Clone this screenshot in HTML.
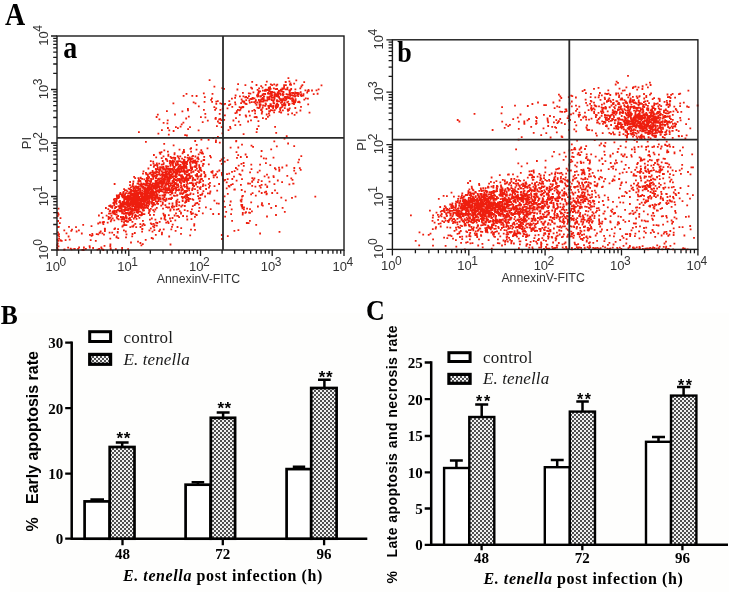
<!DOCTYPE html>
<html><head><meta charset="utf-8"><style>
html,body{margin:0;padding:0;background:#fff;}
svg{display:block;filter:blur(0.3px);}
</style></head><body>
<svg width="729" height="592" viewBox="0 0 729 592">
<defs><pattern id="chk" width="4" height="4" patternUnits="userSpaceOnUse"><rect width="4" height="4" fill="#f2f2f2"/><rect width="2" height="2" fill="#505050"/><rect x="2" y="2" width="2" height="2" fill="#505050"/></pattern></defs>
<rect width="729" height="592" fill="#fff"/>
<rect x="10" y="313" width="719" height="279" fill="#fefefd"/>
<path fill="#ee1e0e" d="M136.5 193.4h1.8v1.8h-1.8zM140.5 201.5h1.8v1.8h-1.8zM132.7 208.3h1.8v1.8h-1.8zM124.3 207.8h1.8v1.8h-1.8zM130.3 189h1.8v1.8h-1.8zM122.9 200.4h1.8v1.8h-1.8zM137.3 189.2h1.8v1.8h-1.8zM154.7 196.8h1.8v1.8h-1.8zM129.7 193h1.8v1.8h-1.8zM128 205.3h1.8v1.8h-1.8zM143.1 197.6h1.8v1.8h-1.8zM141.3 177.9h1.8v1.8h-1.8zM137.9 192h1.8v1.8h-1.8zM123.8 205.7h1.8v1.8h-1.8zM136.1 199h1.8v1.8h-1.8zM145.9 193.1h1.8v1.8h-1.8zM118.1 194.2h1.8v1.8h-1.8zM130.2 203.8h1.8v1.8h-1.8zM110.5 218.9h1.8v1.8h-1.8zM118.9 205.4h1.8v1.8h-1.8zM111.4 205.3h1.8v1.8h-1.8zM133.3 198.3h1.8v1.8h-1.8zM119.2 193.1h1.8v1.8h-1.8zM140.2 194.8h1.8v1.8h-1.8zM138.6 191.5h1.8v1.8h-1.8zM133.9 207.4h1.8v1.8h-1.8zM129.1 184.3h1.8v1.8h-1.8zM135.8 192.6h1.8v1.8h-1.8zM138 195.9h1.8v1.8h-1.8zM115.6 203h1.8v1.8h-1.8zM129.9 186.5h1.8v1.8h-1.8zM123.1 209.1h1.8v1.8h-1.8zM125.4 202.2h1.8v1.8h-1.8zM150.9 190.7h1.8v1.8h-1.8zM125.5 195.7h1.8v1.8h-1.8zM136 201.7h1.8v1.8h-1.8zM148.5 192.5h1.8v1.8h-1.8zM128.5 202.6h1.8v1.8h-1.8zM134.9 197.8h1.8v1.8h-1.8zM138 198.9h1.8v1.8h-1.8zM137.3 206.8h1.8v1.8h-1.8zM119.8 203.2h1.8v1.8h-1.8zM137.5 191.3h1.8v1.8h-1.8zM155 200.4h1.8v1.8h-1.8zM115.4 206.1h1.8v1.8h-1.8zM148.2 189.9h1.8v1.8h-1.8zM138.1 206h1.8v1.8h-1.8zM127.7 199.3h1.8v1.8h-1.8zM163.7 198.7h1.8v1.8h-1.8zM146.9 186.7h1.8v1.8h-1.8zM137.5 182.5h1.8v1.8h-1.8zM144.3 197.7h1.8v1.8h-1.8zM133.9 193.3h1.8v1.8h-1.8zM145.8 194.7h1.8v1.8h-1.8zM135.6 197.8h1.8v1.8h-1.8zM145.6 183.9h1.8v1.8h-1.8zM156.1 202.8h1.8v1.8h-1.8zM127.2 192.8h1.8v1.8h-1.8zM139.2 197.9h1.8v1.8h-1.8zM130.1 189.3h1.8v1.8h-1.8zM138.2 196.4h1.8v1.8h-1.8zM120.3 208h1.8v1.8h-1.8zM128.6 198.4h1.8v1.8h-1.8zM133.8 193.4h1.8v1.8h-1.8zM148.7 194.5h1.8v1.8h-1.8zM152.1 190.1h1.8v1.8h-1.8zM118.4 207.4h1.8v1.8h-1.8zM125.6 217.6h1.8v1.8h-1.8zM145.3 188.9h1.8v1.8h-1.8zM130.1 198.9h1.8v1.8h-1.8zM135.1 198.1h1.8v1.8h-1.8zM153.6 185.5h1.8v1.8h-1.8zM145.9 199.1h1.8v1.8h-1.8zM132 204.9h1.8v1.8h-1.8zM131.4 201.1h1.8v1.8h-1.8zM133 190.1h1.8v1.8h-1.8zM157.2 203h1.8v1.8h-1.8zM130.6 190.8h1.8v1.8h-1.8zM132.3 204.3h1.8v1.8h-1.8zM141.3 205.3h1.8v1.8h-1.8zM134.8 189.1h1.8v1.8h-1.8zM133.8 199.8h1.8v1.8h-1.8zM121.3 212.5h1.8v1.8h-1.8zM136.3 201.1h1.8v1.8h-1.8zM130.4 192.9h1.8v1.8h-1.8zM152.4 184.7h1.8v1.8h-1.8zM145.4 199h1.8v1.8h-1.8zM136.1 195.3h1.8v1.8h-1.8zM145.6 190.2h1.8v1.8h-1.8zM131.8 204.5h1.8v1.8h-1.8zM150.8 191.5h1.8v1.8h-1.8zM136.4 198.5h1.8v1.8h-1.8zM144.4 200.1h1.8v1.8h-1.8zM118.9 207h1.8v1.8h-1.8zM141.2 196.4h1.8v1.8h-1.8zM113.4 204.5h1.8v1.8h-1.8zM108.7 210.4h1.8v1.8h-1.8zM132.3 202.7h1.8v1.8h-1.8zM124.2 193.2h1.8v1.8h-1.8zM138.7 196h1.8v1.8h-1.8zM167.1 182.9h1.8v1.8h-1.8zM125.1 192.3h1.8v1.8h-1.8zM128 196.2h1.8v1.8h-1.8zM139.3 180.1h1.8v1.8h-1.8zM143.2 202.7h1.8v1.8h-1.8zM134.1 192.8h1.8v1.8h-1.8zM133.7 201.5h1.8v1.8h-1.8zM146 181.4h1.8v1.8h-1.8zM143.5 183.3h1.8v1.8h-1.8zM122.4 217.2h1.8v1.8h-1.8zM135.4 206h1.8v1.8h-1.8zM136.9 193.1h1.8v1.8h-1.8zM122.1 196.3h1.8v1.8h-1.8zM140 191.6h1.8v1.8h-1.8zM124.8 202.1h1.8v1.8h-1.8zM149.7 191.1h1.8v1.8h-1.8zM139.1 192.5h1.8v1.8h-1.8zM137.7 198.5h1.8v1.8h-1.8zM128.4 192.7h1.8v1.8h-1.8zM134.8 216h1.8v1.8h-1.8zM121 210.5h1.8v1.8h-1.8zM141.4 189.5h1.8v1.8h-1.8zM107.4 208.2h1.8v1.8h-1.8zM148 201.8h1.8v1.8h-1.8zM112.7 202.1h1.8v1.8h-1.8zM146.8 202.3h1.8v1.8h-1.8zM124.9 208.5h1.8v1.8h-1.8zM147.1 207.3h1.8v1.8h-1.8zM138.2 198h1.8v1.8h-1.8zM115.5 200.4h1.8v1.8h-1.8zM153.5 185.6h1.8v1.8h-1.8zM156.1 193.8h1.8v1.8h-1.8zM135.6 190.5h1.8v1.8h-1.8zM132.7 199.2h1.8v1.8h-1.8zM134.3 199.6h1.8v1.8h-1.8zM123.2 197.6h1.8v1.8h-1.8zM151.4 186h1.8v1.8h-1.8zM129.1 203h1.8v1.8h-1.8zM135.8 200.3h1.8v1.8h-1.8zM125.6 202.6h1.8v1.8h-1.8zM127.9 200.1h1.8v1.8h-1.8zM119 210.1h1.8v1.8h-1.8zM153.6 185.6h1.8v1.8h-1.8zM134.4 201.9h1.8v1.8h-1.8zM149.6 191h1.8v1.8h-1.8zM136.6 204.5h1.8v1.8h-1.8zM127 198.2h1.8v1.8h-1.8zM132 196.5h1.8v1.8h-1.8zM128.8 203.6h1.8v1.8h-1.8zM136.6 182.8h1.8v1.8h-1.8zM131.3 196.9h1.8v1.8h-1.8zM132.4 185.8h1.8v1.8h-1.8zM117.7 196.3h1.8v1.8h-1.8zM125.5 206.4h1.8v1.8h-1.8zM159 194.8h1.8v1.8h-1.8zM127.3 197.5h1.8v1.8h-1.8zM122.1 201.9h1.8v1.8h-1.8zM141.1 196.6h1.8v1.8h-1.8zM155.6 195h1.8v1.8h-1.8zM116.6 217.7h1.8v1.8h-1.8zM133.6 200.8h1.8v1.8h-1.8zM127.8 217.7h1.8v1.8h-1.8zM112.5 202.2h1.8v1.8h-1.8zM146.5 201h1.8v1.8h-1.8zM136.1 203.8h1.8v1.8h-1.8zM137.4 199.7h1.8v1.8h-1.8zM126.2 199.1h1.8v1.8h-1.8zM142.7 207.5h1.8v1.8h-1.8zM129.1 213.7h1.8v1.8h-1.8zM134.5 207h1.8v1.8h-1.8zM121.4 218.2h1.8v1.8h-1.8zM119.9 210.4h1.8v1.8h-1.8zM154.7 181h1.8v1.8h-1.8zM129.5 208.3h1.8v1.8h-1.8zM140.4 192.2h1.8v1.8h-1.8zM136 208.9h1.8v1.8h-1.8zM130.4 197.7h1.8v1.8h-1.8zM129.5 202.7h1.8v1.8h-1.8zM145 196.3h1.8v1.8h-1.8zM132.3 195.1h1.8v1.8h-1.8zM134.4 185.4h1.8v1.8h-1.8zM136.8 196.7h1.8v1.8h-1.8zM152.5 192.8h1.8v1.8h-1.8zM145.7 203.1h1.8v1.8h-1.8zM141.7 192.3h1.8v1.8h-1.8zM128.8 202.3h1.8v1.8h-1.8zM117.6 197.2h1.8v1.8h-1.8zM149.4 195h1.8v1.8h-1.8zM149.6 181.2h1.8v1.8h-1.8zM134.5 214h1.8v1.8h-1.8zM143.8 198.5h1.8v1.8h-1.8zM147.1 188.5h1.8v1.8h-1.8zM147.8 197.8h1.8v1.8h-1.8zM149 200.8h1.8v1.8h-1.8zM130.2 202.1h1.8v1.8h-1.8zM157.1 203h1.8v1.8h-1.8zM119.5 202.2h1.8v1.8h-1.8zM148.2 176.3h1.8v1.8h-1.8zM143.2 187.6h1.8v1.8h-1.8zM148.4 203.4h1.8v1.8h-1.8zM162.1 197.7h1.8v1.8h-1.8zM156.7 195.7h1.8v1.8h-1.8zM120.8 195h1.8v1.8h-1.8zM113.4 211.1h1.8v1.8h-1.8zM147.6 200.4h1.8v1.8h-1.8zM122.6 195.4h1.8v1.8h-1.8zM136.3 191.7h1.8v1.8h-1.8zM147.9 197.9h1.8v1.8h-1.8zM114.1 213.2h1.8v1.8h-1.8zM107.7 218.2h1.8v1.8h-1.8zM140 202.6h1.8v1.8h-1.8zM137.1 215.2h1.8v1.8h-1.8zM133.1 193.5h1.8v1.8h-1.8zM137 202.9h1.8v1.8h-1.8zM124.7 197.9h1.8v1.8h-1.8zM134.2 190h1.8v1.8h-1.8zM123.2 210.8h1.8v1.8h-1.8zM114.1 198h1.8v1.8h-1.8zM143.4 187.5h1.8v1.8h-1.8zM135.6 204.2h1.8v1.8h-1.8zM142 204h1.8v1.8h-1.8zM123 202.9h1.8v1.8h-1.8zM127.5 213.1h1.8v1.8h-1.8zM122.8 190.9h1.8v1.8h-1.8zM124.4 220.1h1.8v1.8h-1.8zM139.1 206h1.8v1.8h-1.8zM125.8 203.4h1.8v1.8h-1.8zM141.3 198.6h1.8v1.8h-1.8zM141.1 195.7h1.8v1.8h-1.8zM164.1 188.4h1.8v1.8h-1.8zM117.5 205.3h1.8v1.8h-1.8zM148.6 186.2h1.8v1.8h-1.8zM135.2 215h1.8v1.8h-1.8zM136.3 198.3h1.8v1.8h-1.8zM116.7 209.3h1.8v1.8h-1.8zM130.2 199h1.8v1.8h-1.8zM146.6 193.7h1.8v1.8h-1.8zM135.3 205.6h1.8v1.8h-1.8zM137.6 202.9h1.8v1.8h-1.8zM132.5 193.3h1.8v1.8h-1.8zM152.2 191.2h1.8v1.8h-1.8zM136.2 203.6h1.8v1.8h-1.8zM109.6 217h1.8v1.8h-1.8zM129.2 181.1h1.8v1.8h-1.8zM154.6 187.1h1.8v1.8h-1.8zM137.1 196.4h1.8v1.8h-1.8zM120.5 204.4h1.8v1.8h-1.8zM123.6 206h1.8v1.8h-1.8zM151.9 195.5h1.8v1.8h-1.8zM138.6 201.9h1.8v1.8h-1.8zM137.1 192.4h1.8v1.8h-1.8zM135.7 201.5h1.8v1.8h-1.8zM137 201.5h1.8v1.8h-1.8zM147.4 204.4h1.8v1.8h-1.8zM144 196.5h1.8v1.8h-1.8zM139.4 204.3h1.8v1.8h-1.8zM122.2 203.7h1.8v1.8h-1.8zM143.4 188.3h1.8v1.8h-1.8zM127.1 198.1h1.8v1.8h-1.8zM151.4 190.2h1.8v1.8h-1.8zM119.1 200.4h1.8v1.8h-1.8zM134.6 198.4h1.8v1.8h-1.8zM136.4 199.3h1.8v1.8h-1.8zM118.4 205.7h1.8v1.8h-1.8zM159.9 185.8h1.8v1.8h-1.8zM156.4 200.9h1.8v1.8h-1.8zM130.1 189.8h1.8v1.8h-1.8zM147 195h1.8v1.8h-1.8zM141.6 202.5h1.8v1.8h-1.8zM100.8 212.1h1.8v1.8h-1.8zM139.9 202.5h1.8v1.8h-1.8zM135.6 197.3h1.8v1.8h-1.8zM137.6 203.4h1.8v1.8h-1.8zM121.8 193.7h1.8v1.8h-1.8zM132.8 205.3h1.8v1.8h-1.8zM134 216.3h1.8v1.8h-1.8zM152.7 199.3h1.8v1.8h-1.8zM141 212.3h1.8v1.8h-1.8zM136.4 198.6h1.8v1.8h-1.8zM157.3 184.3h1.8v1.8h-1.8zM128.9 195.5h1.8v1.8h-1.8zM131.2 210h1.8v1.8h-1.8zM111.7 211.1h1.8v1.8h-1.8zM157.9 178.6h1.8v1.8h-1.8zM149.6 192.1h1.8v1.8h-1.8zM149 194.7h1.8v1.8h-1.8zM145.6 187.6h1.8v1.8h-1.8zM138 179.1h1.8v1.8h-1.8zM139.4 187.5h1.8v1.8h-1.8zM133 198.2h1.8v1.8h-1.8zM133.7 196.3h1.8v1.8h-1.8zM137.2 193.3h1.8v1.8h-1.8zM157.1 197.1h1.8v1.8h-1.8zM144 204.2h1.8v1.8h-1.8zM135.7 198.1h1.8v1.8h-1.8zM128.6 207.7h1.8v1.8h-1.8zM127.8 201.2h1.8v1.8h-1.8zM158.3 191.4h1.8v1.8h-1.8zM143.4 178.4h1.8v1.8h-1.8zM137.4 204.5h1.8v1.8h-1.8zM131.7 200.5h1.8v1.8h-1.8zM121.3 203.8h1.8v1.8h-1.8zM135.5 195.2h1.8v1.8h-1.8zM148.4 186.9h1.8v1.8h-1.8zM131.1 203.5h1.8v1.8h-1.8zM133.4 205.4h1.8v1.8h-1.8zM133.4 211.7h1.8v1.8h-1.8zM138 204.9h1.8v1.8h-1.8zM114.7 200.3h1.8v1.8h-1.8zM133.3 198.8h1.8v1.8h-1.8zM124.8 209.3h1.8v1.8h-1.8zM148.5 197.7h1.8v1.8h-1.8zM126 201h1.8v1.8h-1.8zM144.3 192.2h1.8v1.8h-1.8zM157.2 196.9h1.8v1.8h-1.8zM132.2 201.4h1.8v1.8h-1.8zM128.3 214.5h1.8v1.8h-1.8zM139.1 206.3h1.8v1.8h-1.8zM136.4 185.9h1.8v1.8h-1.8zM122.9 218.8h1.8v1.8h-1.8zM142.7 199.1h1.8v1.8h-1.8zM163.9 188.8h1.8v1.8h-1.8zM132.9 202.1h1.8v1.8h-1.8zM133.7 205.2h1.8v1.8h-1.8zM122.2 202.8h1.8v1.8h-1.8zM140.8 197.1h1.8v1.8h-1.8zM119.5 203.7h1.8v1.8h-1.8zM121.4 216.9h1.8v1.8h-1.8zM153.9 194.5h1.8v1.8h-1.8zM124.1 208.3h1.8v1.8h-1.8zM151.2 198.3h1.8v1.8h-1.8zM157.2 190.7h1.8v1.8h-1.8zM140 192.4h1.8v1.8h-1.8zM144 189.3h1.8v1.8h-1.8zM163.1 194.5h1.8v1.8h-1.8zM133.8 192h1.8v1.8h-1.8zM128.4 191.6h1.8v1.8h-1.8zM118 194.8h1.8v1.8h-1.8zM137 187.5h1.8v1.8h-1.8zM156.6 193.7h1.8v1.8h-1.8zM149.5 195.9h1.8v1.8h-1.8zM123.6 195.6h1.8v1.8h-1.8zM124.8 212h1.8v1.8h-1.8zM129.6 198.6h1.8v1.8h-1.8zM140.4 201.2h1.8v1.8h-1.8zM133.7 201.9h1.8v1.8h-1.8zM139.4 210.8h1.8v1.8h-1.8zM140.5 203.9h1.8v1.8h-1.8zM132.4 199.6h1.8v1.8h-1.8zM135.9 191.6h1.8v1.8h-1.8zM139.3 189.9h1.8v1.8h-1.8zM135.3 199.2h1.8v1.8h-1.8zM143.3 197.8h1.8v1.8h-1.8zM162 197.4h1.8v1.8h-1.8zM144.5 192.9h1.8v1.8h-1.8zM137.2 200h1.8v1.8h-1.8zM113.5 200.1h1.8v1.8h-1.8zM141.7 183.4h1.8v1.8h-1.8zM109.9 206h1.8v1.8h-1.8zM117.3 215.1h1.8v1.8h-1.8zM148.1 201.6h1.8v1.8h-1.8zM146.1 206.7h1.8v1.8h-1.8zM134.4 208h1.8v1.8h-1.8zM131.4 198h1.8v1.8h-1.8zM127.2 212.5h1.8v1.8h-1.8zM145.1 190.8h1.8v1.8h-1.8zM167.2 179.9h1.8v1.8h-1.8zM139.4 200.2h1.8v1.8h-1.8zM125.8 206.4h1.8v1.8h-1.8zM120.5 205.4h1.8v1.8h-1.8zM135.7 196.3h1.8v1.8h-1.8zM134 194.1h1.8v1.8h-1.8zM120.8 193.7h1.8v1.8h-1.8zM138 188.6h1.8v1.8h-1.8zM120.8 193.6h1.8v1.8h-1.8zM151.6 183.6h1.8v1.8h-1.8zM150.9 189.1h1.8v1.8h-1.8zM151.2 205.8h1.8v1.8h-1.8zM130 201.1h1.8v1.8h-1.8zM143.5 193.9h1.8v1.8h-1.8zM134.7 201.7h1.8v1.8h-1.8zM131.2 192.8h1.8v1.8h-1.8zM131.8 202.3h1.8v1.8h-1.8zM118.7 210.4h1.8v1.8h-1.8zM147.3 190.1h1.8v1.8h-1.8zM133.9 197.3h1.8v1.8h-1.8zM139.4 190.4h1.8v1.8h-1.8zM150.1 186.3h1.8v1.8h-1.8zM112.8 202.3h1.8v1.8h-1.8zM125.8 220.1h1.8v1.8h-1.8zM138.9 202.8h1.8v1.8h-1.8zM141.8 200.3h1.8v1.8h-1.8zM131.3 207.3h1.8v1.8h-1.8zM150.5 192.8h1.8v1.8h-1.8zM139.3 188.4h1.8v1.8h-1.8zM119.9 206.7h1.8v1.8h-1.8zM123.8 210.5h1.8v1.8h-1.8zM147.4 179.7h1.8v1.8h-1.8zM142.8 199.9h1.8v1.8h-1.8zM110.6 215h1.8v1.8h-1.8zM154.8 191.3h1.8v1.8h-1.8zM144.6 192.7h1.8v1.8h-1.8zM154.8 198.5h1.8v1.8h-1.8zM131.2 193.7h1.8v1.8h-1.8zM132.4 203.1h1.8v1.8h-1.8zM121.1 209.7h1.8v1.8h-1.8zM171 187.1h1.8v1.8h-1.8zM134.1 193.1h1.8v1.8h-1.8zM158.1 197h1.8v1.8h-1.8zM127.6 198.2h1.8v1.8h-1.8zM138.7 198.4h1.8v1.8h-1.8zM113.7 183.1h1.8v1.8h-1.8zM131.2 205.2h1.8v1.8h-1.8zM149.9 183.9h1.8v1.8h-1.8zM119.4 203.5h1.8v1.8h-1.8zM151.1 195.1h1.8v1.8h-1.8zM141.1 191.5h1.8v1.8h-1.8zM122.2 195.5h1.8v1.8h-1.8zM129.6 190.5h1.8v1.8h-1.8zM130.2 197.5h1.8v1.8h-1.8zM135.8 203.1h1.8v1.8h-1.8zM129.2 204.5h1.8v1.8h-1.8zM125.2 197.6h1.8v1.8h-1.8zM132.3 195h1.8v1.8h-1.8zM122.5 191.5h1.8v1.8h-1.8zM118.9 200h1.8v1.8h-1.8zM135.8 190.4h1.8v1.8h-1.8zM148.5 183.3h1.8v1.8h-1.8zM115.6 202.9h1.8v1.8h-1.8zM136.5 209.6h1.8v1.8h-1.8zM127.6 209.8h1.8v1.8h-1.8zM123.1 213h1.8v1.8h-1.8zM148.1 182.8h1.8v1.8h-1.8zM129.4 206.7h1.8v1.8h-1.8zM156.9 183.1h1.8v1.8h-1.8zM125.8 196.8h1.8v1.8h-1.8zM141.7 183.7h1.8v1.8h-1.8zM133.4 191.5h1.8v1.8h-1.8zM126.2 202h1.8v1.8h-1.8zM144.5 197.5h1.8v1.8h-1.8zM134.3 198.2h1.8v1.8h-1.8zM144.7 194.6h1.8v1.8h-1.8zM135.8 202.5h1.8v1.8h-1.8zM121.7 202.7h1.8v1.8h-1.8zM135.1 186.4h1.8v1.8h-1.8zM137.2 211.1h1.8v1.8h-1.8zM149.5 192.6h1.8v1.8h-1.8zM124.1 208.7h1.8v1.8h-1.8zM135.9 197h1.8v1.8h-1.8zM113 198.5h1.8v1.8h-1.8zM145.3 196.2h1.8v1.8h-1.8zM121.7 196.5h1.8v1.8h-1.8zM111.8 217.4h1.8v1.8h-1.8zM135.7 190h1.8v1.8h-1.8zM151.5 198.6h1.8v1.8h-1.8zM115.7 199.4h1.8v1.8h-1.8zM121.6 201.1h1.8v1.8h-1.8zM126.3 220.9h1.8v1.8h-1.8zM121.1 208.4h1.8v1.8h-1.8zM141.6 195.1h1.8v1.8h-1.8zM125.5 189.5h1.8v1.8h-1.8zM126.6 198.9h1.8v1.8h-1.8zM144.4 194.1h1.8v1.8h-1.8zM126.2 212h1.8v1.8h-1.8zM142.4 185.7h1.8v1.8h-1.8zM123.2 188.2h1.8v1.8h-1.8zM119.9 202.7h1.8v1.8h-1.8zM111.4 207h1.8v1.8h-1.8zM161.8 203.5h1.8v1.8h-1.8zM132.1 192.8h1.8v1.8h-1.8zM139.8 176.7h1.8v1.8h-1.8zM136 192.9h1.8v1.8h-1.8zM138.6 188h1.8v1.8h-1.8zM137.1 193.9h1.8v1.8h-1.8zM162.5 198.5h1.8v1.8h-1.8zM122.3 192.1h1.8v1.8h-1.8zM115.2 213.7h1.8v1.8h-1.8zM122.7 203.8h1.8v1.8h-1.8zM118.3 201.3h1.8v1.8h-1.8zM146.6 188.6h1.8v1.8h-1.8zM147.6 191.9h1.8v1.8h-1.8zM123.4 199h1.8v1.8h-1.8zM117.5 209.5h1.8v1.8h-1.8zM131.6 209.5h1.8v1.8h-1.8zM155.4 192.4h1.8v1.8h-1.8zM98 214.6h1.8v1.8h-1.8zM143.6 206.2h1.8v1.8h-1.8zM121.8 212.1h1.8v1.8h-1.8zM150.6 198h1.8v1.8h-1.8zM121.8 216.6h1.8v1.8h-1.8zM132.6 209.7h1.8v1.8h-1.8zM115.9 216.6h1.8v1.8h-1.8zM123.1 200.6h1.8v1.8h-1.8zM155.4 189.8h1.8v1.8h-1.8zM147.6 179.8h1.8v1.8h-1.8zM131 211.3h1.8v1.8h-1.8zM124.6 206.8h1.8v1.8h-1.8zM131.1 201.4h1.8v1.8h-1.8zM136 200.9h1.8v1.8h-1.8zM135.3 185.5h1.8v1.8h-1.8zM135.2 201.2h1.8v1.8h-1.8zM121.2 211.4h1.8v1.8h-1.8zM135.6 208.6h1.8v1.8h-1.8zM135.9 195.9h1.8v1.8h-1.8zM154.1 191h1.8v1.8h-1.8zM161.9 201.6h1.8v1.8h-1.8zM134.6 206.3h1.8v1.8h-1.8zM126 197.1h1.8v1.8h-1.8zM135.6 194.1h1.8v1.8h-1.8zM128.2 205.5h1.8v1.8h-1.8zM126.3 196.4h1.8v1.8h-1.8zM135.7 194.1h1.8v1.8h-1.8zM122.2 215.9h1.8v1.8h-1.8zM144.7 198.3h1.8v1.8h-1.8zM135 195.5h1.8v1.8h-1.8zM139.9 201.7h1.8v1.8h-1.8zM134 215.3h1.8v1.8h-1.8zM126.5 203.2h1.8v1.8h-1.8zM123.5 196.2h1.8v1.8h-1.8zM133.2 187.1h1.8v1.8h-1.8zM129 217.1h1.8v1.8h-1.8zM139.6 177.4h1.8v1.8h-1.8zM136.4 206.9h1.8v1.8h-1.8zM117.9 196.2h1.8v1.8h-1.8zM137.4 188.6h1.8v1.8h-1.8zM118.2 195.9h1.8v1.8h-1.8zM128.1 199.5h1.8v1.8h-1.8zM132.4 208.3h1.8v1.8h-1.8zM137.7 203.4h1.8v1.8h-1.8zM138.5 217h1.8v1.8h-1.8zM134.3 177.3h1.8v1.8h-1.8zM130.7 194.5h1.8v1.8h-1.8zM131.4 185.8h1.8v1.8h-1.8zM123.1 209h1.8v1.8h-1.8zM132.8 188.1h1.8v1.8h-1.8zM128.9 188.3h1.8v1.8h-1.8zM137.7 186h1.8v1.8h-1.8zM120 203.1h1.8v1.8h-1.8zM139.7 206.6h1.8v1.8h-1.8zM138.4 199.1h1.8v1.8h-1.8zM134.5 215.7h1.8v1.8h-1.8zM130.5 213h1.8v1.8h-1.8zM144 195.4h1.8v1.8h-1.8zM113.8 212.3h1.8v1.8h-1.8zM142.7 197.8h1.8v1.8h-1.8zM139.8 198.2h1.8v1.8h-1.8zM140.3 182.4h1.8v1.8h-1.8zM141.7 186.9h1.8v1.8h-1.8zM127.5 201.1h1.8v1.8h-1.8zM132.9 190h1.8v1.8h-1.8zM145.1 201.8h1.8v1.8h-1.8zM142.3 199.2h1.8v1.8h-1.8zM139.3 190.5h1.8v1.8h-1.8zM115.8 213.6h1.8v1.8h-1.8zM143.8 198.3h1.8v1.8h-1.8zM152.4 203.9h1.8v1.8h-1.8zM150.2 193.5h1.8v1.8h-1.8zM139.6 184.9h1.8v1.8h-1.8zM115.2 210h1.8v1.8h-1.8zM149.3 192.9h1.8v1.8h-1.8zM134.5 205.7h1.8v1.8h-1.8zM101.9 216.8h1.8v1.8h-1.8zM141.6 206.3h1.8v1.8h-1.8zM127.8 197h1.8v1.8h-1.8zM153.8 198.8h1.8v1.8h-1.8zM131.4 194.3h1.8v1.8h-1.8zM140.2 199.8h1.8v1.8h-1.8zM160.3 185.4h1.8v1.8h-1.8zM158.2 189.9h1.8v1.8h-1.8zM135.1 196.5h1.8v1.8h-1.8zM133.2 194.6h1.8v1.8h-1.8zM119.3 207.6h1.8v1.8h-1.8zM127 204h1.8v1.8h-1.8zM142.3 209.8h1.8v1.8h-1.8zM141.9 200.1h1.8v1.8h-1.8zM138 208.7h1.8v1.8h-1.8zM150 195.5h1.8v1.8h-1.8zM125.9 208.6h1.8v1.8h-1.8zM135.7 197.7h1.8v1.8h-1.8zM146.4 192h1.8v1.8h-1.8zM144.4 206.9h1.8v1.8h-1.8zM151.1 200.4h1.8v1.8h-1.8zM141.9 204h1.8v1.8h-1.8zM132.2 193.8h1.8v1.8h-1.8zM141.4 183.8h1.8v1.8h-1.8zM122.8 195.6h1.8v1.8h-1.8zM114.1 207.3h1.8v1.8h-1.8zM144.4 184.8h1.8v1.8h-1.8zM135.7 210.1h1.8v1.8h-1.8zM140.7 185.6h1.8v1.8h-1.8zM113.3 209.8h1.8v1.8h-1.8zM131.5 220.9h1.8v1.8h-1.8zM124.7 189.5h1.8v1.8h-1.8zM105.7 214.8h1.8v1.8h-1.8zM131.9 198.3h1.8v1.8h-1.8zM148.7 196.5h1.8v1.8h-1.8zM141.7 196h1.8v1.8h-1.8zM128.3 211.9h1.8v1.8h-1.8zM136.3 203.5h1.8v1.8h-1.8zM146.8 191.8h1.8v1.8h-1.8zM134.8 189.6h1.8v1.8h-1.8zM143.9 195.6h1.8v1.8h-1.8zM145.8 177.7h1.8v1.8h-1.8zM159.6 197.2h1.8v1.8h-1.8zM151.9 191.9h1.8v1.8h-1.8zM140.7 211.7h1.8v1.8h-1.8zM140.6 206.7h1.8v1.8h-1.8zM147.2 185.1h1.8v1.8h-1.8zM129.1 207.6h1.8v1.8h-1.8zM135.9 194.4h1.8v1.8h-1.8zM148.8 195.3h1.8v1.8h-1.8zM163.1 198.7h1.8v1.8h-1.8zM134.3 201.6h1.8v1.8h-1.8zM135.8 202.4h1.8v1.8h-1.8zM139.2 201.2h1.8v1.8h-1.8zM154.8 187.3h1.8v1.8h-1.8zM136 193.4h1.8v1.8h-1.8zM156.5 197h1.8v1.8h-1.8zM123.3 208.9h1.8v1.8h-1.8zM133.9 196.8h1.8v1.8h-1.8zM133.8 199.8h1.8v1.8h-1.8zM147.2 187.4h1.8v1.8h-1.8zM150.7 174h1.8v1.8h-1.8zM115.9 197.6h1.8v1.8h-1.8zM124 202.1h1.8v1.8h-1.8zM141.1 198.3h1.8v1.8h-1.8zM127.5 207.4h1.8v1.8h-1.8zM115.7 211.1h1.8v1.8h-1.8zM150.6 201.9h1.8v1.8h-1.8zM143.2 199.4h1.8v1.8h-1.8zM143.2 199.6h1.8v1.8h-1.8zM130 194.4h1.8v1.8h-1.8zM150.5 197.4h1.8v1.8h-1.8zM133.2 200.7h1.8v1.8h-1.8zM151.4 203.4h1.8v1.8h-1.8zM124 189.2h1.8v1.8h-1.8zM124.8 197.7h1.8v1.8h-1.8zM139.3 183.8h1.8v1.8h-1.8zM126.9 194.9h1.8v1.8h-1.8zM145.7 184.3h1.8v1.8h-1.8zM140 199.2h1.8v1.8h-1.8zM123.9 196.3h1.8v1.8h-1.8zM137.5 177.3h1.8v1.8h-1.8zM131.7 209h1.8v1.8h-1.8zM148.9 185.8h1.8v1.8h-1.8zM127.8 187.7h1.8v1.8h-1.8zM130.5 196.7h1.8v1.8h-1.8zM153 187.8h1.8v1.8h-1.8zM167 179.9h1.8v1.8h-1.8zM163.7 195.7h1.8v1.8h-1.8zM137.3 194.8h1.8v1.8h-1.8zM139.4 204.2h1.8v1.8h-1.8zM157.4 197.7h1.8v1.8h-1.8zM134.8 203.6h1.8v1.8h-1.8zM123.1 203.2h1.8v1.8h-1.8zM138.1 196.7h1.8v1.8h-1.8zM142.6 193h1.8v1.8h-1.8zM125.2 212.6h1.8v1.8h-1.8zM116.9 194.8h1.8v1.8h-1.8zM145.5 190h1.8v1.8h-1.8zM126.1 204h1.8v1.8h-1.8zM134.5 199.5h1.8v1.8h-1.8zM139.4 193.2h1.8v1.8h-1.8zM144.9 192.7h1.8v1.8h-1.8zM131.9 212.7h1.8v1.8h-1.8zM143.3 190.5h1.8v1.8h-1.8zM131.5 214.1h1.8v1.8h-1.8zM122.5 194.4h1.8v1.8h-1.8zM151.9 191h1.8v1.8h-1.8zM136.1 199.3h1.8v1.8h-1.8zM126.4 190.4h1.8v1.8h-1.8zM131.7 208.9h1.8v1.8h-1.8zM133.4 197.9h1.8v1.8h-1.8zM146 184.1h1.8v1.8h-1.8zM114.7 206h1.8v1.8h-1.8zM122.3 205.6h1.8v1.8h-1.8zM131.3 198.8h1.8v1.8h-1.8zM171 192h1.8v1.8h-1.8zM149.5 182.4h1.8v1.8h-1.8zM134.9 205.8h1.8v1.8h-1.8zM146.2 188.7h1.8v1.8h-1.8zM164.5 200.2h1.8v1.8h-1.8zM133.3 193.9h1.8v1.8h-1.8zM131.5 200.5h1.8v1.8h-1.8zM153 213.9h1.8v1.8h-1.8zM143.2 196.4h1.8v1.8h-1.8zM145.6 204.1h1.8v1.8h-1.8zM129.5 203.7h1.8v1.8h-1.8zM162.7 178.8h1.8v1.8h-1.8zM159.8 200.5h1.8v1.8h-1.8zM144.2 204.4h1.8v1.8h-1.8zM145.8 184.3h1.8v1.8h-1.8zM108.8 205.2h1.8v1.8h-1.8zM145.2 183.7h1.8v1.8h-1.8zM133.8 196.5h1.8v1.8h-1.8zM142.4 203.5h1.8v1.8h-1.8zM145.8 196.2h1.8v1.8h-1.8zM131.8 189.9h1.8v1.8h-1.8zM141.5 196.9h1.8v1.8h-1.8zM126.4 200.7h1.8v1.8h-1.8zM132 200.4h1.8v1.8h-1.8zM128.2 205.1h1.8v1.8h-1.8zM131.8 184.4h1.8v1.8h-1.8zM105 207.1h1.8v1.8h-1.8zM153.1 202.5h1.8v1.8h-1.8zM139.9 201h1.8v1.8h-1.8zM151.6 188.3h1.8v1.8h-1.8zM163.5 185.6h1.8v1.8h-1.8zM136.8 199.3h1.8v1.8h-1.8zM111.9 210.5h1.8v1.8h-1.8zM124.3 201.5h1.8v1.8h-1.8zM120 216.1h1.8v1.8h-1.8zM129.6 210.4h1.8v1.8h-1.8zM137.5 191.7h1.8v1.8h-1.8zM109.2 209.8h1.8v1.8h-1.8zM141.1 194h1.8v1.8h-1.8zM115.9 194.5h1.8v1.8h-1.8zM140.5 192h1.8v1.8h-1.8zM135 198.5h1.8v1.8h-1.8zM132.2 182.8h1.8v1.8h-1.8zM135.5 193.3h1.8v1.8h-1.8zM129.1 203.1h1.8v1.8h-1.8zM128.1 194.9h1.8v1.8h-1.8zM113.5 201.6h1.8v1.8h-1.8zM136.1 205.1h1.8v1.8h-1.8zM161.6 190.6h1.8v1.8h-1.8zM163.5 191.9h1.8v1.8h-1.8zM154.5 208.6h1.8v1.8h-1.8zM146.1 196.9h1.8v1.8h-1.8zM127.2 203.1h1.8v1.8h-1.8zM156.1 196.2h1.8v1.8h-1.8zM135.7 211.4h1.8v1.8h-1.8zM135.5 201.3h1.8v1.8h-1.8zM132.5 199.7h1.8v1.8h-1.8zM137.7 197.1h1.8v1.8h-1.8zM130.5 208.9h1.8v1.8h-1.8zM135.3 193.6h1.8v1.8h-1.8zM121.7 212h1.8v1.8h-1.8zM131.4 201.5h1.8v1.8h-1.8zM167.5 179.2h1.8v1.8h-1.8zM135.5 204h1.8v1.8h-1.8zM133.2 203.2h1.8v1.8h-1.8zM143.7 187.8h1.8v1.8h-1.8zM146.1 198.6h1.8v1.8h-1.8zM121.3 204.9h1.8v1.8h-1.8zM133.6 197.3h1.8v1.8h-1.8zM149 186.5h1.8v1.8h-1.8zM140.1 214.5h1.8v1.8h-1.8zM138.1 204.3h1.8v1.8h-1.8zM157.6 200.2h1.8v1.8h-1.8zM127.2 209.4h1.8v1.8h-1.8zM137.6 204.7h1.8v1.8h-1.8zM129.4 206.9h1.8v1.8h-1.8zM156.8 190.2h1.8v1.8h-1.8zM109.9 212.8h1.8v1.8h-1.8zM127.3 199.9h1.8v1.8h-1.8zM129.2 197.2h1.8v1.8h-1.8zM145.5 201.4h1.8v1.8h-1.8zM144.7 194.9h1.8v1.8h-1.8zM155.5 180.1h1.8v1.8h-1.8zM115 201.8h1.8v1.8h-1.8zM146.7 200.4h1.8v1.8h-1.8zM132.5 199.9h1.8v1.8h-1.8zM127.4 208h1.8v1.8h-1.8zM143.8 194.1h1.8v1.8h-1.8zM123.9 195.1h1.8v1.8h-1.8zM108.1 212.7h1.8v1.8h-1.8zM131.4 201.3h1.8v1.8h-1.8zM116 195.4h1.8v1.8h-1.8zM127.6 204.7h1.8v1.8h-1.8zM141.5 195.4h1.8v1.8h-1.8zM140.7 205.1h1.8v1.8h-1.8zM158.1 198.6h1.8v1.8h-1.8zM133.7 203h1.8v1.8h-1.8zM126.2 204.3h1.8v1.8h-1.8zM123.9 205.9h1.8v1.8h-1.8zM119.9 207.3h1.8v1.8h-1.8zM142.4 197.9h1.8v1.8h-1.8zM127.7 195.7h1.8v1.8h-1.8zM109.5 204.4h1.8v1.8h-1.8zM146 179.9h1.8v1.8h-1.8zM134.9 197.1h1.8v1.8h-1.8zM141.3 185.8h1.8v1.8h-1.8zM137.9 195.8h1.8v1.8h-1.8zM145.1 191.2h1.8v1.8h-1.8zM137 209.2h1.8v1.8h-1.8zM153.3 194.5h1.8v1.8h-1.8zM142.3 197.2h1.8v1.8h-1.8zM141.8 198.6h1.8v1.8h-1.8zM142 213.2h1.8v1.8h-1.8zM116.6 197.2h1.8v1.8h-1.8zM134.2 201.9h1.8v1.8h-1.8zM132.9 202.6h1.8v1.8h-1.8zM139.3 199.4h1.8v1.8h-1.8zM117.9 205.3h1.8v1.8h-1.8zM158.7 188.9h1.8v1.8h-1.8zM137.9 207.6h1.8v1.8h-1.8zM119.9 210.1h1.8v1.8h-1.8zM113.2 202.6h1.8v1.8h-1.8zM132.6 198.2h1.8v1.8h-1.8zM135.2 201.5h1.8v1.8h-1.8zM126.7 205.4h1.8v1.8h-1.8zM137.7 204.3h1.8v1.8h-1.8zM127.7 201.2h1.8v1.8h-1.8zM144 187.1h1.8v1.8h-1.8zM126.6 209.2h1.8v1.8h-1.8zM135.9 186.8h1.8v1.8h-1.8zM149.8 188.1h1.8v1.8h-1.8zM171.5 191.8h1.8v1.8h-1.8zM122.7 196.2h1.8v1.8h-1.8zM130.1 211.3h1.8v1.8h-1.8zM125 214.7h1.8v1.8h-1.8zM147.2 205.1h1.8v1.8h-1.8zM120.8 205.8h1.8v1.8h-1.8zM129.9 202.6h1.8v1.8h-1.8zM136.1 202.3h1.8v1.8h-1.8zM123.1 201.3h1.8v1.8h-1.8zM123.4 218.3h1.8v1.8h-1.8zM130 196.3h1.8v1.8h-1.8zM107.8 217.2h1.8v1.8h-1.8zM116.8 208.9h1.8v1.8h-1.8zM130.8 203h1.8v1.8h-1.8zM138.5 206.5h1.8v1.8h-1.8zM133.9 209.5h1.8v1.8h-1.8zM112.3 212.8h1.8v1.8h-1.8zM130.1 200.2h1.8v1.8h-1.8zM147.3 190.7h1.8v1.8h-1.8zM144 191.8h1.8v1.8h-1.8zM135.4 206.2h1.8v1.8h-1.8zM124.4 207.7h1.8v1.8h-1.8zM152.8 192.6h1.8v1.8h-1.8zM174.4 187.3h1.8v1.8h-1.8zM135.2 190.6h1.8v1.8h-1.8zM186.9 182.8h1.8v1.8h-1.8zM159.7 169h1.8v1.8h-1.8zM154.9 168.1h1.8v1.8h-1.8zM172.7 144.4h1.8v1.8h-1.8zM183.6 160.2h1.8v1.8h-1.8zM172.7 179.3h1.8v1.8h-1.8zM183.9 178h1.8v1.8h-1.8zM169.4 209.7h1.8v1.8h-1.8zM186.7 174.1h1.8v1.8h-1.8zM187 169.7h1.8v1.8h-1.8zM165.7 166h1.8v1.8h-1.8zM190 160.6h1.8v1.8h-1.8zM169.9 168.3h1.8v1.8h-1.8zM168.7 172.6h1.8v1.8h-1.8zM152.8 174h1.8v1.8h-1.8zM162.8 162.2h1.8v1.8h-1.8zM179.6 181.5h1.8v1.8h-1.8zM146.6 187.7h1.8v1.8h-1.8zM177.6 185.6h1.8v1.8h-1.8zM172.8 156.7h1.8v1.8h-1.8zM171.7 160.4h1.8v1.8h-1.8zM132.5 180.6h1.8v1.8h-1.8zM165.7 188.1h1.8v1.8h-1.8zM177.5 169.7h1.8v1.8h-1.8zM155.3 182.2h1.8v1.8h-1.8zM168.7 173.9h1.8v1.8h-1.8zM129.8 191.2h1.8v1.8h-1.8zM177.9 166h1.8v1.8h-1.8zM156.9 183.2h1.8v1.8h-1.8zM181.1 161.4h1.8v1.8h-1.8zM138.2 183.7h1.8v1.8h-1.8zM178.2 174.2h1.8v1.8h-1.8zM163.6 177.8h1.8v1.8h-1.8zM180.1 175h1.8v1.8h-1.8zM152.7 172.4h1.8v1.8h-1.8zM157.6 181.7h1.8v1.8h-1.8zM202.7 159.1h1.8v1.8h-1.8zM154.2 184.2h1.8v1.8h-1.8zM156.2 194.6h1.8v1.8h-1.8zM162.9 167.7h1.8v1.8h-1.8zM151.2 192.1h1.8v1.8h-1.8zM186.1 161.3h1.8v1.8h-1.8zM194.5 160.8h1.8v1.8h-1.8zM156.2 196.3h1.8v1.8h-1.8zM140.1 195.1h1.8v1.8h-1.8zM185.8 173.6h1.8v1.8h-1.8zM184.8 177.1h1.8v1.8h-1.8zM180.3 182.5h1.8v1.8h-1.8zM185.6 160.9h1.8v1.8h-1.8zM153.6 182.8h1.8v1.8h-1.8zM164.7 172.3h1.8v1.8h-1.8zM145.5 187.8h1.8v1.8h-1.8zM144.9 180.5h1.8v1.8h-1.8zM182.8 177.2h1.8v1.8h-1.8zM156.7 179.5h1.8v1.8h-1.8zM203.3 155.9h1.8v1.8h-1.8zM168.5 174.4h1.8v1.8h-1.8zM157.2 183.7h1.8v1.8h-1.8zM179.9 181.7h1.8v1.8h-1.8zM195.7 163h1.8v1.8h-1.8zM175 168.9h1.8v1.8h-1.8zM148.1 185.1h1.8v1.8h-1.8zM173.2 180.9h1.8v1.8h-1.8zM189 161.6h1.8v1.8h-1.8zM159.5 152.9h1.8v1.8h-1.8zM155.1 182.9h1.8v1.8h-1.8zM183.4 165.9h1.8v1.8h-1.8zM169.5 170.6h1.8v1.8h-1.8zM149.9 207.9h1.8v1.8h-1.8zM161.3 176.2h1.8v1.8h-1.8zM155.4 186.9h1.8v1.8h-1.8zM172 159.4h1.8v1.8h-1.8zM169 177.2h1.8v1.8h-1.8zM185.5 176.4h1.8v1.8h-1.8zM178.5 173.3h1.8v1.8h-1.8zM142.6 182.8h1.8v1.8h-1.8zM173.7 178.6h1.8v1.8h-1.8zM181.5 170.5h1.8v1.8h-1.8zM174.5 186.4h1.8v1.8h-1.8zM183.6 171.5h1.8v1.8h-1.8zM158.6 170.6h1.8v1.8h-1.8zM152.3 160.8h1.8v1.8h-1.8zM182 162.6h1.8v1.8h-1.8zM150.5 178.8h1.8v1.8h-1.8zM133.2 175.9h1.8v1.8h-1.8zM183.5 158.8h1.8v1.8h-1.8zM155.9 162.6h1.8v1.8h-1.8zM162.5 166h1.8v1.8h-1.8zM145.2 184.7h1.8v1.8h-1.8zM146.4 180.4h1.8v1.8h-1.8zM149.1 180.3h1.8v1.8h-1.8zM161.6 174.3h1.8v1.8h-1.8zM173.2 171.1h1.8v1.8h-1.8zM131 196.8h1.8v1.8h-1.8zM179.2 192.3h1.8v1.8h-1.8zM148.7 189.1h1.8v1.8h-1.8zM150.5 202.2h1.8v1.8h-1.8zM178 170.6h1.8v1.8h-1.8zM166.1 175.7h1.8v1.8h-1.8zM143.1 201.4h1.8v1.8h-1.8zM196.4 157.4h1.8v1.8h-1.8zM153.7 171.5h1.8v1.8h-1.8zM171.2 172.8h1.8v1.8h-1.8zM170.5 157.1h1.8v1.8h-1.8zM189.6 147.9h1.8v1.8h-1.8zM160.1 190.2h1.8v1.8h-1.8zM183.2 158.8h1.8v1.8h-1.8zM155.6 175.1h1.8v1.8h-1.8zM185 164.4h1.8v1.8h-1.8zM155.3 170.2h1.8v1.8h-1.8zM161.6 184.7h1.8v1.8h-1.8zM197.2 170.2h1.8v1.8h-1.8zM172.3 181.8h1.8v1.8h-1.8zM169 182.3h1.8v1.8h-1.8zM202.7 163.1h1.8v1.8h-1.8zM173 187.9h1.8v1.8h-1.8zM154.4 190.7h1.8v1.8h-1.8zM178.9 165.1h1.8v1.8h-1.8zM148.7 182.9h1.8v1.8h-1.8zM185.1 164.7h1.8v1.8h-1.8zM186.3 187.4h1.8v1.8h-1.8zM158.3 186.6h1.8v1.8h-1.8zM157.4 184.6h1.8v1.8h-1.8zM170.1 173.9h1.8v1.8h-1.8zM167.5 181.2h1.8v1.8h-1.8zM151.9 171.5h1.8v1.8h-1.8zM176.3 172.5h1.8v1.8h-1.8zM135.1 187.1h1.8v1.8h-1.8zM160.5 177.7h1.8v1.8h-1.8zM160.9 170.4h1.8v1.8h-1.8zM163 181.7h1.8v1.8h-1.8zM172.2 162h1.8v1.8h-1.8zM147.9 177.8h1.8v1.8h-1.8zM176.6 170.2h1.8v1.8h-1.8zM164.5 175.9h1.8v1.8h-1.8zM157 173.8h1.8v1.8h-1.8zM145.7 173h1.8v1.8h-1.8zM148.6 172.6h1.8v1.8h-1.8zM173 169.3h1.8v1.8h-1.8zM152.1 172h1.8v1.8h-1.8zM168.3 173.7h1.8v1.8h-1.8zM184.1 156.3h1.8v1.8h-1.8zM183.6 169.5h1.8v1.8h-1.8zM191.9 187.2h1.8v1.8h-1.8zM162.6 163.4h1.8v1.8h-1.8zM150.2 180.6h1.8v1.8h-1.8zM183.4 181.2h1.8v1.8h-1.8zM172.2 175.5h1.8v1.8h-1.8zM185.1 177.7h1.8v1.8h-1.8zM167.5 153.8h1.8v1.8h-1.8zM186.2 163.2h1.8v1.8h-1.8zM180.7 186.3h1.8v1.8h-1.8zM178.6 165.5h1.8v1.8h-1.8zM175.3 176.4h1.8v1.8h-1.8zM173.6 153.4h1.8v1.8h-1.8zM171 184.6h1.8v1.8h-1.8zM170.9 196.8h1.8v1.8h-1.8zM182.9 168.8h1.8v1.8h-1.8zM159.2 181.8h1.8v1.8h-1.8zM194.7 169.3h1.8v1.8h-1.8zM165.6 197.7h1.8v1.8h-1.8zM182.9 165.1h1.8v1.8h-1.8zM165.9 158.7h1.8v1.8h-1.8zM163.4 196.2h1.8v1.8h-1.8zM199.4 151.4h1.8v1.8h-1.8zM162.4 182.9h1.8v1.8h-1.8zM156 175h1.8v1.8h-1.8zM162.3 179.1h1.8v1.8h-1.8zM201.3 151.3h1.8v1.8h-1.8zM170.6 168.7h1.8v1.8h-1.8zM182.1 175.8h1.8v1.8h-1.8zM151.5 173.9h1.8v1.8h-1.8zM172.9 178.4h1.8v1.8h-1.8zM177.9 189.5h1.8v1.8h-1.8zM195.8 144h1.8v1.8h-1.8zM156.3 182.9h1.8v1.8h-1.8zM176.8 177.9h1.8v1.8h-1.8zM172.1 170h1.8v1.8h-1.8zM151.2 197.2h1.8v1.8h-1.8zM167 189.2h1.8v1.8h-1.8zM163.2 181.9h1.8v1.8h-1.8zM130.6 194.3h1.8v1.8h-1.8zM176.8 171h1.8v1.8h-1.8zM175.8 160.6h1.8v1.8h-1.8zM160.4 182.7h1.8v1.8h-1.8zM146.2 178.1h1.8v1.8h-1.8zM190.7 160.4h1.8v1.8h-1.8zM171.5 184.8h1.8v1.8h-1.8zM183.4 167h1.8v1.8h-1.8zM189.6 176.6h1.8v1.8h-1.8zM159.1 167.5h1.8v1.8h-1.8zM180.1 165.9h1.8v1.8h-1.8zM163.5 176.5h1.8v1.8h-1.8zM166.3 189.3h1.8v1.8h-1.8zM166 174.6h1.8v1.8h-1.8zM167.3 183.1h1.8v1.8h-1.8zM184.9 161.5h1.8v1.8h-1.8zM169.3 175.8h1.8v1.8h-1.8zM164.9 184.5h1.8v1.8h-1.8zM162.9 167.5h1.8v1.8h-1.8zM172.7 165.9h1.8v1.8h-1.8zM153.2 186.6h1.8v1.8h-1.8zM159.4 166.4h1.8v1.8h-1.8zM166.5 178.6h1.8v1.8h-1.8zM158.4 181.8h1.8v1.8h-1.8zM165.4 174.7h1.8v1.8h-1.8zM157.7 186.5h1.8v1.8h-1.8zM198.9 168h1.8v1.8h-1.8zM188.3 169.1h1.8v1.8h-1.8zM174.4 157h1.8v1.8h-1.8zM166.5 160.3h1.8v1.8h-1.8zM201.9 165h1.8v1.8h-1.8zM172.4 157h1.8v1.8h-1.8zM165.9 176.2h1.8v1.8h-1.8zM172.1 169.6h1.8v1.8h-1.8zM172.1 164.5h1.8v1.8h-1.8zM189.6 164h1.8v1.8h-1.8zM167 150.8h1.8v1.8h-1.8zM200.5 160.4h1.8v1.8h-1.8zM153.4 192.7h1.8v1.8h-1.8zM178.3 157.9h1.8v1.8h-1.8zM151.5 185.4h1.8v1.8h-1.8zM196 167.7h1.8v1.8h-1.8zM162.1 207.7h1.8v1.8h-1.8zM166.4 165.4h1.8v1.8h-1.8zM181.9 161.5h1.8v1.8h-1.8zM187.1 159.7h1.8v1.8h-1.8zM149.8 171.8h1.8v1.8h-1.8zM161.8 160.1h1.8v1.8h-1.8zM145.3 183.9h1.8v1.8h-1.8zM169.5 164.9h1.8v1.8h-1.8zM165.7 183.4h1.8v1.8h-1.8zM161.8 180.9h1.8v1.8h-1.8zM156.5 168.5h1.8v1.8h-1.8zM161.2 173.6h1.8v1.8h-1.8zM155.5 193.3h1.8v1.8h-1.8zM175.7 168.5h1.8v1.8h-1.8zM191.2 168.2h1.8v1.8h-1.8zM136.8 195h1.8v1.8h-1.8zM165.5 171.5h1.8v1.8h-1.8zM160.7 181.9h1.8v1.8h-1.8zM175.1 188.4h1.8v1.8h-1.8zM152.3 192.2h1.8v1.8h-1.8zM165 158.1h1.8v1.8h-1.8zM150.9 196.8h1.8v1.8h-1.8zM178.3 168.9h1.8v1.8h-1.8zM168.9 168.5h1.8v1.8h-1.8zM164.8 169.7h1.8v1.8h-1.8zM173.2 185.6h1.8v1.8h-1.8zM163.4 180h1.8v1.8h-1.8zM142.8 183h1.8v1.8h-1.8zM176.7 163.6h1.8v1.8h-1.8zM171.9 180.1h1.8v1.8h-1.8zM164.9 188h1.8v1.8h-1.8zM182.9 159.3h1.8v1.8h-1.8zM186.5 156.8h1.8v1.8h-1.8zM150.1 177.9h1.8v1.8h-1.8zM155 186.1h1.8v1.8h-1.8zM191.7 162h1.8v1.8h-1.8zM189.7 165.8h1.8v1.8h-1.8zM155.7 171.1h1.8v1.8h-1.8zM148.7 195h1.8v1.8h-1.8zM157.2 177.8h1.8v1.8h-1.8zM159.4 179.8h1.8v1.8h-1.8zM142.3 195.9h1.8v1.8h-1.8zM167.8 172.9h1.8v1.8h-1.8zM147.1 182.4h1.8v1.8h-1.8zM148.2 186.6h1.8v1.8h-1.8zM181.8 165.8h1.8v1.8h-1.8zM156.5 193.8h1.8v1.8h-1.8zM166.2 176.2h1.8v1.8h-1.8zM177.2 167.2h1.8v1.8h-1.8zM180.1 167.6h1.8v1.8h-1.8zM162 166.3h1.8v1.8h-1.8zM168 187.3h1.8v1.8h-1.8zM154.3 195.5h1.8v1.8h-1.8zM194.9 162.5h1.8v1.8h-1.8zM177.6 166.8h1.8v1.8h-1.8zM149.9 160.2h1.8v1.8h-1.8zM167.4 169h1.8v1.8h-1.8zM178.6 180h1.8v1.8h-1.8zM174.9 164.2h1.8v1.8h-1.8zM196.2 173.1h1.8v1.8h-1.8zM189 182.3h1.8v1.8h-1.8zM158.8 151.8h1.8v1.8h-1.8zM165.9 172.5h1.8v1.8h-1.8zM147.1 175.5h1.8v1.8h-1.8zM171.3 168.1h1.8v1.8h-1.8zM169.7 155.9h1.8v1.8h-1.8zM210 156.5h1.8v1.8h-1.8zM168.9 162.3h1.8v1.8h-1.8zM134.3 198.1h1.8v1.8h-1.8zM156.7 193.4h1.8v1.8h-1.8zM169.1 160.1h1.8v1.8h-1.8zM147.5 167.6h1.8v1.8h-1.8zM153.6 175.2h1.8v1.8h-1.8zM161.5 175.1h1.8v1.8h-1.8zM172.7 171.6h1.8v1.8h-1.8zM164.7 183.3h1.8v1.8h-1.8zM153.3 164.8h1.8v1.8h-1.8zM179.7 163.9h1.8v1.8h-1.8zM158.8 173.3h1.8v1.8h-1.8zM159.4 174.4h1.8v1.8h-1.8zM145.5 172.7h1.8v1.8h-1.8zM154.9 174.7h1.8v1.8h-1.8zM177.6 163.8h1.8v1.8h-1.8zM141.8 196.7h1.8v1.8h-1.8zM166.2 170.5h1.8v1.8h-1.8zM178.6 148.8h1.8v1.8h-1.8zM161.4 182.8h1.8v1.8h-1.8zM171.1 175.2h1.8v1.8h-1.8zM149.7 172.8h1.8v1.8h-1.8zM188 157.8h1.8v1.8h-1.8zM184.7 162.4h1.8v1.8h-1.8zM171 190.4h1.8v1.8h-1.8zM139.6 180.5h1.8v1.8h-1.8zM150.8 193.5h1.8v1.8h-1.8zM182.7 177.9h1.8v1.8h-1.8zM194.4 159.6h1.8v1.8h-1.8zM172 176.5h1.8v1.8h-1.8zM187 159.7h1.8v1.8h-1.8zM164.3 168.5h1.8v1.8h-1.8zM167.3 167.9h1.8v1.8h-1.8zM174 181.9h1.8v1.8h-1.8zM143.2 190.8h1.8v1.8h-1.8zM182.2 180.6h1.8v1.8h-1.8zM188.2 172.9h1.8v1.8h-1.8zM149.2 193.2h1.8v1.8h-1.8zM145.9 190h1.8v1.8h-1.8zM172.8 175.3h1.8v1.8h-1.8zM157 189.3h1.8v1.8h-1.8zM129.9 203.7h1.8v1.8h-1.8zM180.1 184.4h1.8v1.8h-1.8zM169.8 169.7h1.8v1.8h-1.8zM159.8 177.5h1.8v1.8h-1.8zM200.7 152.4h1.8v1.8h-1.8zM169.5 163.8h1.8v1.8h-1.8zM155.4 183.2h1.8v1.8h-1.8zM168.9 167.8h1.8v1.8h-1.8zM150.9 196.1h1.8v1.8h-1.8zM155.3 156.5h1.8v1.8h-1.8zM173.4 160.8h1.8v1.8h-1.8zM158.6 180.7h1.8v1.8h-1.8zM160.2 189.8h1.8v1.8h-1.8zM193.7 161.6h1.8v1.8h-1.8zM180.9 189.3h1.8v1.8h-1.8zM180 178.5h1.8v1.8h-1.8zM175.7 164.5h1.8v1.8h-1.8zM175 171.7h1.8v1.8h-1.8zM190.3 171.7h1.8v1.8h-1.8zM167 165.7h1.8v1.8h-1.8zM196.6 174.9h1.8v1.8h-1.8zM152.3 178h1.8v1.8h-1.8zM163.3 181.8h1.8v1.8h-1.8zM145.6 192h1.8v1.8h-1.8zM161.9 172.6h1.8v1.8h-1.8zM175.5 182.3h1.8v1.8h-1.8zM190.2 147.3h1.8v1.8h-1.8zM156.8 185.1h1.8v1.8h-1.8zM167.4 155h1.8v1.8h-1.8zM161.6 188.5h1.8v1.8h-1.8zM155.7 173.4h1.8v1.8h-1.8zM148.5 194.5h1.8v1.8h-1.8zM168.3 188.6h1.8v1.8h-1.8zM140 183.8h1.8v1.8h-1.8zM169.1 167.7h1.8v1.8h-1.8zM167.6 188.1h1.8v1.8h-1.8zM156.9 167.1h1.8v1.8h-1.8zM151.4 189.3h1.8v1.8h-1.8zM145.5 182.1h1.8v1.8h-1.8zM196.9 160.4h1.8v1.8h-1.8zM146.1 177.1h1.8v1.8h-1.8zM191.9 184.4h1.8v1.8h-1.8zM176.8 155.2h1.8v1.8h-1.8zM161.6 171.7h1.8v1.8h-1.8zM149 186.4h1.8v1.8h-1.8zM183.8 179.6h1.8v1.8h-1.8zM194.6 182.4h1.8v1.8h-1.8zM152.6 194.6h1.8v1.8h-1.8zM162.6 171.5h1.8v1.8h-1.8zM183.9 172.6h1.8v1.8h-1.8zM172.6 184.8h1.8v1.8h-1.8zM198.9 168.9h1.8v1.8h-1.8zM158.3 162.7h1.8v1.8h-1.8zM175.9 175.4h1.8v1.8h-1.8zM147.6 188.6h1.8v1.8h-1.8zM200.4 149.2h1.8v1.8h-1.8zM155.8 174.9h1.8v1.8h-1.8zM132.5 187.8h1.8v1.8h-1.8zM165.3 182.2h1.8v1.8h-1.8zM165.1 191.9h1.8v1.8h-1.8zM197.5 175.9h1.8v1.8h-1.8zM162 182.2h1.8v1.8h-1.8zM167.1 177.6h1.8v1.8h-1.8zM176.7 168.1h1.8v1.8h-1.8zM192.4 160.3h1.8v1.8h-1.8zM166.3 173.4h1.8v1.8h-1.8zM183.7 166.9h1.8v1.8h-1.8zM175.5 182.5h1.8v1.8h-1.8zM162.6 199h1.8v1.8h-1.8zM168.5 180.1h1.8v1.8h-1.8zM167.8 184.8h1.8v1.8h-1.8zM152.9 187.3h1.8v1.8h-1.8zM186.5 170.9h1.8v1.8h-1.8zM145.4 196.1h1.8v1.8h-1.8zM185.8 179.7h1.8v1.8h-1.8zM182.4 170.7h1.8v1.8h-1.8zM165.8 174.6h1.8v1.8h-1.8zM155.2 186.5h1.8v1.8h-1.8zM163.7 171.5h1.8v1.8h-1.8zM174.8 174.7h1.8v1.8h-1.8zM179 181.3h1.8v1.8h-1.8zM171.8 173.2h1.8v1.8h-1.8zM183 150.2h1.8v1.8h-1.8zM158.5 185.4h1.8v1.8h-1.8zM171 162h1.8v1.8h-1.8zM142.6 170.5h1.8v1.8h-1.8zM179.4 155.5h1.8v1.8h-1.8zM169.7 182.8h1.8v1.8h-1.8zM160.8 157.2h1.8v1.8h-1.8zM185.6 167.2h1.8v1.8h-1.8zM178.2 173.8h1.8v1.8h-1.8zM122.9 194.2h1.8v1.8h-1.8zM167.9 168.9h1.8v1.8h-1.8zM144.3 183.3h1.8v1.8h-1.8zM184.1 170.8h1.8v1.8h-1.8zM206.6 147.5h1.8v1.8h-1.8zM159.1 185.7h1.8v1.8h-1.8zM168.5 185.5h1.8v1.8h-1.8zM163.3 168.7h1.8v1.8h-1.8zM172.9 166h1.8v1.8h-1.8zM177.5 160.3h1.8v1.8h-1.8zM187.6 178.6h1.8v1.8h-1.8zM151.7 170.1h1.8v1.8h-1.8zM192.1 161.1h1.8v1.8h-1.8zM152.6 162.8h1.8v1.8h-1.8zM171.7 186.4h1.8v1.8h-1.8zM185.6 166.2h1.8v1.8h-1.8zM178.6 173.9h1.8v1.8h-1.8zM152.5 197h1.8v1.8h-1.8zM156.2 186.7h1.8v1.8h-1.8zM160 166.5h1.8v1.8h-1.8zM166.5 180.4h1.8v1.8h-1.8zM185.4 175.9h1.8v1.8h-1.8zM146.9 174h1.8v1.8h-1.8zM174.7 162.4h1.8v1.8h-1.8zM176.9 161.6h1.8v1.8h-1.8zM176.1 180h1.8v1.8h-1.8zM174.7 173.1h1.8v1.8h-1.8zM191.3 155.8h1.8v1.8h-1.8zM175 179.1h1.8v1.8h-1.8zM180.8 177.9h1.8v1.8h-1.8zM176.2 163.5h1.8v1.8h-1.8zM195.6 148.8h1.8v1.8h-1.8zM137.3 198.2h1.8v1.8h-1.8zM187.6 194.2h1.8v1.8h-1.8zM163.2 191.6h1.8v1.8h-1.8zM162.9 187.2h1.8v1.8h-1.8zM152 182.4h1.8v1.8h-1.8zM137.8 180h1.8v1.8h-1.8zM161.3 179h1.8v1.8h-1.8zM156.5 186.5h1.8v1.8h-1.8zM175.1 170.8h1.8v1.8h-1.8zM144.1 193.7h1.8v1.8h-1.8zM189.9 167.3h1.8v1.8h-1.8zM171.6 180.2h1.8v1.8h-1.8zM163.4 149.4h1.8v1.8h-1.8zM156.1 171.1h1.8v1.8h-1.8zM154.9 188.4h1.8v1.8h-1.8zM149.5 192.1h1.8v1.8h-1.8zM158.7 182.9h1.8v1.8h-1.8zM167.4 192h1.8v1.8h-1.8zM164.5 183.8h1.8v1.8h-1.8zM145 191.1h1.8v1.8h-1.8zM163.1 167.8h1.8v1.8h-1.8zM153.2 184.9h1.8v1.8h-1.8zM169.8 182.4h1.8v1.8h-1.8zM196.7 178h1.8v1.8h-1.8zM177.2 183.6h1.8v1.8h-1.8zM162.4 177.8h1.8v1.8h-1.8zM141.7 187h1.8v1.8h-1.8zM145 172h1.8v1.8h-1.8zM140.7 191.6h1.8v1.8h-1.8zM178.8 160.2h1.8v1.8h-1.8zM155.2 177.2h1.8v1.8h-1.8zM168.3 174.9h1.8v1.8h-1.8zM157.5 199.4h1.8v1.8h-1.8zM168.8 187.9h1.8v1.8h-1.8zM189.4 159.5h1.8v1.8h-1.8zM156.5 165.1h1.8v1.8h-1.8zM161.9 175.2h1.8v1.8h-1.8zM154.6 172.2h1.8v1.8h-1.8zM181.1 174.3h1.8v1.8h-1.8zM151.1 185.1h1.8v1.8h-1.8zM149.4 188.7h1.8v1.8h-1.8zM145.4 173.5h1.8v1.8h-1.8zM145.1 180.1h1.8v1.8h-1.8zM174.7 174.9h1.8v1.8h-1.8zM207.9 163.5h1.8v1.8h-1.8zM151.6 175.5h1.8v1.8h-1.8zM182.3 166.4h1.8v1.8h-1.8zM171.3 182.3h1.8v1.8h-1.8zM149.9 164.3h1.8v1.8h-1.8zM162.9 174.3h1.8v1.8h-1.8zM163.6 176.5h1.8v1.8h-1.8zM156.4 164.3h1.8v1.8h-1.8zM197.8 153.5h1.8v1.8h-1.8zM137.2 187.4h1.8v1.8h-1.8zM173.3 167.6h1.8v1.8h-1.8zM172.5 184.2h1.8v1.8h-1.8zM158.2 185.2h1.8v1.8h-1.8zM169.7 197.4h1.8v1.8h-1.8zM181.2 157.7h1.8v1.8h-1.8zM169.7 193.7h1.8v1.8h-1.8zM173.9 165.9h1.8v1.8h-1.8zM178.3 179.7h1.8v1.8h-1.8zM135.2 197.2h1.8v1.8h-1.8zM190.6 168.6h1.8v1.8h-1.8zM203.3 159.1h1.8v1.8h-1.8zM182.8 163.3h1.8v1.8h-1.8zM183.3 151.2h1.8v1.8h-1.8zM145.1 179.9h1.8v1.8h-1.8zM165.4 167h1.8v1.8h-1.8zM154.5 186.1h1.8v1.8h-1.8zM158 171.5h1.8v1.8h-1.8zM182.6 168h1.8v1.8h-1.8zM154.6 184.7h1.8v1.8h-1.8zM165.3 177h1.8v1.8h-1.8zM137.2 187.1h1.8v1.8h-1.8zM164.8 174.3h1.8v1.8h-1.8zM168.7 170.6h1.8v1.8h-1.8zM156.2 184.6h1.8v1.8h-1.8zM155.9 187.1h1.8v1.8h-1.8zM197.1 156.5h1.8v1.8h-1.8zM148.2 199.7h1.8v1.8h-1.8zM150.7 187.8h1.8v1.8h-1.8zM154.5 164.2h1.8v1.8h-1.8zM186.2 195.8h1.8v1.8h-1.8zM200.5 170h1.8v1.8h-1.8zM172.6 166.3h1.8v1.8h-1.8zM156 196.3h1.8v1.8h-1.8zM160.6 151.3h1.8v1.8h-1.8zM184.1 195.4h1.8v1.8h-1.8zM152.9 166h1.8v1.8h-1.8zM190.2 150.8h1.8v1.8h-1.8zM189.7 157.6h1.8v1.8h-1.8zM168.4 177.1h1.8v1.8h-1.8zM177.5 167.8h1.8v1.8h-1.8zM179.1 180h1.8v1.8h-1.8zM191.8 157.9h1.8v1.8h-1.8zM150.7 192.9h1.8v1.8h-1.8zM186 171.1h1.8v1.8h-1.8zM161.4 167.3h1.8v1.8h-1.8zM155.2 191.1h1.8v1.8h-1.8zM168.9 178.4h1.8v1.8h-1.8zM163.9 174.9h1.8v1.8h-1.8zM151.7 194.8h1.8v1.8h-1.8zM142.1 172.8h1.8v1.8h-1.8zM152.4 177.3h1.8v1.8h-1.8zM190.2 182.2h1.8v1.8h-1.8zM198.3 164.2h1.8v1.8h-1.8zM177.6 179.3h1.8v1.8h-1.8zM186 175h1.8v1.8h-1.8zM159.2 177.5h1.8v1.8h-1.8zM166.1 183h1.8v1.8h-1.8zM171.8 163.8h1.8v1.8h-1.8zM150.2 188.8h1.8v1.8h-1.8zM151.7 171.1h1.8v1.8h-1.8zM168.8 175.1h1.8v1.8h-1.8zM162.3 168.4h1.8v1.8h-1.8zM150.5 187h1.8v1.8h-1.8zM173.4 178.1h1.8v1.8h-1.8zM163.2 188.6h1.8v1.8h-1.8zM183.4 163.4h1.8v1.8h-1.8zM167.2 165.7h1.8v1.8h-1.8zM162.6 155.4h1.8v1.8h-1.8zM169.3 161.4h1.8v1.8h-1.8zM164.6 173.7h1.8v1.8h-1.8zM156.8 181.4h1.8v1.8h-1.8zM161 173.7h1.8v1.8h-1.8zM179.1 171.1h1.8v1.8h-1.8zM177.5 156.5h1.8v1.8h-1.8zM187.6 158.1h1.8v1.8h-1.8zM140.6 193.8h1.8v1.8h-1.8zM161.1 184.6h1.8v1.8h-1.8zM160.8 163.8h1.8v1.8h-1.8zM170 171.1h1.8v1.8h-1.8zM160.2 180.3h1.8v1.8h-1.8zM159.2 166.2h1.8v1.8h-1.8zM179.7 174.6h1.8v1.8h-1.8zM170.1 177.1h1.8v1.8h-1.8zM148.9 186.8h1.8v1.8h-1.8zM188.4 187.4h1.8v1.8h-1.8zM183 160.6h1.8v1.8h-1.8zM158.3 191h1.8v1.8h-1.8zM180.4 176.2h1.8v1.8h-1.8zM155.7 187.2h1.8v1.8h-1.8zM185.1 161.2h1.8v1.8h-1.8zM163.9 177.3h1.8v1.8h-1.8zM154.6 179.8h1.8v1.8h-1.8zM161.4 194.6h1.8v1.8h-1.8zM155.2 180.7h1.8v1.8h-1.8zM170.3 189.2h1.8v1.8h-1.8zM170.1 171.1h1.8v1.8h-1.8zM167.9 171.3h1.8v1.8h-1.8zM158.5 178.7h1.8v1.8h-1.8zM168.8 169.3h1.8v1.8h-1.8zM137.4 180.4h1.8v1.8h-1.8zM171.2 172.4h1.8v1.8h-1.8zM185.2 170.6h1.8v1.8h-1.8zM171.6 163.8h1.8v1.8h-1.8zM161.2 166.3h1.8v1.8h-1.8zM164.5 189.6h1.8v1.8h-1.8zM165.2 165.3h1.8v1.8h-1.8zM158.6 173.3h1.8v1.8h-1.8zM158.1 168.9h1.8v1.8h-1.8zM152.7 176h1.8v1.8h-1.8zM186.1 181h1.8v1.8h-1.8zM167.1 187.3h1.8v1.8h-1.8zM182.4 151h1.8v1.8h-1.8zM163.4 174.2h1.8v1.8h-1.8zM168.5 189.3h1.8v1.8h-1.8zM164.6 172.7h1.8v1.8h-1.8zM174.6 176.2h1.8v1.8h-1.8zM180.4 189.2h1.8v1.8h-1.8zM171.1 197.2h1.8v1.8h-1.8zM156.7 195.6h1.8v1.8h-1.8zM155 177.1h1.8v1.8h-1.8zM193.5 166h1.8v1.8h-1.8zM162.9 179.5h1.8v1.8h-1.8zM162.7 174.1h1.8v1.8h-1.8zM190.4 160.5h1.8v1.8h-1.8zM184.5 190.3h1.8v1.8h-1.8zM175.7 175.2h1.8v1.8h-1.8zM161 186.1h1.8v1.8h-1.8zM204.5 174h1.8v1.8h-1.8zM173.5 178.5h1.8v1.8h-1.8zM175.9 173.3h1.8v1.8h-1.8zM164.6 179h1.8v1.8h-1.8zM145 198.4h1.8v1.8h-1.8zM146.2 188h1.8v1.8h-1.8zM173.7 152.3h1.8v1.8h-1.8zM173.5 183.7h1.8v1.8h-1.8zM163.5 193.9h1.8v1.8h-1.8zM189.2 197.9h1.8v1.8h-1.8zM193.8 204.2h1.8v1.8h-1.8zM191.9 178.7h1.8v1.8h-1.8zM169.2 191.1h1.8v1.8h-1.8zM199.6 181.3h1.8v1.8h-1.8zM174 195h1.8v1.8h-1.8zM169 168.3h1.8v1.8h-1.8zM176.5 194.3h1.8v1.8h-1.8zM183.7 196.5h1.8v1.8h-1.8zM195.5 162.4h1.8v1.8h-1.8zM194.2 160.1h1.8v1.8h-1.8zM184.9 179.8h1.8v1.8h-1.8zM198.6 207h1.8v1.8h-1.8zM186.4 193.7h1.8v1.8h-1.8zM198.1 171.2h1.8v1.8h-1.8zM165.1 191.4h1.8v1.8h-1.8zM162.7 168.7h1.8v1.8h-1.8zM196.4 202.1h1.8v1.8h-1.8zM165.3 181.2h1.8v1.8h-1.8zM180.9 196h1.8v1.8h-1.8zM183.8 165.1h1.8v1.8h-1.8zM178.2 188.4h1.8v1.8h-1.8zM178.7 171.3h1.8v1.8h-1.8zM205.2 188.1h1.8v1.8h-1.8zM149 218.7h1.8v1.8h-1.8zM197.9 197.6h1.8v1.8h-1.8zM218.2 183.1h1.8v1.8h-1.8zM185.6 200.5h1.8v1.8h-1.8zM185 166.6h1.8v1.8h-1.8zM195.7 160.9h1.8v1.8h-1.8zM211.5 171.9h1.8v1.8h-1.8zM168.2 206.5h1.8v1.8h-1.8zM186.5 186.3h1.8v1.8h-1.8zM182.6 196.3h1.8v1.8h-1.8zM193.3 159.9h1.8v1.8h-1.8zM187.5 179.3h1.8v1.8h-1.8zM194.7 174.2h1.8v1.8h-1.8zM179.2 193h1.8v1.8h-1.8zM186 215.5h1.8v1.8h-1.8zM175.6 199.9h1.8v1.8h-1.8zM175.7 205.2h1.8v1.8h-1.8zM183.2 179.9h1.8v1.8h-1.8zM183.2 184.1h1.8v1.8h-1.8zM168.4 202.8h1.8v1.8h-1.8zM207.8 183.3h1.8v1.8h-1.8zM183.3 161.6h1.8v1.8h-1.8zM165.4 206.3h1.8v1.8h-1.8zM201.1 193.7h1.8v1.8h-1.8zM174.5 192h1.8v1.8h-1.8zM192.5 193.2h1.8v1.8h-1.8zM185 191.5h1.8v1.8h-1.8zM188.8 175.6h1.8v1.8h-1.8zM187.7 157.6h1.8v1.8h-1.8zM177 214.9h1.8v1.8h-1.8zM185.8 185h1.8v1.8h-1.8zM214.4 174.5h1.8v1.8h-1.8zM153.1 197h1.8v1.8h-1.8zM186.2 187.4h1.8v1.8h-1.8zM191.5 188h1.8v1.8h-1.8zM170.1 174.6h1.8v1.8h-1.8zM165.6 198.6h1.8v1.8h-1.8zM216.2 176.5h1.8v1.8h-1.8zM179.9 186.7h1.8v1.8h-1.8zM215.1 173.2h1.8v1.8h-1.8zM192.9 184.9h1.8v1.8h-1.8zM186.3 169.2h1.8v1.8h-1.8zM192.1 182.7h1.8v1.8h-1.8zM194.4 179.2h1.8v1.8h-1.8zM202.2 180h1.8v1.8h-1.8zM191.5 198.2h1.8v1.8h-1.8zM187.3 196.9h1.8v1.8h-1.8zM187.8 200.1h1.8v1.8h-1.8zM204.6 175.4h1.8v1.8h-1.8zM197 191.9h1.8v1.8h-1.8zM170.9 206h1.8v1.8h-1.8zM176.1 184.3h1.8v1.8h-1.8zM190 175.3h1.8v1.8h-1.8zM176.3 214.9h1.8v1.8h-1.8zM179.8 160.8h1.8v1.8h-1.8zM171.5 189h1.8v1.8h-1.8zM181.5 187.8h1.8v1.8h-1.8zM191.3 166.5h1.8v1.8h-1.8zM199.5 179h1.8v1.8h-1.8zM185.4 194.1h1.8v1.8h-1.8zM215 141.3h1.8v1.8h-1.8zM184.2 201.7h1.8v1.8h-1.8zM231.1 171h1.8v1.8h-1.8zM199.6 167.1h1.8v1.8h-1.8zM192.4 198.9h1.8v1.8h-1.8zM178.1 188.9h1.8v1.8h-1.8zM144.7 192.6h1.8v1.8h-1.8zM183 148.9h1.8v1.8h-1.8zM187.8 197.7h1.8v1.8h-1.8zM212.8 176.4h1.8v1.8h-1.8zM165.5 181.5h1.8v1.8h-1.8zM212.6 174.5h1.8v1.8h-1.8zM181.6 204.5h1.8v1.8h-1.8zM195.6 175.2h1.8v1.8h-1.8zM148.8 195.5h1.8v1.8h-1.8zM187.2 177.4h1.8v1.8h-1.8zM180.3 169.2h1.8v1.8h-1.8zM195 166.1h1.8v1.8h-1.8zM186.6 178.2h1.8v1.8h-1.8zM168.9 185.6h1.8v1.8h-1.8zM198.8 197.2h1.8v1.8h-1.8zM195.2 183.6h1.8v1.8h-1.8zM193.8 178.7h1.8v1.8h-1.8zM199.7 186.2h1.8v1.8h-1.8zM201 178.1h1.8v1.8h-1.8zM184.9 197.6h1.8v1.8h-1.8zM165.8 167.9h1.8v1.8h-1.8zM165.4 158.6h1.8v1.8h-1.8zM204.6 184.4h1.8v1.8h-1.8zM195.4 175.3h1.8v1.8h-1.8zM186.7 188h1.8v1.8h-1.8zM179 167.7h1.8v1.8h-1.8zM185.7 178.1h1.8v1.8h-1.8zM185.6 183.6h1.8v1.8h-1.8zM180.4 189.9h1.8v1.8h-1.8zM175.2 186.3h1.8v1.8h-1.8zM216.3 189.8h1.8v1.8h-1.8zM188.5 173.5h1.8v1.8h-1.8zM176.6 198.7h1.8v1.8h-1.8zM166.6 183h1.8v1.8h-1.8zM174.8 186.4h1.8v1.8h-1.8zM195.6 164.7h1.8v1.8h-1.8zM196.1 181.5h1.8v1.8h-1.8zM182.1 170.3h1.8v1.8h-1.8zM186 198.8h1.8v1.8h-1.8zM180.9 177h1.8v1.8h-1.8zM169.4 193.7h1.8v1.8h-1.8zM203.9 175.7h1.8v1.8h-1.8zM190.6 182h1.8v1.8h-1.8zM220.8 158.6h1.8v1.8h-1.8zM174.4 219.5h1.8v1.8h-1.8zM183.3 180.6h1.8v1.8h-1.8zM197.9 203.5h1.8v1.8h-1.8zM181.7 167.6h1.8v1.8h-1.8zM165.3 221.8h1.8v1.8h-1.8zM171.6 204.8h1.8v1.8h-1.8zM186.7 210h1.8v1.8h-1.8zM190.2 158.1h1.8v1.8h-1.8zM183.9 205.1h1.8v1.8h-1.8zM199.7 178.3h1.8v1.8h-1.8zM199.5 188.3h1.8v1.8h-1.8zM189.9 210.9h1.8v1.8h-1.8zM185.6 189.9h1.8v1.8h-1.8zM181.6 176h1.8v1.8h-1.8zM193.2 185.1h1.8v1.8h-1.8zM198.4 166.1h1.8v1.8h-1.8zM186.1 190.1h1.8v1.8h-1.8zM191.7 182.6h1.8v1.8h-1.8zM180.6 192.4h1.8v1.8h-1.8zM165 186.4h1.8v1.8h-1.8zM170.9 160.6h1.8v1.8h-1.8zM196.2 175.7h1.8v1.8h-1.8zM191.7 179.8h1.8v1.8h-1.8zM208.1 186.7h1.8v1.8h-1.8zM186.1 196.2h1.8v1.8h-1.8zM197.7 158.3h1.8v1.8h-1.8zM204.2 195.6h1.8v1.8h-1.8zM199.5 194.1h1.8v1.8h-1.8zM176.5 189.3h1.8v1.8h-1.8zM182.6 192.3h1.8v1.8h-1.8zM187.1 154.3h1.8v1.8h-1.8zM171.1 225.9h1.8v1.8h-1.8zM192.1 177.1h1.8v1.8h-1.8zM199.9 169.1h1.8v1.8h-1.8zM178.3 204.4h1.8v1.8h-1.8zM213.6 185.3h1.8v1.8h-1.8zM181.1 179.7h1.8v1.8h-1.8zM182.3 160.9h1.8v1.8h-1.8zM181.8 200.1h1.8v1.8h-1.8zM175.1 212.5h1.8v1.8h-1.8zM191.2 168h1.8v1.8h-1.8zM185.5 161.5h1.8v1.8h-1.8zM209.1 182h1.8v1.8h-1.8zM194 215.9h1.8v1.8h-1.8zM193 160.1h1.8v1.8h-1.8zM182.1 189h1.8v1.8h-1.8zM165 174.5h1.8v1.8h-1.8zM184 186h1.8v1.8h-1.8zM173 194.7h1.8v1.8h-1.8zM198.9 187.2h1.8v1.8h-1.8zM184.8 162.5h1.8v1.8h-1.8zM209.2 154.9h1.8v1.8h-1.8zM195.8 214.1h1.8v1.8h-1.8zM197.2 195.2h1.8v1.8h-1.8zM188.6 156.6h1.8v1.8h-1.8zM188.2 189.5h1.8v1.8h-1.8zM194.6 202.6h1.8v1.8h-1.8zM198.5 180.4h1.8v1.8h-1.8zM175.1 190h1.8v1.8h-1.8zM192.3 184h1.8v1.8h-1.8zM222.9 179.6h1.8v1.8h-1.8zM184 190.1h1.8v1.8h-1.8zM181.6 193.1h1.8v1.8h-1.8zM175.3 183.1h1.8v1.8h-1.8zM164.5 204.3h1.8v1.8h-1.8zM202.3 183.6h1.8v1.8h-1.8zM186.1 186.8h1.8v1.8h-1.8zM189.5 163.5h1.8v1.8h-1.8zM211.7 170.3h1.8v1.8h-1.8zM221.3 174.5h1.8v1.8h-1.8zM172.5 181h1.8v1.8h-1.8zM200.4 173.6h1.8v1.8h-1.8zM194.2 165.2h1.8v1.8h-1.8zM191 175.2h1.8v1.8h-1.8zM192.1 155.1h1.8v1.8h-1.8zM184.9 164.4h1.8v1.8h-1.8zM208.1 177.9h1.8v1.8h-1.8zM194.1 188.3h1.8v1.8h-1.8zM190.2 169.7h1.8v1.8h-1.8zM203.2 171h1.8v1.8h-1.8zM198.2 182h1.8v1.8h-1.8zM191.9 205.3h1.8v1.8h-1.8zM190 211.4h1.8v1.8h-1.8zM210.5 171.1h1.8v1.8h-1.8zM192.6 170.6h1.8v1.8h-1.8zM184 173h1.8v1.8h-1.8zM173 208.7h1.8v1.8h-1.8zM180.4 170.7h1.8v1.8h-1.8zM170.2 198.1h1.8v1.8h-1.8zM186.8 178.4h1.8v1.8h-1.8zM189 177.3h1.8v1.8h-1.8zM155.9 207h1.8v1.8h-1.8zM185.6 193.9h1.8v1.8h-1.8zM194.6 213.5h1.8v1.8h-1.8zM187.7 198.1h1.8v1.8h-1.8zM171.6 217.1h1.8v1.8h-1.8zM203.5 172.1h1.8v1.8h-1.8zM175.3 187.3h1.8v1.8h-1.8zM167.7 176.8h1.8v1.8h-1.8zM169.8 184.6h1.8v1.8h-1.8zM185.1 194.7h1.8v1.8h-1.8zM199.4 174.9h1.8v1.8h-1.8zM202 185.3h1.8v1.8h-1.8zM188.3 174.6h1.8v1.8h-1.8zM168.2 185.8h1.8v1.8h-1.8zM175.9 203.2h1.8v1.8h-1.8zM172.4 189.2h1.8v1.8h-1.8zM182.7 184.9h1.8v1.8h-1.8zM159.8 198.1h1.8v1.8h-1.8zM186.9 170.7h1.8v1.8h-1.8zM194.5 155.6h1.8v1.8h-1.8zM183.1 191.2h1.8v1.8h-1.8zM191.9 188h1.8v1.8h-1.8zM171.8 223.8h1.8v1.8h-1.8zM164.4 193.9h1.8v1.8h-1.8zM176.1 194.6h1.8v1.8h-1.8zM201.9 212.4h1.8v1.8h-1.8zM200 175.5h1.8v1.8h-1.8zM178.7 178h1.8v1.8h-1.8zM202.5 190.3h1.8v1.8h-1.8zM180.6 192.2h1.8v1.8h-1.8zM207 192.4h1.8v1.8h-1.8zM192.2 170.9h1.8v1.8h-1.8zM178.8 210.3h1.8v1.8h-1.8zM196.7 185.9h1.8v1.8h-1.8zM174.1 158.8h1.8v1.8h-1.8zM150.9 217.6h1.8v1.8h-1.8zM162.8 228.5h1.8v1.8h-1.8zM145.2 204.9h1.8v1.8h-1.8zM115.7 235.4h1.8v1.8h-1.8zM148.4 210.6h1.8v1.8h-1.8zM161 233.5h1.8v1.8h-1.8zM120 207.1h1.8v1.8h-1.8zM159.2 228.8h1.8v1.8h-1.8zM185.1 201.2h1.8v1.8h-1.8zM180.1 233h1.8v1.8h-1.8zM104 229h1.8v1.8h-1.8zM121.4 205.9h1.8v1.8h-1.8zM103.1 233.8h1.8v1.8h-1.8zM180.1 211.8h1.8v1.8h-1.8zM166.9 220.7h1.8v1.8h-1.8zM169.6 243.6h1.8v1.8h-1.8zM124.2 216.6h1.8v1.8h-1.8zM115.9 216.2h1.8v1.8h-1.8zM151.6 230.8h1.8v1.8h-1.8zM152.3 209.3h1.8v1.8h-1.8zM124.9 230.6h1.8v1.8h-1.8zM153.5 229.2h1.8v1.8h-1.8zM167.9 214.3h1.8v1.8h-1.8zM155.9 224.8h1.8v1.8h-1.8zM119.5 191.9h1.8v1.8h-1.8zM88.7 245.3h1.8v1.8h-1.8zM141.9 208.6h1.8v1.8h-1.8zM154.1 203.7h1.8v1.8h-1.8zM141.9 243.3h1.8v1.8h-1.8zM137.1 240.8h1.8v1.8h-1.8zM129.5 212.6h1.8v1.8h-1.8zM169.9 220.3h1.8v1.8h-1.8zM147.9 212.3h1.8v1.8h-1.8zM152.9 202h1.8v1.8h-1.8zM121.5 225.6h1.8v1.8h-1.8zM131.6 233.1h1.8v1.8h-1.8zM120.5 218.4h1.8v1.8h-1.8zM113.2 233.9h1.8v1.8h-1.8zM139.9 214.3h1.8v1.8h-1.8zM183.8 209.2h1.8v1.8h-1.8zM154.9 233.9h1.8v1.8h-1.8zM191.3 189.1h1.8v1.8h-1.8zM145.6 203.7h1.8v1.8h-1.8zM140.5 207.4h1.8v1.8h-1.8zM109.4 237.7h1.8v1.8h-1.8zM132.8 224.5h1.8v1.8h-1.8zM190.6 218.2h1.8v1.8h-1.8zM158.8 221h1.8v1.8h-1.8zM170.4 228.4h1.8v1.8h-1.8zM169.6 208.6h1.8v1.8h-1.8zM149.1 214.1h1.8v1.8h-1.8zM143.5 213.2h1.8v1.8h-1.8zM152.8 223h1.8v1.8h-1.8zM168.6 197.8h1.8v1.8h-1.8zM162.5 212.8h1.8v1.8h-1.8zM153.8 224.5h1.8v1.8h-1.8zM127.3 220.8h1.8v1.8h-1.8zM141.9 205.7h1.8v1.8h-1.8zM122.4 224.6h1.8v1.8h-1.8zM178.2 216.2h1.8v1.8h-1.8zM89 233.9h1.8v1.8h-1.8zM143.1 209.4h1.8v1.8h-1.8zM217.9 213.1h1.8v1.8h-1.8zM139.6 226.1h1.8v1.8h-1.8zM116.8 231h1.8v1.8h-1.8zM148.9 210h1.8v1.8h-1.8zM186.4 218.6h1.8v1.8h-1.8zM144.8 239h1.8v1.8h-1.8zM167 206.6h1.8v1.8h-1.8zM152.2 225.5h1.8v1.8h-1.8zM138.7 213.9h1.8v1.8h-1.8zM239.8 199.6h1.8v1.8h-1.8zM151.4 201.4h1.8v1.8h-1.8zM134 205.8h1.8v1.8h-1.8zM135.3 226.3h1.8v1.8h-1.8zM160.3 217.6h1.8v1.8h-1.8zM161.1 231.8h1.8v1.8h-1.8zM171.5 192.5h1.8v1.8h-1.8zM153.4 210.8h1.8v1.8h-1.8zM108.3 205h1.8v1.8h-1.8zM164.6 218.9h1.8v1.8h-1.8zM140.5 244.4h1.8v1.8h-1.8zM141.2 198.6h1.8v1.8h-1.8zM106.8 221.8h1.8v1.8h-1.8zM132.9 217.6h1.8v1.8h-1.8zM128.5 219.2h1.8v1.8h-1.8zM148.3 208.9h1.8v1.8h-1.8zM107.7 216h1.8v1.8h-1.8zM150.8 237.1h1.8v1.8h-1.8zM152.9 202.6h1.8v1.8h-1.8zM117.2 228.2h1.8v1.8h-1.8zM131.4 225.5h1.8v1.8h-1.8zM124.8 198.4h1.8v1.8h-1.8zM175.4 201.6h1.8v1.8h-1.8zM139.5 242.1h1.8v1.8h-1.8zM101.7 221.6h1.8v1.8h-1.8zM137 211.9h1.8v1.8h-1.8zM173.7 214.6h1.8v1.8h-1.8zM131.3 235.4h1.8v1.8h-1.8zM153.3 226.5h1.8v1.8h-1.8zM125.1 236.4h1.8v1.8h-1.8zM205 206.5h1.8v1.8h-1.8zM175.6 202.9h1.8v1.8h-1.8zM181.7 199.4h1.8v1.8h-1.8zM111.3 231.7h1.8v1.8h-1.8zM117.8 218.4h1.8v1.8h-1.8zM180.4 205.6h1.8v1.8h-1.8zM143.8 224.3h1.8v1.8h-1.8zM142 219.9h1.8v1.8h-1.8zM159 188.6h1.8v1.8h-1.8zM113.4 219.4h1.8v1.8h-1.8zM171.6 202.6h1.8v1.8h-1.8zM149.9 222.5h1.8v1.8h-1.8zM163.1 214.5h1.8v1.8h-1.8zM130.1 241.6h1.8v1.8h-1.8zM164.1 215.3h1.8v1.8h-1.8zM129.1 204.6h1.8v1.8h-1.8zM176.8 186.4h1.8v1.8h-1.8zM181.8 197.2h1.8v1.8h-1.8zM175.5 204.6h1.8v1.8h-1.8zM164.2 214.3h1.8v1.8h-1.8zM167.6 222.1h1.8v1.8h-1.8zM173.3 205.8h1.8v1.8h-1.8zM141.5 228.1h1.8v1.8h-1.8zM152.1 204.7h1.8v1.8h-1.8zM141.2 230.7h1.8v1.8h-1.8zM109.4 245.3h1.8v1.8h-1.8zM133.9 232.1h1.8v1.8h-1.8zM168.3 235.6h1.8v1.8h-1.8zM190.1 228.8h1.8v1.8h-1.8zM131.5 205.1h1.8v1.8h-1.8zM123.4 223.2h1.8v1.8h-1.8zM191 208.4h1.8v1.8h-1.8zM124 205.8h1.8v1.8h-1.8zM208.9 192.6h1.8v1.8h-1.8zM150.8 223.2h1.8v1.8h-1.8zM124 203.6h1.8v1.8h-1.8zM177.6 208.1h1.8v1.8h-1.8zM198 210.2h1.8v1.8h-1.8zM108.2 217.1h1.8v1.8h-1.8zM194.1 228.9h1.8v1.8h-1.8zM141.3 228.2h1.8v1.8h-1.8zM192 212.4h1.8v1.8h-1.8zM138.5 210.7h1.8v1.8h-1.8zM104.1 228.1h1.8v1.8h-1.8zM163.8 216.6h1.8v1.8h-1.8zM176 200.9h1.8v1.8h-1.8zM209.5 190.6h1.8v1.8h-1.8zM198.8 200.3h1.8v1.8h-1.8zM169.3 198h1.8v1.8h-1.8zM142.6 223.1h1.8v1.8h-1.8zM134.4 223h1.8v1.8h-1.8zM140.9 214.1h1.8v1.8h-1.8zM125.5 224.2h1.8v1.8h-1.8zM141.5 224.6h1.8v1.8h-1.8zM154.5 218.8h1.8v1.8h-1.8zM148.5 229.4h1.8v1.8h-1.8zM223 200.5h1.8v1.8h-1.8zM171.2 190.5h1.8v1.8h-1.8zM135.6 217.9h1.8v1.8h-1.8zM165.6 199h1.8v1.8h-1.8zM114.2 227.5h1.8v1.8h-1.8zM132.1 225.7h1.8v1.8h-1.8zM95.8 233.3h1.8v1.8h-1.8zM190.6 213.1h1.8v1.8h-1.8zM166.4 191.2h1.8v1.8h-1.8zM115.6 236.5h1.8v1.8h-1.8zM147.6 196.4h1.8v1.8h-1.8zM176.6 226.1h1.8v1.8h-1.8zM163.6 218h1.8v1.8h-1.8zM160.3 204.8h1.8v1.8h-1.8zM124.8 212.4h1.8v1.8h-1.8zM131.1 216h1.8v1.8h-1.8zM152.1 237.7h1.8v1.8h-1.8zM175.8 208.7h1.8v1.8h-1.8zM125.6 233.4h1.8v1.8h-1.8zM182.2 215.1h1.8v1.8h-1.8zM122.7 218.3h1.8v1.8h-1.8zM180.3 227.3h1.8v1.8h-1.8zM156.4 222.1h1.8v1.8h-1.8zM174.7 229.9h1.8v1.8h-1.8zM199.4 197.5h1.8v1.8h-1.8zM169.1 217.6h1.8v1.8h-1.8zM171.6 206.7h1.8v1.8h-1.8zM123 229.4h1.8v1.8h-1.8zM129.4 226.2h1.8v1.8h-1.8zM167.9 198h1.8v1.8h-1.8zM193.4 223.2h1.8v1.8h-1.8zM189.3 234.4h1.8v1.8h-1.8zM215.9 202.5h1.8v1.8h-1.8zM158.3 230.3h1.8v1.8h-1.8zM155.2 221.8h1.8v1.8h-1.8zM178.3 201.3h1.8v1.8h-1.8zM149.9 227.4h1.8v1.8h-1.8zM281.8 93h1.8v1.8h-1.8zM277.3 104h1.8v1.8h-1.8zM301.4 94.7h1.8v1.8h-1.8zM288.8 107.5h1.8v1.8h-1.8zM272.2 99.8h1.8v1.8h-1.8zM234.2 101.5h1.8v1.8h-1.8zM288.7 91.8h1.8v1.8h-1.8zM289.4 94.6h1.8v1.8h-1.8zM260.6 98.2h1.8v1.8h-1.8zM242 92h1.8v1.8h-1.8zM256.7 95.8h1.8v1.8h-1.8zM292.3 92h1.8v1.8h-1.8zM258 91.8h1.8v1.8h-1.8zM268.5 97.2h1.8v1.8h-1.8zM280.2 98.3h1.8v1.8h-1.8zM297.5 93.3h1.8v1.8h-1.8zM276.1 99.3h1.8v1.8h-1.8zM274.6 93.8h1.8v1.8h-1.8zM266.9 89.1h1.8v1.8h-1.8zM304.5 89.4h1.8v1.8h-1.8zM294.7 98.3h1.8v1.8h-1.8zM274.7 105.3h1.8v1.8h-1.8zM252.3 97.8h1.8v1.8h-1.8zM262.8 97.8h1.8v1.8h-1.8zM286.4 88.4h1.8v1.8h-1.8zM263.9 99.6h1.8v1.8h-1.8zM291.7 97.2h1.8v1.8h-1.8zM282.6 91.1h1.8v1.8h-1.8zM281.4 99.5h1.8v1.8h-1.8zM287.6 97.1h1.8v1.8h-1.8zM285 84.2h1.8v1.8h-1.8zM261.6 86.7h1.8v1.8h-1.8zM270.8 92.3h1.8v1.8h-1.8zM316.7 92.9h1.8v1.8h-1.8zM255.6 103.9h1.8v1.8h-1.8zM268.2 92.9h1.8v1.8h-1.8zM294.7 95.3h1.8v1.8h-1.8zM273.6 95h1.8v1.8h-1.8zM262.4 100.6h1.8v1.8h-1.8zM253.6 97.4h1.8v1.8h-1.8zM285.6 97.3h1.8v1.8h-1.8zM293.9 93.5h1.8v1.8h-1.8zM300.5 85.6h1.8v1.8h-1.8zM277.3 93.9h1.8v1.8h-1.8zM294.4 107.1h1.8v1.8h-1.8zM258.6 103.8h1.8v1.8h-1.8zM279.3 107.2h1.8v1.8h-1.8zM264.7 102.4h1.8v1.8h-1.8zM279.4 92.4h1.8v1.8h-1.8zM289.3 93.1h1.8v1.8h-1.8zM294.8 99.8h1.8v1.8h-1.8zM259.3 95.3h1.8v1.8h-1.8zM298.2 100.8h1.8v1.8h-1.8zM268.2 106.6h1.8v1.8h-1.8zM258.7 106.8h1.8v1.8h-1.8zM273.4 102.5h1.8v1.8h-1.8zM251.2 87.6h1.8v1.8h-1.8zM276.5 105.7h1.8v1.8h-1.8zM281.4 87.6h1.8v1.8h-1.8zM272.9 87.4h1.8v1.8h-1.8zM285.6 97.3h1.8v1.8h-1.8zM271 97h1.8v1.8h-1.8zM276.4 100.7h1.8v1.8h-1.8zM251.6 97.6h1.8v1.8h-1.8zM277.1 91.9h1.8v1.8h-1.8zM261.7 97h1.8v1.8h-1.8zM268.6 89.9h1.8v1.8h-1.8zM274.8 88.3h1.8v1.8h-1.8zM279.7 93.9h1.8v1.8h-1.8zM248 95.3h1.8v1.8h-1.8zM249.5 98h1.8v1.8h-1.8zM271.2 94.3h1.8v1.8h-1.8zM284.5 103.8h1.8v1.8h-1.8zM282.6 93.4h1.8v1.8h-1.8zM291.7 94.4h1.8v1.8h-1.8zM298.8 101.5h1.8v1.8h-1.8zM284.9 81.2h1.8v1.8h-1.8zM276 103.2h1.8v1.8h-1.8zM258.6 103.2h1.8v1.8h-1.8zM260.1 95.2h1.8v1.8h-1.8zM268.3 110.2h1.8v1.8h-1.8zM281 101.7h1.8v1.8h-1.8zM280.2 106.8h1.8v1.8h-1.8zM276.4 103.1h1.8v1.8h-1.8zM273.7 97.5h1.8v1.8h-1.8zM287.2 93.8h1.8v1.8h-1.8zM280 88.7h1.8v1.8h-1.8zM281.5 90.7h1.8v1.8h-1.8zM281.7 88.1h1.8v1.8h-1.8zM267 92.8h1.8v1.8h-1.8zM258.6 100.4h1.8v1.8h-1.8zM284.8 88.4h1.8v1.8h-1.8zM283.5 99.5h1.8v1.8h-1.8zM272.6 100.9h1.8v1.8h-1.8zM269.2 86.2h1.8v1.8h-1.8zM315.6 89.4h1.8v1.8h-1.8zM263.3 95.5h1.8v1.8h-1.8zM272.6 91.4h1.8v1.8h-1.8zM280.9 90.2h1.8v1.8h-1.8zM256.5 106.7h1.8v1.8h-1.8zM278.4 97h1.8v1.8h-1.8zM307.3 103.4h1.8v1.8h-1.8zM292.5 95h1.8v1.8h-1.8zM287.3 100.7h1.8v1.8h-1.8zM286.6 86.7h1.8v1.8h-1.8zM278.3 92.8h1.8v1.8h-1.8zM292.9 101.4h1.8v1.8h-1.8zM273.7 96.7h1.8v1.8h-1.8zM269.1 105.1h1.8v1.8h-1.8zM278.1 96.1h1.8v1.8h-1.8zM292 92.1h1.8v1.8h-1.8zM282.1 94.4h1.8v1.8h-1.8zM288 109.3h1.8v1.8h-1.8zM241.5 100.2h1.8v1.8h-1.8zM296.9 92.1h1.8v1.8h-1.8zM316.7 92.7h1.8v1.8h-1.8zM299.4 87.5h1.8v1.8h-1.8zM270.9 105.6h1.8v1.8h-1.8zM261.8 93.4h1.8v1.8h-1.8zM281.2 100.8h1.8v1.8h-1.8zM259.4 95.8h1.8v1.8h-1.8zM288.9 93.2h1.8v1.8h-1.8zM267.3 92.1h1.8v1.8h-1.8zM292.9 99.8h1.8v1.8h-1.8zM299.8 94.3h1.8v1.8h-1.8zM241.4 106h1.8v1.8h-1.8zM281.4 106h1.8v1.8h-1.8zM264.3 93.1h1.8v1.8h-1.8zM252.1 97.8h1.8v1.8h-1.8zM265.7 108.1h1.8v1.8h-1.8zM272.6 102.5h1.8v1.8h-1.8zM294.2 95.6h1.8v1.8h-1.8zM250.2 86.8h1.8v1.8h-1.8zM294.5 88.5h1.8v1.8h-1.8zM311.1 89.6h1.8v1.8h-1.8zM286.7 108.4h1.8v1.8h-1.8zM285.8 96.8h1.8v1.8h-1.8zM276.1 93.2h1.8v1.8h-1.8zM256.1 94.6h1.8v1.8h-1.8zM285.6 93.2h1.8v1.8h-1.8zM283 97.8h1.8v1.8h-1.8zM289 83.8h1.8v1.8h-1.8zM320.6 84.5h1.8v1.8h-1.8zM288.9 96.6h1.8v1.8h-1.8zM283.7 103h1.8v1.8h-1.8zM303.3 81.2h1.8v1.8h-1.8zM253.2 101.3h1.8v1.8h-1.8zM256.7 89h1.8v1.8h-1.8zM269.9 83.5h1.8v1.8h-1.8zM265.1 103.5h1.8v1.8h-1.8zM288.3 94h1.8v1.8h-1.8zM270.9 99.1h1.8v1.8h-1.8zM306.3 91.7h1.8v1.8h-1.8zM302.6 93.2h1.8v1.8h-1.8zM289.6 82.5h1.8v1.8h-1.8zM269.7 92.7h1.8v1.8h-1.8zM287 96.1h1.8v1.8h-1.8zM290.3 88.1h1.8v1.8h-1.8zM258 99.1h1.8v1.8h-1.8zM282.4 98.8h1.8v1.8h-1.8zM288.5 80.5h1.8v1.8h-1.8zM280.1 102h1.8v1.8h-1.8zM303.4 98.8h1.8v1.8h-1.8zM297.3 95.3h1.8v1.8h-1.8zM262.2 104.4h1.8v1.8h-1.8zM278.5 111h1.8v1.8h-1.8zM262 89.8h1.8v1.8h-1.8zM286.4 101.5h1.8v1.8h-1.8zM261.4 100.8h1.8v1.8h-1.8zM292.3 98.4h1.8v1.8h-1.8zM283.1 103h1.8v1.8h-1.8zM293.1 103.3h1.8v1.8h-1.8zM273.9 95.5h1.8v1.8h-1.8zM251.3 80.9h1.8v1.8h-1.8zM306.8 90.2h1.8v1.8h-1.8zM273.4 91.4h1.8v1.8h-1.8zM300.1 106h1.8v1.8h-1.8zM283.8 96.4h1.8v1.8h-1.8zM288 104.2h1.8v1.8h-1.8zM307.9 89.9h1.8v1.8h-1.8zM282.2 97.8h1.8v1.8h-1.8zM300.5 95.3h1.8v1.8h-1.8zM250.8 98.1h1.8v1.8h-1.8zM291.4 99.9h1.8v1.8h-1.8zM272.2 107.2h1.8v1.8h-1.8zM274.1 92.6h1.8v1.8h-1.8zM276.5 106.1h1.8v1.8h-1.8zM282.3 104.4h1.8v1.8h-1.8zM304.9 97.4h1.8v1.8h-1.8zM244.5 102.7h1.8v1.8h-1.8zM277.1 94.7h1.8v1.8h-1.8zM264 90h1.8v1.8h-1.8zM296.4 94h1.8v1.8h-1.8zM269.1 95.4h1.8v1.8h-1.8zM284.2 96h1.8v1.8h-1.8zM269.5 90.8h1.8v1.8h-1.8zM287.9 108.8h1.8v1.8h-1.8zM293.8 93.3h1.8v1.8h-1.8zM269.5 103.2h1.8v1.8h-1.8zM277.2 105h1.8v1.8h-1.8zM251.9 97.5h1.8v1.8h-1.8zM281.6 99h1.8v1.8h-1.8zM291.1 91.9h1.8v1.8h-1.8zM266.8 89.3h1.8v1.8h-1.8zM295.7 111.8h1.8v1.8h-1.8zM240.7 98.4h1.8v1.8h-1.8zM244.5 84.2h1.8v1.8h-1.8zM252.5 91.5h1.8v1.8h-1.8zM268 86.8h1.8v1.8h-1.8zM276.7 95.8h1.8v1.8h-1.8zM275 106.5h1.8v1.8h-1.8zM275.2 104.3h1.8v1.8h-1.8zM288.8 91.1h1.8v1.8h-1.8zM268.2 90.2h1.8v1.8h-1.8zM254.6 102.4h1.8v1.8h-1.8zM255 99.2h1.8v1.8h-1.8zM312.8 93.2h1.8v1.8h-1.8zM235.9 110.2h1.8v1.8h-1.8zM273.3 99h1.8v1.8h-1.8zM301.5 84.3h1.8v1.8h-1.8zM284.7 81h1.8v1.8h-1.8zM262.1 97.8h1.8v1.8h-1.8zM276.4 83.8h1.8v1.8h-1.8zM291.2 99.5h1.8v1.8h-1.8zM297.2 101.3h1.8v1.8h-1.8zM260.9 112.6h1.8v1.8h-1.8zM289.5 89.3h1.8v1.8h-1.8zM280.7 98.9h1.8v1.8h-1.8zM295.4 79.5h1.8v1.8h-1.8zM300.3 93.2h1.8v1.8h-1.8zM270.5 95.4h1.8v1.8h-1.8zM251.4 110h1.8v1.8h-1.8zM283.2 85.8h1.8v1.8h-1.8zM307 97.8h1.8v1.8h-1.8zM288.2 97.1h1.8v1.8h-1.8zM280.3 111.6h1.8v1.8h-1.8zM317.7 88.4h1.8v1.8h-1.8zM258.5 90.4h1.8v1.8h-1.8zM291.9 100.1h1.8v1.8h-1.8zM266.5 96.2h1.8v1.8h-1.8zM277.2 93.7h1.8v1.8h-1.8zM277.9 89.8h1.8v1.8h-1.8zM302.5 94.7h1.8v1.8h-1.8zM260.3 85.2h1.8v1.8h-1.8zM267.2 98.5h1.8v1.8h-1.8zM248.9 101.8h1.8v1.8h-1.8zM284.8 99.4h1.8v1.8h-1.8zM268.5 114.4h1.8v1.8h-1.8zM283.6 101.8h1.8v1.8h-1.8zM257.9 90.3h1.8v1.8h-1.8zM270.2 94.9h1.8v1.8h-1.8zM294.3 101.4h1.8v1.8h-1.8zM273.4 94.2h1.8v1.8h-1.8zM287.1 110h1.8v1.8h-1.8zM285.5 98.1h1.8v1.8h-1.8zM270.3 93.1h1.8v1.8h-1.8zM249.5 92.7h1.8v1.8h-1.8zM293.3 101.1h1.8v1.8h-1.8zM279.3 90h1.8v1.8h-1.8zM293.3 82.8h1.8v1.8h-1.8zM241.7 100.8h1.8v1.8h-1.8zM247.9 92.5h1.8v1.8h-1.8zM239.5 108.7h1.8v1.8h-1.8zM261.3 110.7h1.8v1.8h-1.8zM294.3 91.5h1.8v1.8h-1.8zM286.1 95.8h1.8v1.8h-1.8zM275.8 95.1h1.8v1.8h-1.8zM278.6 100.4h1.8v1.8h-1.8zM289.5 98h1.8v1.8h-1.8zM271.2 91.1h1.8v1.8h-1.8zM283.2 84.3h1.8v1.8h-1.8zM278.8 97.9h1.8v1.8h-1.8zM238.7 109.4h1.8v1.8h-1.8zM269.7 87.9h1.8v1.8h-1.8zM299.8 91.3h1.8v1.8h-1.8zM269.6 92h1.8v1.8h-1.8zM273.9 95.3h1.8v1.8h-1.8zM265.9 80.8h1.8v1.8h-1.8zM268 96.3h1.8v1.8h-1.8zM295.7 92.1h1.8v1.8h-1.8zM271.8 109.5h1.8v1.8h-1.8zM258.8 101.2h1.8v1.8h-1.8zM222.8 103.4h1.8v1.8h-1.8zM266.5 97h1.8v1.8h-1.8zM242.5 95.4h1.8v1.8h-1.8zM245 102.9h1.8v1.8h-1.8zM290.1 83.9h1.8v1.8h-1.8zM288.6 103.3h1.8v1.8h-1.8zM243.4 100.9h1.8v1.8h-1.8zM291 94.2h1.8v1.8h-1.8zM284.3 104.8h1.8v1.8h-1.8zM262.9 93h1.8v1.8h-1.8zM289 91.6h1.8v1.8h-1.8zM248.4 99.6h1.8v1.8h-1.8zM255.6 84.1h1.8v1.8h-1.8zM251.6 96.9h1.8v1.8h-1.8zM257.2 95.3h1.8v1.8h-1.8zM291.5 102.5h1.8v1.8h-1.8zM253.4 109h1.8v1.8h-1.8zM256.5 101.6h1.8v1.8h-1.8zM260 99.3h1.8v1.8h-1.8zM279.7 99.5h1.8v1.8h-1.8zM270.5 91.4h1.8v1.8h-1.8zM291.2 112.4h1.8v1.8h-1.8zM264.1 104.8h1.8v1.8h-1.8zM254.2 110h1.8v1.8h-1.8zM267.7 87.5h1.8v1.8h-1.8zM277 100.3h1.8v1.8h-1.8zM260.3 100.7h1.8v1.8h-1.8zM281.1 103.9h1.8v1.8h-1.8zM307.6 89h1.8v1.8h-1.8zM266.2 99.7h1.8v1.8h-1.8zM277 94.9h1.8v1.8h-1.8zM299.5 109.6h1.8v1.8h-1.8zM265 88.8h1.8v1.8h-1.8zM261.6 94.3h1.8v1.8h-1.8zM257.3 93.4h1.8v1.8h-1.8zM283 87.6h1.8v1.8h-1.8zM285 97.4h1.8v1.8h-1.8zM273.6 97.7h1.8v1.8h-1.8zM276.8 91.4h1.8v1.8h-1.8zM298 92.6h1.8v1.8h-1.8zM291 97.5h1.8v1.8h-1.8zM251.9 97.1h1.8v1.8h-1.8zM275.9 99.9h1.8v1.8h-1.8zM277.8 91.4h1.8v1.8h-1.8zM288.4 89.5h1.8v1.8h-1.8zM272.1 96.6h1.8v1.8h-1.8zM264.8 83.9h1.8v1.8h-1.8zM268.1 107.4h1.8v1.8h-1.8zM245.3 99.3h1.8v1.8h-1.8zM275.5 84.6h1.8v1.8h-1.8zM265.6 99.8h1.8v1.8h-1.8zM283.9 107.2h1.8v1.8h-1.8zM258.2 87.5h1.8v1.8h-1.8zM268.4 93h1.8v1.8h-1.8zM259 105.4h1.8v1.8h-1.8zM257.5 91.8h1.8v1.8h-1.8zM287.9 103.1h1.8v1.8h-1.8zM267.8 106.1h1.8v1.8h-1.8zM244.8 114.5h1.8v1.8h-1.8zM236.5 88.6h1.8v1.8h-1.8zM221 103h1.8v1.8h-1.8zM239.4 124h1.8v1.8h-1.8zM223.3 119h1.8v1.8h-1.8zM250.1 119.5h1.8v1.8h-1.8zM248 110.6h1.8v1.8h-1.8zM267.4 105h1.8v1.8h-1.8zM237.2 83.2h1.8v1.8h-1.8zM215.1 139.4h1.8v1.8h-1.8zM215.4 102.9h1.8v1.8h-1.8zM242.4 106.1h1.8v1.8h-1.8zM287.3 113.5h1.8v1.8h-1.8zM270 109.2h1.8v1.8h-1.8zM232.5 119.6h1.8v1.8h-1.8zM272.4 106.3h1.8v1.8h-1.8zM219.4 102.5h1.8v1.8h-1.8zM274.2 126h1.8v1.8h-1.8zM239 95.4h1.8v1.8h-1.8zM268 112.4h1.8v1.8h-1.8zM264.3 88.9h1.8v1.8h-1.8zM241.7 106.5h1.8v1.8h-1.8zM256.9 93.6h1.8v1.8h-1.8zM221.8 107.7h1.8v1.8h-1.8zM246.8 97.1h1.8v1.8h-1.8zM275.9 105.6h1.8v1.8h-1.8zM266.4 99.2h1.8v1.8h-1.8zM250.9 101.2h1.8v1.8h-1.8zM223.2 87.9h1.8v1.8h-1.8zM275.3 132h1.8v1.8h-1.8zM206.9 119.8h1.8v1.8h-1.8zM228.4 100.3h1.8v1.8h-1.8zM257.7 125.2h1.8v1.8h-1.8zM218.3 118.4h1.8v1.8h-1.8zM287.5 77.3h1.8v1.8h-1.8zM276.2 88.1h1.8v1.8h-1.8zM234.4 124.2h1.8v1.8h-1.8zM234.7 94.6h1.8v1.8h-1.8zM215.4 100.8h1.8v1.8h-1.8zM213.4 106.3h1.8v1.8h-1.8zM259.8 103.9h1.8v1.8h-1.8zM264.4 105h1.8v1.8h-1.8zM257.5 120.3h1.8v1.8h-1.8zM255.4 116.1h1.8v1.8h-1.8zM234.6 103.5h1.8v1.8h-1.8zM257.7 107.3h1.8v1.8h-1.8zM211.6 92.9h1.8v1.8h-1.8zM248.9 114.8h1.8v1.8h-1.8zM285.8 135.3h1.8v1.8h-1.8zM282 109.5h1.8v1.8h-1.8zM237 108.9h1.8v1.8h-1.8zM240.2 107h1.8v1.8h-1.8zM283.4 104.1h1.8v1.8h-1.8zM293.7 113.9h1.8v1.8h-1.8zM211 97.5h1.8v1.8h-1.8zM237.9 120.8h1.8v1.8h-1.8zM254.6 100.5h1.8v1.8h-1.8zM279.4 109.3h1.8v1.8h-1.8zM227.6 129.2h1.8v1.8h-1.8zM264.9 89.9h1.8v1.8h-1.8zM241.1 143.8h1.8v1.8h-1.8zM308.6 111.8h1.8v1.8h-1.8zM259.5 103.3h1.8v1.8h-1.8zM245.3 115.6h1.8v1.8h-1.8zM240.2 102.3h1.8v1.8h-1.8zM275.3 107.5h1.8v1.8h-1.8zM265.8 113.6h1.8v1.8h-1.8zM221.4 87.3h1.8v1.8h-1.8zM254.2 112.4h1.8v1.8h-1.8zM214.9 117.9h1.8v1.8h-1.8zM229.6 127.4h1.8v1.8h-1.8zM216 125.2h1.8v1.8h-1.8zM215.3 107.5h1.8v1.8h-1.8zM231.4 106h1.8v1.8h-1.8zM224 114.4h1.8v1.8h-1.8zM262 117.3h1.8v1.8h-1.8zM268.8 98.5h1.8v1.8h-1.8zM242.7 133.2h1.8v1.8h-1.8zM220.5 119.3h1.8v1.8h-1.8zM269 110.4h1.8v1.8h-1.8zM197.7 129.4h1.8v1.8h-1.8zM200 116.3h1.8v1.8h-1.8zM267 116h1.8v1.8h-1.8zM265.2 118h1.8v1.8h-1.8zM273.3 83.5h1.8v1.8h-1.8zM243.3 101.8h1.8v1.8h-1.8zM216.9 100.2h1.8v1.8h-1.8zM235.9 111.8h1.8v1.8h-1.8zM263 95.8h1.8v1.8h-1.8zM229.4 103.5h1.8v1.8h-1.8zM231 97.7h1.8v1.8h-1.8zM213.5 85.7h1.8v1.8h-1.8zM219.4 117.9h1.8v1.8h-1.8zM270 103.6h1.8v1.8h-1.8zM260.2 109.1h1.8v1.8h-1.8zM219.4 159.9h1.8v1.8h-1.8zM221.5 132.5h1.8v1.8h-1.8zM234.5 112.3h1.8v1.8h-1.8zM262.5 100h1.8v1.8h-1.8zM219.2 122.3h1.8v1.8h-1.8zM244.4 96.5h1.8v1.8h-1.8zM194.6 102.5h1.8v1.8h-1.8zM217 120.6h1.8v1.8h-1.8zM259.3 90.4h1.8v1.8h-1.8zM271.3 84.3h1.8v1.8h-1.8zM219.5 109h1.8v1.8h-1.8zM229.2 125.9h1.8v1.8h-1.8zM268.8 88.3h1.8v1.8h-1.8zM238.9 113.9h1.8v1.8h-1.8zM235.1 117.2h1.8v1.8h-1.8zM261.8 106.6h1.8v1.8h-1.8zM253.7 116.3h1.8v1.8h-1.8zM276.8 92h1.8v1.8h-1.8zM268.7 97.1h1.8v1.8h-1.8zM234.2 97h1.8v1.8h-1.8zM245.7 103.3h1.8v1.8h-1.8zM247.2 120.6h1.8v1.8h-1.8zM214.5 117.7h1.8v1.8h-1.8zM224.2 102.9h1.8v1.8h-1.8zM273.2 111.5h1.8v1.8h-1.8zM208.7 79.3h1.8v1.8h-1.8zM273.8 109.3h1.8v1.8h-1.8zM255.9 116.5h1.8v1.8h-1.8zM245.2 96.1h1.8v1.8h-1.8zM262.3 98.5h1.8v1.8h-1.8zM260.8 108.6h1.8v1.8h-1.8zM279.2 108.2h1.8v1.8h-1.8zM238.7 106.3h1.8v1.8h-1.8zM243 100.4h1.8v1.8h-1.8zM270.3 207h1.8v1.8h-1.8zM239.7 173.9h1.8v1.8h-1.8zM260.8 180.3h1.8v1.8h-1.8zM272.6 175.3h1.8v1.8h-1.8zM270.3 148.5h1.8v1.8h-1.8zM159.8 188.2h1.8v1.8h-1.8zM222.8 157h1.8v1.8h-1.8zM226.1 173.2h1.8v1.8h-1.8zM241.8 213.8h1.8v1.8h-1.8zM253.5 177.4h1.8v1.8h-1.8zM274.8 168.5h1.8v1.8h-1.8zM266.1 215.6h1.8v1.8h-1.8zM244.7 153.6h1.8v1.8h-1.8zM249.1 182.7h1.8v1.8h-1.8zM298.9 167.3h1.8v1.8h-1.8zM230.8 208.5h1.8v1.8h-1.8zM257.1 181.3h1.8v1.8h-1.8zM293.3 169.8h1.8v1.8h-1.8zM258.3 190.5h1.8v1.8h-1.8zM189.7 192.4h1.8v1.8h-1.8zM259.2 232.6h1.8v1.8h-1.8zM237.3 154.2h1.8v1.8h-1.8zM245.1 211.3h1.8v1.8h-1.8zM278.6 230.9h1.8v1.8h-1.8zM261.9 204.8h1.8v1.8h-1.8zM240.8 205.4h1.8v1.8h-1.8zM274 167.3h1.8v1.8h-1.8zM260.9 203.9h1.8v1.8h-1.8zM251.4 177.2h1.8v1.8h-1.8zM257 205.6h1.8v1.8h-1.8zM255.7 131.2h1.8v1.8h-1.8zM238.6 173.2h1.8v1.8h-1.8zM235.2 140.5h1.8v1.8h-1.8zM249.1 208.3h1.8v1.8h-1.8zM221 173.4h1.8v1.8h-1.8zM212.3 213.1h1.8v1.8h-1.8zM285.7 164.6h1.8v1.8h-1.8zM241.5 169.6h1.8v1.8h-1.8zM247.7 222.2h1.8v1.8h-1.8zM244.5 212h1.8v1.8h-1.8zM249.1 211.9h1.8v1.8h-1.8zM249 219.9h1.8v1.8h-1.8zM250.3 201.4h1.8v1.8h-1.8zM225.3 211h1.8v1.8h-1.8zM275.1 214.1h1.8v1.8h-1.8zM228.5 185.6h1.8v1.8h-1.8zM278.1 166.7h1.8v1.8h-1.8zM193.3 224.8h1.8v1.8h-1.8zM217.9 202.8h1.8v1.8h-1.8zM276.9 179.6h1.8v1.8h-1.8zM244.1 190.8h1.8v1.8h-1.8zM229.1 204.3h1.8v1.8h-1.8zM259.2 163.7h1.8v1.8h-1.8zM218.4 169.6h1.8v1.8h-1.8zM250.6 168.2h1.8v1.8h-1.8zM184.8 200.2h1.8v1.8h-1.8zM235.4 139.9h1.8v1.8h-1.8zM229.7 146.7h1.8v1.8h-1.8zM263.9 191.5h1.8v1.8h-1.8zM273.5 183.2h1.8v1.8h-1.8zM223.9 160.7h1.8v1.8h-1.8zM294.6 195.7h1.8v1.8h-1.8zM231.4 178.1h1.8v1.8h-1.8zM189.4 193.5h1.8v1.8h-1.8zM180.1 212.7h1.8v1.8h-1.8zM292.6 182.7h1.8v1.8h-1.8zM245.9 222.1h1.8v1.8h-1.8zM229.8 200.6h1.8v1.8h-1.8zM226.9 235.3h1.8v1.8h-1.8zM217 136.1h1.8v1.8h-1.8zM287.2 142.6h1.8v1.8h-1.8zM246 156.1h1.8v1.8h-1.8zM299.8 168.9h1.8v1.8h-1.8zM242.7 162.1h1.8v1.8h-1.8zM180.9 166h1.8v1.8h-1.8zM272.6 156.7h1.8v1.8h-1.8zM237.8 164.8h1.8v1.8h-1.8zM241.6 207.4h1.8v1.8h-1.8zM293.4 167.1h1.8v1.8h-1.8zM240.8 198.6h1.8v1.8h-1.8zM281.7 207h1.8v1.8h-1.8zM248.2 211.7h1.8v1.8h-1.8zM226.8 178.3h1.8v1.8h-1.8zM262.9 157.5h1.8v1.8h-1.8zM231.2 219.9h1.8v1.8h-1.8zM283.6 137.7h1.8v1.8h-1.8zM275.9 145.5h1.8v1.8h-1.8zM250.2 193.5h1.8v1.8h-1.8zM265.9 192.8h1.8v1.8h-1.8zM264.6 183.8h1.8v1.8h-1.8zM240.5 163h1.8v1.8h-1.8zM274.1 189.5h1.8v1.8h-1.8zM241.9 212h1.8v1.8h-1.8zM266.1 173.8h1.8v1.8h-1.8zM221.1 238.1h1.8v1.8h-1.8zM251.3 181h1.8v1.8h-1.8zM260.3 155.5h1.8v1.8h-1.8zM225.8 181.5h1.8v1.8h-1.8zM236.5 168.5h1.8v1.8h-1.8zM233.1 175.8h1.8v1.8h-1.8zM269.4 164.2h1.8v1.8h-1.8zM227.8 184.9h1.8v1.8h-1.8zM261.1 202.3h1.8v1.8h-1.8zM292.3 182.8h1.8v1.8h-1.8zM258.8 184.9h1.8v1.8h-1.8zM202.3 162.9h1.8v1.8h-1.8zM252.2 145.9h1.8v1.8h-1.8zM278.4 169.9h1.8v1.8h-1.8zM240.4 204h1.8v1.8h-1.8zM280.4 196.7h1.8v1.8h-1.8zM266.3 186.3h1.8v1.8h-1.8zM260.7 150.1h1.8v1.8h-1.8zM241.1 178.2h1.8v1.8h-1.8zM233.9 188.6h1.8v1.8h-1.8zM241.3 204.1h1.8v1.8h-1.8zM250.4 163.7h1.8v1.8h-1.8zM263.7 175.5h1.8v1.8h-1.8zM260.7 184h1.8v1.8h-1.8zM240 183.9h1.8v1.8h-1.8zM250.6 144.8h1.8v1.8h-1.8zM259.8 186.8h1.8v1.8h-1.8zM202.1 152.8h1.8v1.8h-1.8zM226.7 159.2h1.8v1.8h-1.8zM225.8 187.5h1.8v1.8h-1.8zM242.9 165h1.8v1.8h-1.8zM240.8 189.1h1.8v1.8h-1.8zM241.3 205.6h1.8v1.8h-1.8zM223.7 195.4h1.8v1.8h-1.8zM268.1 203h1.8v1.8h-1.8zM256.8 171.4h1.8v1.8h-1.8zM201.6 192.4h1.8v1.8h-1.8zM249.2 171.4h1.8v1.8h-1.8zM216.5 170.8h1.8v1.8h-1.8zM235.7 179.7h1.8v1.8h-1.8zM237.5 229.2h1.8v1.8h-1.8zM251.2 180.5h1.8v1.8h-1.8zM243.1 206.5h1.8v1.8h-1.8zM247.2 182.6h1.8v1.8h-1.8zM293.3 145.2h1.8v1.8h-1.8zM255.3 224h1.8v1.8h-1.8zM272.8 176.3h1.8v1.8h-1.8zM281.2 181.2h1.8v1.8h-1.8zM220.9 234.1h1.8v1.8h-1.8zM297.4 161.4h1.8v1.8h-1.8zM268.6 180.7h1.8v1.8h-1.8zM276.4 192.2h1.8v1.8h-1.8zM224.1 206h1.8v1.8h-1.8zM272.4 105.1h1.8v1.8h-1.8zM260.8 192.1h1.8v1.8h-1.8zM233.5 229.9h1.8v1.8h-1.8zM314.4 195.8h1.8v1.8h-1.8zM265.2 190.7h1.8v1.8h-1.8zM242 195h1.8v1.8h-1.8zM254.5 185.7h1.8v1.8h-1.8zM275 205.1h1.8v1.8h-1.8zM281.4 166.6h1.8v1.8h-1.8zM265.6 193.4h1.8v1.8h-1.8zM283.9 211h1.8v1.8h-1.8zM291.1 197h1.8v1.8h-1.8zM213.5 199.8h1.8v1.8h-1.8zM235 167.1h1.8v1.8h-1.8zM222 177.9h1.8v1.8h-1.8zM251.7 192.3h1.8v1.8h-1.8zM290.4 177.4h1.8v1.8h-1.8zM267.7 176.6h1.8v1.8h-1.8zM218.9 141.7h1.8v1.8h-1.8zM240.5 200.8h1.8v1.8h-1.8zM278.5 168.8h1.8v1.8h-1.8zM233.7 170.2h1.8v1.8h-1.8zM246.2 207.8h1.8v1.8h-1.8zM257.7 178.9h1.8v1.8h-1.8zM196.7 189.7h1.8v1.8h-1.8zM271.3 192.1h1.8v1.8h-1.8zM258.8 169.8h1.8v1.8h-1.8zM265.3 157.8h1.8v1.8h-1.8zM220.9 162.9h1.8v1.8h-1.8zM226.9 193h1.8v1.8h-1.8zM231.8 183.2h1.8v1.8h-1.8zM256.2 128.1h1.8v1.8h-1.8zM251 210.5h1.8v1.8h-1.8zM252.6 179h1.8v1.8h-1.8zM300.4 155.2h1.8v1.8h-1.8zM286.4 175h1.8v1.8h-1.8zM228.3 172.8h1.8v1.8h-1.8zM230.2 183.9h1.8v1.8h-1.8zM298.2 158.8h1.8v1.8h-1.8zM239.9 156.1h1.8v1.8h-1.8zM288.5 183.4h1.8v1.8h-1.8zM294.8 172.4h1.8v1.8h-1.8zM233.4 188.7h1.8v1.8h-1.8zM241.2 195.6h1.8v1.8h-1.8zM251.3 184.9h1.8v1.8h-1.8zM224.2 215.7h1.8v1.8h-1.8zM220.9 171.9h1.8v1.8h-1.8zM237.4 146.6h1.8v1.8h-1.8zM273.4 140.5h1.8v1.8h-1.8zM236.1 156.9h1.8v1.8h-1.8zM243 208.5h1.8v1.8h-1.8zM235.6 151.2h1.8v1.8h-1.8zM209.8 208.3h1.8v1.8h-1.8zM291.6 178.9h1.8v1.8h-1.8zM181.7 152.5h1.8v1.8h-1.8zM230.2 213.2h1.8v1.8h-1.8zM265 162.3h1.8v1.8h-1.8zM208.9 184.9h1.8v1.8h-1.8zM266.3 185.5h1.8v1.8h-1.8zM284.9 199.4h1.8v1.8h-1.8zM224.3 179h1.8v1.8h-1.8zM254.9 194.7h1.8v1.8h-1.8zM214.9 117.1h1.8v1.8h-1.8zM218.8 113h1.8v1.8h-1.8zM162.7 121.9h1.8v1.8h-1.8zM181.5 110.4h1.8v1.8h-1.8zM185.6 92.9h1.8v1.8h-1.8zM167 127.1h1.8v1.8h-1.8zM168.4 129.5h1.8v1.8h-1.8zM194.3 140.1h1.8v1.8h-1.8zM187.9 115.8h1.8v1.8h-1.8zM156.9 113.8h1.8v1.8h-1.8zM180.8 123.5h1.8v1.8h-1.8zM203.6 100.9h1.8v1.8h-1.8zM166.5 122.5h1.8v1.8h-1.8zM172.5 102.4h1.8v1.8h-1.8zM226.6 107.4h1.8v1.8h-1.8zM220.8 126.2h1.8v1.8h-1.8zM157.5 132.7h1.8v1.8h-1.8zM163.3 143h1.8v1.8h-1.8zM200.5 138.7h1.8v1.8h-1.8zM166.8 119.4h1.8v1.8h-1.8zM187 107.9h1.8v1.8h-1.8zM182.7 94.9h1.8v1.8h-1.8zM204.5 116.5h1.8v1.8h-1.8zM138 131.2h1.8v1.8h-1.8zM145 141h1.8v1.8h-1.8zM166 110.3h1.8v1.8h-1.8zM214.2 109h1.8v1.8h-1.8zM189.1 126.2h1.8v1.8h-1.8zM155.7 116.1h1.8v1.8h-1.8zM203 108.9h1.8v1.8h-1.8zM207.7 139h1.8v1.8h-1.8zM187.1 109.5h1.8v1.8h-1.8zM185.3 117.6h1.8v1.8h-1.8zM201.8 121.3h1.8v1.8h-1.8zM218.5 118.5h1.8v1.8h-1.8zM195.7 95.1h1.8v1.8h-1.8zM203.9 96.3h1.8v1.8h-1.8zM191.4 94.9h1.8v1.8h-1.8zM184.2 134.2h1.8v1.8h-1.8zM172.7 130.1h1.8v1.8h-1.8zM197.9 105.4h1.8v1.8h-1.8zM186 134.6h1.8v1.8h-1.8zM187.2 128.2h1.8v1.8h-1.8zM212.4 137.3h1.8v1.8h-1.8zM202.9 92.4h1.8v1.8h-1.8zM211.2 101h1.8v1.8h-1.8zM158.5 118.5h1.8v1.8h-1.8zM204.4 113h1.8v1.8h-1.8zM179.7 125.7h1.8v1.8h-1.8zM175 126.3h1.8v1.8h-1.8zM174.1 113.6h1.8v1.8h-1.8zM218.5 122.2h1.8v1.8h-1.8zM210.2 99h1.8v1.8h-1.8zM177 127.2h1.8v1.8h-1.8zM167.9 133.7h1.8v1.8h-1.8zM192.7 101.4h1.8v1.8h-1.8zM182.5 121.7h1.8v1.8h-1.8zM228.1 104.3h1.8v1.8h-1.8zM161 129.2h1.8v1.8h-1.8zM153 154.1h1.8v1.8h-1.8zM57.2 226.1h1.8v1.8h-1.8zM58.1 233.3h1.8v1.8h-1.8zM57.2 220.1h1.8v1.8h-1.8zM59.6 217.2h1.8v1.8h-1.8zM58.2 237.7h1.8v1.8h-1.8zM56.6 238.8h1.8v1.8h-1.8zM58.9 222.3h1.8v1.8h-1.8zM57.1 231.5h1.8v1.8h-1.8zM57.7 213.6h1.8v1.8h-1.8zM57.1 248.7h1.8v1.8h-1.8zM57.9 225.9h1.8v1.8h-1.8zM57.2 234.2h1.8v1.8h-1.8zM57.3 240h1.8v1.8h-1.8zM56.7 212h1.8v1.8h-1.8zM59.5 239.8h1.8v1.8h-1.8zM56.8 215.3h1.8v1.8h-1.8zM57.1 212.5h1.8v1.8h-1.8zM57.6 207.7h1.8v1.8h-1.8zM56.5 244.1h1.8v1.8h-1.8zM56.9 242.4h1.8v1.8h-1.8zM57.6 245.5h1.8v1.8h-1.8zM58.2 235.4h1.8v1.8h-1.8zM121.2 247.1h1.8v1.8h-1.8zM102.3 248.8h1.8v1.8h-1.8zM67.2 246.8h1.8v1.8h-1.8zM63.7 248.4h1.8v1.8h-1.8zM109.9 248.4h1.8v1.8h-1.8zM100.8 247.7h1.8v1.8h-1.8zM56.3 246.7h1.8v1.8h-1.8zM98.2 248.1h1.8v1.8h-1.8zM69.7 247.8h1.8v1.8h-1.8zM77.2 248h1.8v1.8h-1.8zM63.3 248.8h1.8v1.8h-1.8zM127.2 248.3h1.8v1.8h-1.8zM88.9 246.6h1.8v1.8h-1.8zM100.4 246.6h1.8v1.8h-1.8zM70.7 248.4h1.8v1.8h-1.8zM83 246.6h1.8v1.8h-1.8zM102.5 249.1h1.8v1.8h-1.8zM109.7 247.2h1.8v1.8h-1.8zM121.2 249h1.8v1.8h-1.8zM73.9 248h1.8v1.8h-1.8zM73.3 248h1.8v1.8h-1.8zM85 247.9h1.8v1.8h-1.8zM78.2 246.6h1.8v1.8h-1.8zM114.9 248.2h1.8v1.8h-1.8zM82.7 249.1h1.8v1.8h-1.8zM82.9 248.8h1.8v1.8h-1.8zM92.2 247.1h1.8v1.8h-1.8zM96.6 248.8h1.8v1.8h-1.8zM81.4 248.9h1.8v1.8h-1.8zM56.7 248.6h1.8v1.8h-1.8zM60.8 240h1.8v1.8h-1.8zM103.9 227.7h1.8v1.8h-1.8zM97.3 222.6h1.8v1.8h-1.8zM103 221.1h1.8v1.8h-1.8zM91.4 233h1.8v1.8h-1.8zM99 232h1.8v1.8h-1.8zM80.9 232.6h1.8v1.8h-1.8zM102.2 221.2h1.8v1.8h-1.8zM109.9 220.5h1.8v1.8h-1.8zM90.7 235h1.8v1.8h-1.8zM109.5 243.6h1.8v1.8h-1.8zM75.1 226.2h1.8v1.8h-1.8zM123.1 221.2h1.8v1.8h-1.8zM129.9 219.1h1.8v1.8h-1.8zM97.4 233.5h1.8v1.8h-1.8zM89.8 239.2h1.8v1.8h-1.8zM64.7 239.3h1.8v1.8h-1.8zM99.8 230.5h1.8v1.8h-1.8zM108.7 231.8h1.8v1.8h-1.8zM104 230.3h1.8v1.8h-1.8zM102.5 223.2h1.8v1.8h-1.8zM101.5 232.4h1.8v1.8h-1.8zM67.7 235.6h1.8v1.8h-1.8zM103.6 245h1.8v1.8h-1.8zM59.7 239.3h1.8v1.8h-1.8zM124 224.2h1.8v1.8h-1.8zM94.9 239.9h1.8v1.8h-1.8zM120.9 220.5h1.8v1.8h-1.8zM116.8 231.6h1.8v1.8h-1.8zM78 229.4h1.8v1.8h-1.8zM139.4 223.3h1.8v1.8h-1.8zM70.4 230h1.8v1.8h-1.8zM98.7 231.7h1.8v1.8h-1.8zM117.4 237.2h1.8v1.8h-1.8zM113.5 228.3h1.8v1.8h-1.8zM90.6 225.2h1.8v1.8h-1.8zM91.6 234.2h1.8v1.8h-1.8zM68.8 238.8h1.8v1.8h-1.8zM99.1 221.6h1.8v1.8h-1.8zM68.1 226h1.8v1.8h-1.8zM71.1 228.7h1.8v1.8h-1.8zM82.3 223.9h1.8v1.8h-1.8zM65.6 232.5h1.8v1.8h-1.8zM125.8 216.4h1.8v1.8h-1.8zM63.4 229.4h1.8v1.8h-1.8zM75.7 230.6h1.8v1.8h-1.8z"/>
<rect x="57" y="36" width="287" height="214" fill="none" stroke="#1a1a1a" stroke-width="1.4"/>
<path d="M223 36V250M57 137.8H344" stroke="#2a2a2a" stroke-width="1.8" fill="none"/>
<path d="M57 250v6M57 250h-6M78.6 250v3.8M57 233.9h-3.8M91.2 250v3.8M57 224.5h-3.8M100.2 250v3.8M57 217.8h-3.8M107.2 250v3.8M57 212.6h-3.8M112.8 250v3.8M57 208.4h-3.8M117.6 250v3.8M57 204.8h-3.8M121.8 250v3.8M57 201.7h-3.8M125.5 250v3.8M57 198.9h-3.8M128.8 250v6M57 196.5h-6M150.3 250v3.8M57 180.4h-3.8M163 250v3.8M57 171h-3.8M171.9 250v3.8M57 164.3h-3.8M178.9 250v3.8M57 159.1h-3.8M184.6 250v3.8M57 154.9h-3.8M189.4 250v3.8M57 151.3h-3.8M193.5 250v3.8M57 148.2h-3.8M197.2 250v3.8M57 145.4h-3.8M200.5 250v6M57 143h-6M222.1 250v3.8M57 126.9h-3.8M234.7 250v3.8M57 117.5h-3.8M243.7 250v3.8M57 110.8h-3.8M250.7 250v3.8M57 105.6h-3.8M256.3 250v3.8M57 101.4h-3.8M261.1 250v3.8M57 97.8h-3.8M265.3 250v3.8M57 94.7h-3.8M269 250v3.8M57 91.9h-3.8M272.2 250v6M57 89.5h-6M293.8 250v3.8M57 73.4h-3.8M306.5 250v3.8M57 64h-3.8M315.4 250v3.8M57 57.3h-3.8M322.4 250v3.8M57 52.1h-3.8M328.1 250v3.8M57 47.9h-3.8M332.9 250v3.8M57 44.3h-3.8M337 250v3.8M57 41.2h-3.8M340.7 250v3.8M57 38.4h-3.8M344 250v6M57 36h-6" stroke="#1a1a1a" stroke-width="1.3" fill="none"/>
<text x="60" y="270.5" font-family='"Liberation Sans", sans-serif' font-size="13" fill="#333" text-anchor="end">10</text>
<text x="59.5" y="265.5" font-family='"Liberation Sans", sans-serif' font-size="12" fill="#333">0</text>
<text x="131.8" y="270.5" font-family='"Liberation Sans", sans-serif' font-size="13" fill="#333" text-anchor="end">10</text>
<text x="131.2" y="265.5" font-family='"Liberation Sans", sans-serif' font-size="12" fill="#333">1</text>
<text x="203.5" y="270.5" font-family='"Liberation Sans", sans-serif' font-size="13" fill="#333" text-anchor="end">10</text>
<text x="203" y="265.5" font-family='"Liberation Sans", sans-serif' font-size="12" fill="#333">2</text>
<text x="275.2" y="270.5" font-family='"Liberation Sans", sans-serif' font-size="13" fill="#333" text-anchor="end">10</text>
<text x="274.8" y="265.5" font-family='"Liberation Sans", sans-serif' font-size="12" fill="#333">3</text>
<text x="347" y="270.5" font-family='"Liberation Sans", sans-serif' font-size="13" fill="#333" text-anchor="end">10</text>
<text x="346.5" y="265.5" font-family='"Liberation Sans", sans-serif' font-size="12" fill="#333">4</text>
<g transform="translate(47.5 250) rotate(-90)"><text x="4.8" y="0" font-family='"Liberation Sans", sans-serif' font-size="13" fill="#333" text-anchor="end">10</text><text x="4.3" y="-6" font-family='"Liberation Sans", sans-serif' font-size="12" fill="#333">0</text></g>
<g transform="translate(47.5 196.5) rotate(-90)"><text x="4.8" y="0" font-family='"Liberation Sans", sans-serif' font-size="13" fill="#333" text-anchor="end">10</text><text x="4.3" y="-6" font-family='"Liberation Sans", sans-serif' font-size="12" fill="#333">1</text></g>
<g transform="translate(47.5 143) rotate(-90)"><text x="4.8" y="0" font-family='"Liberation Sans", sans-serif' font-size="13" fill="#333" text-anchor="end">10</text><text x="4.3" y="-6" font-family='"Liberation Sans", sans-serif' font-size="12" fill="#333">2</text></g>
<g transform="translate(47.5 89.5) rotate(-90)"><text x="4.8" y="0" font-family='"Liberation Sans", sans-serif' font-size="13" fill="#333" text-anchor="end">10</text><text x="4.3" y="-6" font-family='"Liberation Sans", sans-serif' font-size="12" fill="#333">3</text></g>
<g transform="translate(47.5 36) rotate(-90)"><text x="4.8" y="0" font-family='"Liberation Sans", sans-serif' font-size="13" fill="#333" text-anchor="end">10</text><text x="4.3" y="-6" font-family='"Liberation Sans", sans-serif' font-size="12" fill="#333">4</text></g>
<text x="198.5" y="282.5" font-family='"Liberation Sans", sans-serif' font-size="12.3" fill="#333" text-anchor="middle">AnnexinV-FITC</text>
<g transform="translate(30.5 143) rotate(-90)"><text x="0" y="0" font-family='"Liberation Sans", sans-serif' font-size="13" fill="#333" text-anchor="middle">PI</text></g>
<text transform="translate(63.3 57.6) scale(1 1.1)" font-family='"Liberation Serif", serif' font-size="28" font-weight="bold" fill="#000">a</text>
<path fill="#ee1e0e" d="M480.7 190.3h1.8v1.8h-1.8zM482.4 211.2h1.8v1.8h-1.8zM530.8 190.5h1.8v1.8h-1.8zM479.6 204.8h1.8v1.8h-1.8zM474.3 206.6h1.8v1.8h-1.8zM478.6 227.6h1.8v1.8h-1.8zM484.6 211.9h1.8v1.8h-1.8zM455.1 226.8h1.8v1.8h-1.8zM437 214h1.8v1.8h-1.8zM485.6 207.2h1.8v1.8h-1.8zM484.9 201.5h1.8v1.8h-1.8zM482.3 187.2h1.8v1.8h-1.8zM504 189.6h1.8v1.8h-1.8zM515 205.7h1.8v1.8h-1.8zM487.2 199.9h1.8v1.8h-1.8zM467.5 190.3h1.8v1.8h-1.8zM454.2 207h1.8v1.8h-1.8zM462.4 205.6h1.8v1.8h-1.8zM480.2 200.5h1.8v1.8h-1.8zM435.1 226.2h1.8v1.8h-1.8zM480.9 213.6h1.8v1.8h-1.8zM479.1 202.3h1.8v1.8h-1.8zM493.1 198.5h1.8v1.8h-1.8zM472.2 215.8h1.8v1.8h-1.8zM481.5 208.6h1.8v1.8h-1.8zM463.6 208.8h1.8v1.8h-1.8zM469.4 208.4h1.8v1.8h-1.8zM482 204.3h1.8v1.8h-1.8zM512.5 199.9h1.8v1.8h-1.8zM482.8 219.5h1.8v1.8h-1.8zM487.2 215.3h1.8v1.8h-1.8zM458.3 205h1.8v1.8h-1.8zM509.9 218h1.8v1.8h-1.8zM462.9 205h1.8v1.8h-1.8zM496.5 210.2h1.8v1.8h-1.8zM481.6 213.6h1.8v1.8h-1.8zM458.8 201.7h1.8v1.8h-1.8zM501.3 209.8h1.8v1.8h-1.8zM479.7 214.3h1.8v1.8h-1.8zM483.2 212h1.8v1.8h-1.8zM489 203.9h1.8v1.8h-1.8zM471.2 228h1.8v1.8h-1.8zM489.3 204.7h1.8v1.8h-1.8zM470.7 209.2h1.8v1.8h-1.8zM480.7 196h1.8v1.8h-1.8zM465.1 211.2h1.8v1.8h-1.8zM447.5 234.5h1.8v1.8h-1.8zM464.9 194.1h1.8v1.8h-1.8zM468.7 218h1.8v1.8h-1.8zM479.6 206.3h1.8v1.8h-1.8zM504.7 216.4h1.8v1.8h-1.8zM443.2 221.2h1.8v1.8h-1.8zM482.1 210.4h1.8v1.8h-1.8zM457 200h1.8v1.8h-1.8zM468.5 213.1h1.8v1.8h-1.8zM439.6 214.4h1.8v1.8h-1.8zM482.6 204.2h1.8v1.8h-1.8zM481 204h1.8v1.8h-1.8zM476.9 199.8h1.8v1.8h-1.8zM462.1 214.1h1.8v1.8h-1.8zM525.4 201.5h1.8v1.8h-1.8zM475.9 204h1.8v1.8h-1.8zM460.9 207.1h1.8v1.8h-1.8zM515.2 209.4h1.8v1.8h-1.8zM492.5 186.8h1.8v1.8h-1.8zM471.4 211.4h1.8v1.8h-1.8zM504.8 195h1.8v1.8h-1.8zM482.7 203.3h1.8v1.8h-1.8zM493.1 191.8h1.8v1.8h-1.8zM484.4 227.2h1.8v1.8h-1.8zM500.1 205.4h1.8v1.8h-1.8zM482.8 217.8h1.8v1.8h-1.8zM457.7 207.2h1.8v1.8h-1.8zM499.8 198.2h1.8v1.8h-1.8zM471.4 219.2h1.8v1.8h-1.8zM480.3 210.4h1.8v1.8h-1.8zM493.3 190.6h1.8v1.8h-1.8zM482.1 219.6h1.8v1.8h-1.8zM446.7 211.6h1.8v1.8h-1.8zM493 207.1h1.8v1.8h-1.8zM499.4 181.5h1.8v1.8h-1.8zM497.9 206.5h1.8v1.8h-1.8zM513.9 188.4h1.8v1.8h-1.8zM487.1 211.7h1.8v1.8h-1.8zM495.9 211.9h1.8v1.8h-1.8zM513.3 191.5h1.8v1.8h-1.8zM473.1 200.3h1.8v1.8h-1.8zM516.5 218.7h1.8v1.8h-1.8zM516.4 194.8h1.8v1.8h-1.8zM496.1 197.3h1.8v1.8h-1.8zM518.7 207.2h1.8v1.8h-1.8zM497.5 201.4h1.8v1.8h-1.8zM460.5 205.4h1.8v1.8h-1.8zM503.7 207.8h1.8v1.8h-1.8zM486.3 210.9h1.8v1.8h-1.8zM488.2 211.5h1.8v1.8h-1.8zM482.6 208.2h1.8v1.8h-1.8zM508.4 215.7h1.8v1.8h-1.8zM491.1 204.8h1.8v1.8h-1.8zM464.5 222.7h1.8v1.8h-1.8zM489.7 203.8h1.8v1.8h-1.8zM494.9 204.8h1.8v1.8h-1.8zM463.8 218.2h1.8v1.8h-1.8zM470 198.4h1.8v1.8h-1.8zM471.1 187.4h1.8v1.8h-1.8zM466.3 194.1h1.8v1.8h-1.8zM486.8 218.7h1.8v1.8h-1.8zM501.1 190.4h1.8v1.8h-1.8zM519.8 198.7h1.8v1.8h-1.8zM504.9 203.3h1.8v1.8h-1.8zM501.2 209.2h1.8v1.8h-1.8zM503.8 202.9h1.8v1.8h-1.8zM507.9 188.4h1.8v1.8h-1.8zM471.3 201.4h1.8v1.8h-1.8zM494.2 208.2h1.8v1.8h-1.8zM486.2 211.8h1.8v1.8h-1.8zM476.6 210.4h1.8v1.8h-1.8zM469.6 201.2h1.8v1.8h-1.8zM468.5 188.4h1.8v1.8h-1.8zM473.6 217.2h1.8v1.8h-1.8zM452.9 209.1h1.8v1.8h-1.8zM490.5 208.4h1.8v1.8h-1.8zM478.9 213.5h1.8v1.8h-1.8zM481.6 201.6h1.8v1.8h-1.8zM486.6 199.4h1.8v1.8h-1.8zM494.8 218.2h1.8v1.8h-1.8zM466.7 217.9h1.8v1.8h-1.8zM477.1 194.1h1.8v1.8h-1.8zM444.9 206.9h1.8v1.8h-1.8zM437.8 216h1.8v1.8h-1.8zM512.2 205.7h1.8v1.8h-1.8zM489.4 209.6h1.8v1.8h-1.8zM510.9 213.2h1.8v1.8h-1.8zM469.5 207.1h1.8v1.8h-1.8zM514.2 192.5h1.8v1.8h-1.8zM518.8 211.4h1.8v1.8h-1.8zM499.5 192.8h1.8v1.8h-1.8zM530.1 192.6h1.8v1.8h-1.8zM492.6 212.9h1.8v1.8h-1.8zM463.8 207.7h1.8v1.8h-1.8zM490.5 204.9h1.8v1.8h-1.8zM469.9 200.7h1.8v1.8h-1.8zM451.5 202.6h1.8v1.8h-1.8zM452.1 222.3h1.8v1.8h-1.8zM528.9 213.4h1.8v1.8h-1.8zM467.9 196.9h1.8v1.8h-1.8zM478.9 204.8h1.8v1.8h-1.8zM465.3 203.4h1.8v1.8h-1.8zM482.4 202.1h1.8v1.8h-1.8zM474.4 191.1h1.8v1.8h-1.8zM470.8 219.1h1.8v1.8h-1.8zM449.3 217.8h1.8v1.8h-1.8zM463.7 200.5h1.8v1.8h-1.8zM485.8 191.6h1.8v1.8h-1.8zM524 214.3h1.8v1.8h-1.8zM502.1 199h1.8v1.8h-1.8zM518.6 203.9h1.8v1.8h-1.8zM490 207.5h1.8v1.8h-1.8zM477.8 205.6h1.8v1.8h-1.8zM451.3 219.9h1.8v1.8h-1.8zM479.7 215.5h1.8v1.8h-1.8zM473.3 198.1h1.8v1.8h-1.8zM514.5 207.3h1.8v1.8h-1.8zM486.7 219.6h1.8v1.8h-1.8zM503.9 179.6h1.8v1.8h-1.8zM471.6 195.8h1.8v1.8h-1.8zM450.3 205.8h1.8v1.8h-1.8zM469.5 217.4h1.8v1.8h-1.8zM471.3 212.7h1.8v1.8h-1.8zM505.6 200.2h1.8v1.8h-1.8zM522 210.3h1.8v1.8h-1.8zM472.1 205.4h1.8v1.8h-1.8zM476.7 202.3h1.8v1.8h-1.8zM472.4 217h1.8v1.8h-1.8zM453.2 218.2h1.8v1.8h-1.8zM481.8 213.5h1.8v1.8h-1.8zM487.6 202.1h1.8v1.8h-1.8zM488.1 207.5h1.8v1.8h-1.8zM454.1 211.9h1.8v1.8h-1.8zM477.4 203h1.8v1.8h-1.8zM499.4 188.6h1.8v1.8h-1.8zM458.1 210.5h1.8v1.8h-1.8zM474 216.7h1.8v1.8h-1.8zM470.3 207.1h1.8v1.8h-1.8zM467.4 192.7h1.8v1.8h-1.8zM457.3 214.1h1.8v1.8h-1.8zM442.1 209.9h1.8v1.8h-1.8zM517 204.8h1.8v1.8h-1.8zM485.4 201.1h1.8v1.8h-1.8zM485.6 202.5h1.8v1.8h-1.8zM524.8 208.4h1.8v1.8h-1.8zM477.8 208.3h1.8v1.8h-1.8zM491.8 194.9h1.8v1.8h-1.8zM480.4 194.8h1.8v1.8h-1.8zM505.4 193.5h1.8v1.8h-1.8zM490.7 195.9h1.8v1.8h-1.8zM486.7 208.3h1.8v1.8h-1.8zM474.5 210.1h1.8v1.8h-1.8zM486 195.8h1.8v1.8h-1.8zM504.9 214.4h1.8v1.8h-1.8zM435.6 211.8h1.8v1.8h-1.8zM477.2 224.7h1.8v1.8h-1.8zM471.1 210.7h1.8v1.8h-1.8zM473.6 213.6h1.8v1.8h-1.8zM437.8 223h1.8v1.8h-1.8zM495.7 198.1h1.8v1.8h-1.8zM461.9 215.3h1.8v1.8h-1.8zM475.2 210h1.8v1.8h-1.8zM469.3 209.7h1.8v1.8h-1.8zM444.3 217.5h1.8v1.8h-1.8zM470.5 192.8h1.8v1.8h-1.8zM440.6 215.5h1.8v1.8h-1.8zM459.9 206.3h1.8v1.8h-1.8zM473.3 219.6h1.8v1.8h-1.8zM479.9 210.5h1.8v1.8h-1.8zM481.2 208.9h1.8v1.8h-1.8zM477.1 209.2h1.8v1.8h-1.8zM525.8 206h1.8v1.8h-1.8zM489.3 203.2h1.8v1.8h-1.8zM466.9 208.7h1.8v1.8h-1.8zM466 208.9h1.8v1.8h-1.8zM476.2 210.1h1.8v1.8h-1.8zM467.1 182.1h1.8v1.8h-1.8zM515.3 195.9h1.8v1.8h-1.8zM481 198.6h1.8v1.8h-1.8zM472.8 213.7h1.8v1.8h-1.8zM474.6 208h1.8v1.8h-1.8zM475.4 204.2h1.8v1.8h-1.8zM509.8 200.9h1.8v1.8h-1.8zM490.3 213h1.8v1.8h-1.8zM504.1 210.6h1.8v1.8h-1.8zM487 201.8h1.8v1.8h-1.8zM502.7 224h1.8v1.8h-1.8zM522.3 199.7h1.8v1.8h-1.8zM480.7 193h1.8v1.8h-1.8zM443.4 216.7h1.8v1.8h-1.8zM492.7 201.8h1.8v1.8h-1.8zM467.3 221.8h1.8v1.8h-1.8zM466.8 218.5h1.8v1.8h-1.8zM502.7 215.4h1.8v1.8h-1.8zM505.8 205.8h1.8v1.8h-1.8zM495.5 180.3h1.8v1.8h-1.8zM457.7 214.6h1.8v1.8h-1.8zM533.9 211.7h1.8v1.8h-1.8zM455.1 204.2h1.8v1.8h-1.8zM478.4 203.7h1.8v1.8h-1.8zM508.3 214.9h1.8v1.8h-1.8zM489.7 220.4h1.8v1.8h-1.8zM499.1 206.6h1.8v1.8h-1.8zM482.1 201.7h1.8v1.8h-1.8zM478.7 202.4h1.8v1.8h-1.8zM483.9 194.5h1.8v1.8h-1.8zM439.8 225.6h1.8v1.8h-1.8zM501.4 211.3h1.8v1.8h-1.8zM499.7 204.7h1.8v1.8h-1.8zM471.8 198.4h1.8v1.8h-1.8zM479.9 201h1.8v1.8h-1.8zM486.6 209.1h1.8v1.8h-1.8zM513.8 211.8h1.8v1.8h-1.8zM489.4 195.8h1.8v1.8h-1.8zM481.1 196.2h1.8v1.8h-1.8zM469.3 180.1h1.8v1.8h-1.8zM448.1 211.4h1.8v1.8h-1.8zM467.5 191.1h1.8v1.8h-1.8zM481.8 217.6h1.8v1.8h-1.8zM474.9 211.8h1.8v1.8h-1.8zM481.9 212.3h1.8v1.8h-1.8zM496.2 208.4h1.8v1.8h-1.8zM489.6 213.3h1.8v1.8h-1.8zM486.2 210.4h1.8v1.8h-1.8zM494.3 204.5h1.8v1.8h-1.8zM484.3 209.7h1.8v1.8h-1.8zM479.6 199.2h1.8v1.8h-1.8zM490.3 205.3h1.8v1.8h-1.8zM443.4 210.3h1.8v1.8h-1.8zM507.1 187.8h1.8v1.8h-1.8zM452.7 206h1.8v1.8h-1.8zM498.2 202h1.8v1.8h-1.8zM480.6 205.9h1.8v1.8h-1.8zM504 202.2h1.8v1.8h-1.8zM481.1 199.9h1.8v1.8h-1.8zM460.2 216.2h1.8v1.8h-1.8zM503.3 191.5h1.8v1.8h-1.8zM484.3 189.6h1.8v1.8h-1.8zM482.9 193.9h1.8v1.8h-1.8zM482.1 210.4h1.8v1.8h-1.8zM501.8 218.9h1.8v1.8h-1.8zM497.9 207.9h1.8v1.8h-1.8zM485.3 203.6h1.8v1.8h-1.8zM471.8 208.6h1.8v1.8h-1.8zM482.7 208.4h1.8v1.8h-1.8zM518.8 185.9h1.8v1.8h-1.8zM488.7 211.3h1.8v1.8h-1.8zM478.5 195.3h1.8v1.8h-1.8zM506 193.6h1.8v1.8h-1.8zM478.1 219.2h1.8v1.8h-1.8zM479.9 203h1.8v1.8h-1.8zM483.8 210.8h1.8v1.8h-1.8zM448.4 219h1.8v1.8h-1.8zM501 221.6h1.8v1.8h-1.8zM489.6 220.1h1.8v1.8h-1.8zM474.4 202.3h1.8v1.8h-1.8zM456.1 212.5h1.8v1.8h-1.8zM485.1 202.4h1.8v1.8h-1.8zM510.4 212.6h1.8v1.8h-1.8zM466.8 210.6h1.8v1.8h-1.8zM457.8 211.2h1.8v1.8h-1.8zM489.5 219.9h1.8v1.8h-1.8zM446.4 226.4h1.8v1.8h-1.8zM471 205.4h1.8v1.8h-1.8zM465.8 216.8h1.8v1.8h-1.8zM474.6 207.4h1.8v1.8h-1.8zM468.7 200.5h1.8v1.8h-1.8zM487.6 186.6h1.8v1.8h-1.8zM475.8 215.1h1.8v1.8h-1.8zM467.7 201.1h1.8v1.8h-1.8zM470.8 185.8h1.8v1.8h-1.8zM494.1 203.4h1.8v1.8h-1.8zM501.1 188.6h1.8v1.8h-1.8zM499.9 229h1.8v1.8h-1.8zM495.5 189.4h1.8v1.8h-1.8zM410 214.4h1.8v1.8h-1.8zM459.1 227h1.8v1.8h-1.8zM473.8 198.7h1.8v1.8h-1.8zM485 194.7h1.8v1.8h-1.8zM511 190h1.8v1.8h-1.8zM487.1 205.2h1.8v1.8h-1.8zM467.3 214.7h1.8v1.8h-1.8zM484.1 209.8h1.8v1.8h-1.8zM473.2 206.9h1.8v1.8h-1.8zM464.4 203.6h1.8v1.8h-1.8zM491.4 209.1h1.8v1.8h-1.8zM470.9 206.4h1.8v1.8h-1.8zM467 204.1h1.8v1.8h-1.8zM478.2 183.1h1.8v1.8h-1.8zM507.6 213.8h1.8v1.8h-1.8zM457.3 214.2h1.8v1.8h-1.8zM518.2 214.1h1.8v1.8h-1.8zM499.8 214.9h1.8v1.8h-1.8zM460.5 202.7h1.8v1.8h-1.8zM483.4 215.2h1.8v1.8h-1.8zM505.9 213h1.8v1.8h-1.8zM476.6 208.9h1.8v1.8h-1.8zM455.2 200.8h1.8v1.8h-1.8zM483.1 208.9h1.8v1.8h-1.8zM523.2 204h1.8v1.8h-1.8zM492.6 199.5h1.8v1.8h-1.8zM480.9 201.1h1.8v1.8h-1.8zM478.2 196.5h1.8v1.8h-1.8zM472.4 216.8h1.8v1.8h-1.8zM473.9 204.3h1.8v1.8h-1.8zM502.9 209.3h1.8v1.8h-1.8zM493.5 193.9h1.8v1.8h-1.8zM459.4 200.1h1.8v1.8h-1.8zM514.1 212h1.8v1.8h-1.8zM453 195.7h1.8v1.8h-1.8zM495 215.6h1.8v1.8h-1.8zM484.7 193.5h1.8v1.8h-1.8zM506.4 200.5h1.8v1.8h-1.8zM488.4 213.4h1.8v1.8h-1.8zM503.4 214h1.8v1.8h-1.8zM480.3 208.7h1.8v1.8h-1.8zM501.6 203.3h1.8v1.8h-1.8zM488.2 211.8h1.8v1.8h-1.8zM526.8 194.4h1.8v1.8h-1.8zM466 221.4h1.8v1.8h-1.8zM506.4 202.6h1.8v1.8h-1.8zM490.8 204.4h1.8v1.8h-1.8zM484.6 223.9h1.8v1.8h-1.8zM468.8 204h1.8v1.8h-1.8zM490.4 217.1h1.8v1.8h-1.8zM449.4 234.4h1.8v1.8h-1.8zM451.6 215.4h1.8v1.8h-1.8zM496.1 206.1h1.8v1.8h-1.8zM511.6 206.7h1.8v1.8h-1.8zM475 191.6h1.8v1.8h-1.8zM486.2 190.6h1.8v1.8h-1.8zM482.5 194.5h1.8v1.8h-1.8zM489.9 191.3h1.8v1.8h-1.8zM475 202.9h1.8v1.8h-1.8zM473.1 212.2h1.8v1.8h-1.8zM478.2 199.5h1.8v1.8h-1.8zM503.4 193.2h1.8v1.8h-1.8zM505.2 200.3h1.8v1.8h-1.8zM508.2 204.8h1.8v1.8h-1.8zM488.8 220.4h1.8v1.8h-1.8zM476.7 199.4h1.8v1.8h-1.8zM445 206.5h1.8v1.8h-1.8zM494.7 217h1.8v1.8h-1.8zM498.9 202.4h1.8v1.8h-1.8zM472.3 199.5h1.8v1.8h-1.8zM498.2 204.6h1.8v1.8h-1.8zM508.5 194.4h1.8v1.8h-1.8zM483 197.8h1.8v1.8h-1.8zM503.6 217.6h1.8v1.8h-1.8zM487.5 207.8h1.8v1.8h-1.8zM443.9 205.3h1.8v1.8h-1.8zM470.9 197.7h1.8v1.8h-1.8zM472.2 192.6h1.8v1.8h-1.8zM492.3 223.4h1.8v1.8h-1.8zM462.5 208.6h1.8v1.8h-1.8zM471.6 199.6h1.8v1.8h-1.8zM460.4 195.9h1.8v1.8h-1.8zM480.1 188.8h1.8v1.8h-1.8zM482.5 214.8h1.8v1.8h-1.8zM501.8 206.8h1.8v1.8h-1.8zM498 214.1h1.8v1.8h-1.8zM484.5 197h1.8v1.8h-1.8zM486.1 218.3h1.8v1.8h-1.8zM483.3 193.5h1.8v1.8h-1.8zM483.4 196h1.8v1.8h-1.8zM514.1 196.7h1.8v1.8h-1.8zM427.8 233.9h1.8v1.8h-1.8zM477.2 212.9h1.8v1.8h-1.8zM487.7 197.3h1.8v1.8h-1.8zM505.1 216.9h1.8v1.8h-1.8zM457.6 210.9h1.8v1.8h-1.8zM488.4 205.8h1.8v1.8h-1.8zM499.4 194.5h1.8v1.8h-1.8zM471.5 204h1.8v1.8h-1.8zM473.3 211h1.8v1.8h-1.8zM455.3 208.7h1.8v1.8h-1.8zM494.9 205.3h1.8v1.8h-1.8zM462.8 200.6h1.8v1.8h-1.8zM519.1 202.8h1.8v1.8h-1.8zM484 194.9h1.8v1.8h-1.8zM463.8 224.8h1.8v1.8h-1.8zM470.2 194.9h1.8v1.8h-1.8zM457.6 210.2h1.8v1.8h-1.8zM489.3 193.3h1.8v1.8h-1.8zM512.9 200.9h1.8v1.8h-1.8zM476.4 197.6h1.8v1.8h-1.8zM500.8 188.2h1.8v1.8h-1.8zM460.8 213.7h1.8v1.8h-1.8zM487.6 204h1.8v1.8h-1.8zM530.2 201.3h1.8v1.8h-1.8zM450.9 207.2h1.8v1.8h-1.8zM507.3 218.7h1.8v1.8h-1.8zM506.1 204.3h1.8v1.8h-1.8zM440.8 213.1h1.8v1.8h-1.8zM450.3 217.3h1.8v1.8h-1.8zM460.1 210.2h1.8v1.8h-1.8zM501.7 218.6h1.8v1.8h-1.8zM471.8 192.8h1.8v1.8h-1.8zM477.4 201.6h1.8v1.8h-1.8zM496.1 184.9h1.8v1.8h-1.8zM483.5 214.1h1.8v1.8h-1.8zM485.8 216.8h1.8v1.8h-1.8zM474.1 203.7h1.8v1.8h-1.8zM505 219.4h1.8v1.8h-1.8zM464.3 205.4h1.8v1.8h-1.8zM516.8 208.3h1.8v1.8h-1.8zM473.7 209.9h1.8v1.8h-1.8zM463.9 205.2h1.8v1.8h-1.8zM494.8 203.5h1.8v1.8h-1.8zM490.6 185.8h1.8v1.8h-1.8zM485.7 218.1h1.8v1.8h-1.8zM463.2 221.3h1.8v1.8h-1.8zM497.8 202.8h1.8v1.8h-1.8zM462.5 220.5h1.8v1.8h-1.8zM488.5 213.1h1.8v1.8h-1.8zM472.8 193.5h1.8v1.8h-1.8zM522.2 206.2h1.8v1.8h-1.8zM478.8 212.4h1.8v1.8h-1.8zM455.8 214.4h1.8v1.8h-1.8zM457.3 211.7h1.8v1.8h-1.8zM483.6 217.2h1.8v1.8h-1.8zM480.8 218.1h1.8v1.8h-1.8zM501.6 197.4h1.8v1.8h-1.8zM484.4 221.3h1.8v1.8h-1.8zM483.6 209.1h1.8v1.8h-1.8zM487.7 193.5h1.8v1.8h-1.8zM478 206.1h1.8v1.8h-1.8zM487 209.8h1.8v1.8h-1.8zM497.5 210.8h1.8v1.8h-1.8zM497.5 212.9h1.8v1.8h-1.8zM469.1 213.1h1.8v1.8h-1.8zM442.9 209h1.8v1.8h-1.8zM463.5 195.4h1.8v1.8h-1.8zM486.8 195.4h1.8v1.8h-1.8zM470.5 214.4h1.8v1.8h-1.8zM490.3 197.7h1.8v1.8h-1.8zM468.6 225.5h1.8v1.8h-1.8zM456.8 213.1h1.8v1.8h-1.8zM518.2 204.5h1.8v1.8h-1.8zM510.3 213.3h1.8v1.8h-1.8zM475.1 216.5h1.8v1.8h-1.8zM508.9 198.9h1.8v1.8h-1.8zM508.4 219h1.8v1.8h-1.8zM456.5 218h1.8v1.8h-1.8zM537.9 205.4h1.8v1.8h-1.8zM460.6 207.5h1.8v1.8h-1.8zM475 220.3h1.8v1.8h-1.8zM457.2 197.9h1.8v1.8h-1.8zM482.2 208.8h1.8v1.8h-1.8zM452.4 212h1.8v1.8h-1.8zM480.4 209.6h1.8v1.8h-1.8zM503.7 209.9h1.8v1.8h-1.8zM485.1 215.2h1.8v1.8h-1.8zM474.9 195.2h1.8v1.8h-1.8zM513.6 199.9h1.8v1.8h-1.8zM461.3 209.4h1.8v1.8h-1.8zM501.2 193.5h1.8v1.8h-1.8zM474 213.9h1.8v1.8h-1.8zM485.1 199.2h1.8v1.8h-1.8zM481.1 205.7h1.8v1.8h-1.8zM483.2 214.6h1.8v1.8h-1.8zM479.3 198.6h1.8v1.8h-1.8zM463.7 223.1h1.8v1.8h-1.8zM468.3 201h1.8v1.8h-1.8zM489.8 213.8h1.8v1.8h-1.8zM478.1 202.3h1.8v1.8h-1.8zM465.3 202.3h1.8v1.8h-1.8zM465.5 214h1.8v1.8h-1.8zM479.2 206.6h1.8v1.8h-1.8zM484.1 209.3h1.8v1.8h-1.8zM482.2 217.6h1.8v1.8h-1.8zM466.3 218.9h1.8v1.8h-1.8zM480.6 205.7h1.8v1.8h-1.8zM451 204.4h1.8v1.8h-1.8zM418.6 231.4h1.8v1.8h-1.8zM479 207.1h1.8v1.8h-1.8zM459.9 207.6h1.8v1.8h-1.8zM454.4 219.4h1.8v1.8h-1.8zM493.6 194.3h1.8v1.8h-1.8zM454.2 221.6h1.8v1.8h-1.8zM486 199.1h1.8v1.8h-1.8zM469.6 191.6h1.8v1.8h-1.8zM453.6 229.9h1.8v1.8h-1.8zM446.3 207.9h1.8v1.8h-1.8zM489.9 202h1.8v1.8h-1.8zM488.2 203h1.8v1.8h-1.8zM496.5 212h1.8v1.8h-1.8zM519.1 204.6h1.8v1.8h-1.8zM485.7 219.6h1.8v1.8h-1.8zM485.9 204.3h1.8v1.8h-1.8zM477.2 201.3h1.8v1.8h-1.8zM482.1 212.7h1.8v1.8h-1.8zM472.3 216.5h1.8v1.8h-1.8zM460.7 213.4h1.8v1.8h-1.8zM522.4 201.3h1.8v1.8h-1.8zM439.9 210.7h1.8v1.8h-1.8zM485.1 206.8h1.8v1.8h-1.8zM489.2 204.6h1.8v1.8h-1.8zM482.9 219.1h1.8v1.8h-1.8zM459.1 236.1h1.8v1.8h-1.8zM475.5 200.8h1.8v1.8h-1.8zM469.8 193.5h1.8v1.8h-1.8zM456.6 223.4h1.8v1.8h-1.8zM478.6 213.2h1.8v1.8h-1.8zM470.8 204.5h1.8v1.8h-1.8zM467.7 198.4h1.8v1.8h-1.8zM494.1 198.2h1.8v1.8h-1.8zM488.9 205.9h1.8v1.8h-1.8zM466.4 204h1.8v1.8h-1.8zM488.5 201.3h1.8v1.8h-1.8zM480.9 210.6h1.8v1.8h-1.8zM484.5 193.9h1.8v1.8h-1.8zM458.4 202.9h1.8v1.8h-1.8zM462.8 198.8h1.8v1.8h-1.8zM461 212.6h1.8v1.8h-1.8zM483 195.8h1.8v1.8h-1.8zM495.2 215.1h1.8v1.8h-1.8zM502.3 199.8h1.8v1.8h-1.8zM468.6 233.8h1.8v1.8h-1.8zM481.1 216.4h1.8v1.8h-1.8zM431.9 216.8h1.8v1.8h-1.8zM460.7 207.1h1.8v1.8h-1.8zM465 224.4h1.8v1.8h-1.8zM446 195.2h1.8v1.8h-1.8zM490.5 205.4h1.8v1.8h-1.8zM462 204.5h1.8v1.8h-1.8zM443.2 207.7h1.8v1.8h-1.8zM528.6 186.4h1.8v1.8h-1.8zM482.7 204h1.8v1.8h-1.8zM472.3 222h1.8v1.8h-1.8zM493.5 207.3h1.8v1.8h-1.8zM462.8 195.8h1.8v1.8h-1.8zM512.8 196.8h1.8v1.8h-1.8zM446.1 214.8h1.8v1.8h-1.8zM451.1 203.9h1.8v1.8h-1.8zM476 205.8h1.8v1.8h-1.8zM462.6 202.5h1.8v1.8h-1.8zM509 218.7h1.8v1.8h-1.8zM444.7 219.7h1.8v1.8h-1.8zM463.3 201.9h1.8v1.8h-1.8zM483.9 208.2h1.8v1.8h-1.8zM490.8 201.6h1.8v1.8h-1.8zM500.1 184.6h1.8v1.8h-1.8zM486.1 208.8h1.8v1.8h-1.8zM525.7 198.5h1.8v1.8h-1.8zM468.6 213.4h1.8v1.8h-1.8zM482.4 212.4h1.8v1.8h-1.8zM496.9 205.1h1.8v1.8h-1.8zM471.9 221.9h1.8v1.8h-1.8zM472.4 228.3h1.8v1.8h-1.8zM468.7 194.3h1.8v1.8h-1.8zM464.9 209.3h1.8v1.8h-1.8zM466.8 206.9h1.8v1.8h-1.8zM445.5 209.2h1.8v1.8h-1.8zM486.6 199h1.8v1.8h-1.8zM522.5 213.2h1.8v1.8h-1.8zM514.7 190.2h1.8v1.8h-1.8zM502 213.4h1.8v1.8h-1.8zM474 205.2h1.8v1.8h-1.8zM504.5 202.7h1.8v1.8h-1.8zM482.3 189.6h1.8v1.8h-1.8zM490.3 208.6h1.8v1.8h-1.8zM463.1 202.4h1.8v1.8h-1.8zM501.1 203.4h1.8v1.8h-1.8zM461.3 204.6h1.8v1.8h-1.8zM480.6 214.9h1.8v1.8h-1.8zM441.5 220.3h1.8v1.8h-1.8zM464.4 205h1.8v1.8h-1.8zM489 220.8h1.8v1.8h-1.8zM468.7 216.2h1.8v1.8h-1.8zM468.8 201.5h1.8v1.8h-1.8zM495.1 210.7h1.8v1.8h-1.8zM476.7 215.7h1.8v1.8h-1.8zM504.7 214.4h1.8v1.8h-1.8zM490.4 208.8h1.8v1.8h-1.8zM489.1 203.9h1.8v1.8h-1.8zM445.4 212.6h1.8v1.8h-1.8zM450.6 191.7h1.8v1.8h-1.8zM496.9 208.7h1.8v1.8h-1.8zM455.5 228.8h1.8v1.8h-1.8zM464.7 207.2h1.8v1.8h-1.8zM491 205.1h1.8v1.8h-1.8zM471.2 206h1.8v1.8h-1.8zM488.4 221.3h1.8v1.8h-1.8zM459.7 197.7h1.8v1.8h-1.8zM484.5 206.2h1.8v1.8h-1.8zM501.3 204.3h1.8v1.8h-1.8zM485.1 221.5h1.8v1.8h-1.8zM492.1 205.6h1.8v1.8h-1.8zM479.4 193.1h1.8v1.8h-1.8zM458.9 213.1h1.8v1.8h-1.8zM507.9 215.3h1.8v1.8h-1.8zM441.1 209.9h1.8v1.8h-1.8zM518.1 210.8h1.8v1.8h-1.8zM464.7 204.2h1.8v1.8h-1.8zM511.7 213.3h1.8v1.8h-1.8zM477.2 208.1h1.8v1.8h-1.8zM449.9 212.4h1.8v1.8h-1.8zM480.2 206.8h1.8v1.8h-1.8zM485.2 210.9h1.8v1.8h-1.8zM489.7 213.3h1.8v1.8h-1.8zM500.8 204.5h1.8v1.8h-1.8zM459.1 214.7h1.8v1.8h-1.8zM488.7 203.9h1.8v1.8h-1.8zM493.9 207.4h1.8v1.8h-1.8zM472.4 229.5h1.8v1.8h-1.8zM458.2 209.7h1.8v1.8h-1.8zM457.8 195.5h1.8v1.8h-1.8zM494.1 201.7h1.8v1.8h-1.8zM495.2 198.7h1.8v1.8h-1.8zM460.5 204.3h1.8v1.8h-1.8zM449.7 214.8h1.8v1.8h-1.8zM504.5 216.6h1.8v1.8h-1.8zM481.6 195.9h1.8v1.8h-1.8zM461 203.2h1.8v1.8h-1.8zM480.8 202.5h1.8v1.8h-1.8zM474.1 207.4h1.8v1.8h-1.8zM508.8 200.2h1.8v1.8h-1.8zM526.5 200.6h1.8v1.8h-1.8zM474.1 204h1.8v1.8h-1.8zM500 213.3h1.8v1.8h-1.8zM500.4 210.1h1.8v1.8h-1.8zM467 202.5h1.8v1.8h-1.8zM459.7 212.3h1.8v1.8h-1.8zM512.4 226.2h1.8v1.8h-1.8zM470.4 206.4h1.8v1.8h-1.8zM477.6 229.1h1.8v1.8h-1.8zM471.9 188.7h1.8v1.8h-1.8zM475.3 200h1.8v1.8h-1.8zM465.3 201.7h1.8v1.8h-1.8zM494.1 211.2h1.8v1.8h-1.8zM504.9 214.4h1.8v1.8h-1.8zM470.2 209.7h1.8v1.8h-1.8zM448.8 210.1h1.8v1.8h-1.8zM479.2 214h1.8v1.8h-1.8zM446.5 209h1.8v1.8h-1.8zM464.5 201.6h1.8v1.8h-1.8zM504.3 197.6h1.8v1.8h-1.8zM527.5 210.7h1.8v1.8h-1.8zM486.1 226.8h1.8v1.8h-1.8zM455.5 209.4h1.8v1.8h-1.8zM494.7 211h1.8v1.8h-1.8zM510.6 186.6h1.8v1.8h-1.8zM494 201.9h1.8v1.8h-1.8zM442.7 194.9h1.8v1.8h-1.8zM496.3 203.9h1.8v1.8h-1.8zM477.1 204.1h1.8v1.8h-1.8zM465.5 199.8h1.8v1.8h-1.8zM486.9 205.9h1.8v1.8h-1.8zM465.9 212.9h1.8v1.8h-1.8zM437.2 218.9h1.8v1.8h-1.8zM495.3 204.4h1.8v1.8h-1.8zM464.3 214.3h1.8v1.8h-1.8zM456.8 201.4h1.8v1.8h-1.8zM449.8 213.3h1.8v1.8h-1.8zM483.5 191.7h1.8v1.8h-1.8zM461 196.9h1.8v1.8h-1.8zM491.4 216.9h1.8v1.8h-1.8zM472.4 196.7h1.8v1.8h-1.8zM501.1 207.6h1.8v1.8h-1.8zM469.9 194.2h1.8v1.8h-1.8zM464.2 203.2h1.8v1.8h-1.8zM454.8 202.8h1.8v1.8h-1.8zM493.5 210h1.8v1.8h-1.8zM543.1 195.3h1.8v1.8h-1.8zM451.5 206h1.8v1.8h-1.8zM456.1 210.6h1.8v1.8h-1.8zM485.3 201.8h1.8v1.8h-1.8zM488.3 214.9h1.8v1.8h-1.8zM463.7 202.8h1.8v1.8h-1.8zM479.8 218h1.8v1.8h-1.8zM471.8 202.6h1.8v1.8h-1.8zM497.3 197.2h1.8v1.8h-1.8zM512.9 207.5h1.8v1.8h-1.8zM472.6 209.2h1.8v1.8h-1.8zM487.8 203.7h1.8v1.8h-1.8zM501.7 210.8h1.8v1.8h-1.8zM488.5 191.3h1.8v1.8h-1.8zM462.2 212.8h1.8v1.8h-1.8zM485.7 195.8h1.8v1.8h-1.8zM498.8 212.9h1.8v1.8h-1.8zM463 205.2h1.8v1.8h-1.8zM449.7 213.4h1.8v1.8h-1.8zM489 196h1.8v1.8h-1.8zM486 208.1h1.8v1.8h-1.8zM498.7 212.1h1.8v1.8h-1.8zM480.1 201.7h1.8v1.8h-1.8zM464.5 219.4h1.8v1.8h-1.8zM468.9 216.6h1.8v1.8h-1.8zM456.3 201.5h1.8v1.8h-1.8zM458.1 226.7h1.8v1.8h-1.8zM466.3 200.4h1.8v1.8h-1.8zM467.9 211.3h1.8v1.8h-1.8zM501.9 212.1h1.8v1.8h-1.8zM452.1 207h1.8v1.8h-1.8zM477.2 200.2h1.8v1.8h-1.8zM465.7 213.3h1.8v1.8h-1.8zM509.9 204h1.8v1.8h-1.8zM483.8 197.8h1.8v1.8h-1.8zM470.3 199.9h1.8v1.8h-1.8zM495.6 204.5h1.8v1.8h-1.8zM479.7 213.4h1.8v1.8h-1.8zM468.1 216.5h1.8v1.8h-1.8zM510.9 207.8h1.8v1.8h-1.8zM493.4 197.7h1.8v1.8h-1.8zM515.1 196h1.8v1.8h-1.8zM502.9 200.2h1.8v1.8h-1.8zM494.8 190.7h1.8v1.8h-1.8zM481.1 208.6h1.8v1.8h-1.8zM455.2 212.5h1.8v1.8h-1.8zM493.4 207.9h1.8v1.8h-1.8zM479.9 187.5h1.8v1.8h-1.8zM492.7 224h1.8v1.8h-1.8zM478.2 203.3h1.8v1.8h-1.8zM463.7 203.5h1.8v1.8h-1.8zM457 208h1.8v1.8h-1.8zM493.2 181.8h1.8v1.8h-1.8zM505.8 191.4h1.8v1.8h-1.8zM472.3 199.3h1.8v1.8h-1.8zM488 213.4h1.8v1.8h-1.8zM507.8 197.6h1.8v1.8h-1.8zM460.7 211.7h1.8v1.8h-1.8zM471.2 206.4h1.8v1.8h-1.8zM454.6 206.9h1.8v1.8h-1.8zM503.5 207.5h1.8v1.8h-1.8zM484 199.2h1.8v1.8h-1.8zM468.6 191.5h1.8v1.8h-1.8zM474.6 204.3h1.8v1.8h-1.8zM499.6 221.8h1.8v1.8h-1.8zM472.2 196.2h1.8v1.8h-1.8zM469.4 196.7h1.8v1.8h-1.8zM492.1 206h1.8v1.8h-1.8zM452.3 213.6h1.8v1.8h-1.8zM479.6 199.4h1.8v1.8h-1.8zM491.2 212h1.8v1.8h-1.8zM461.9 200.2h1.8v1.8h-1.8zM460.9 218.3h1.8v1.8h-1.8zM483.7 214h1.8v1.8h-1.8zM476.4 205.9h1.8v1.8h-1.8zM473.5 220.3h1.8v1.8h-1.8zM482.9 205.2h1.8v1.8h-1.8zM483.2 200.1h1.8v1.8h-1.8zM458.8 220.7h1.8v1.8h-1.8zM464.4 198.7h1.8v1.8h-1.8zM488 210h1.8v1.8h-1.8zM502.3 197.6h1.8v1.8h-1.8zM507.3 200.2h1.8v1.8h-1.8zM460.6 212.3h1.8v1.8h-1.8zM501.8 207.9h1.8v1.8h-1.8zM494.6 220h1.8v1.8h-1.8zM477.9 212.4h1.8v1.8h-1.8zM488.9 211.8h1.8v1.8h-1.8zM496.2 187.9h1.8v1.8h-1.8zM516.5 191.4h1.8v1.8h-1.8zM456.2 221.5h1.8v1.8h-1.8zM491.3 196.5h1.8v1.8h-1.8zM475.6 204h1.8v1.8h-1.8zM474.2 209.9h1.8v1.8h-1.8zM502.9 198.3h1.8v1.8h-1.8zM496 196h1.8v1.8h-1.8zM457.1 213.8h1.8v1.8h-1.8zM472.6 209h1.8v1.8h-1.8zM483.4 203.5h1.8v1.8h-1.8zM448.7 218.7h1.8v1.8h-1.8zM496.9 201.7h1.8v1.8h-1.8zM477 206.6h1.8v1.8h-1.8zM482.1 211.7h1.8v1.8h-1.8zM485.8 212.8h1.8v1.8h-1.8zM516.9 198.1h1.8v1.8h-1.8zM479.4 197.2h1.8v1.8h-1.8zM471.1 203.4h1.8v1.8h-1.8zM515.5 209.3h1.8v1.8h-1.8zM468 199.8h1.8v1.8h-1.8zM467.5 205.4h1.8v1.8h-1.8zM449.3 203.6h1.8v1.8h-1.8zM501.6 191.8h1.8v1.8h-1.8zM484.4 213.5h1.8v1.8h-1.8zM488.7 205.8h1.8v1.8h-1.8zM482.2 210.9h1.8v1.8h-1.8zM475.8 214.3h1.8v1.8h-1.8zM462.2 198.7h1.8v1.8h-1.8zM487.8 221.3h1.8v1.8h-1.8zM481.3 201.3h1.8v1.8h-1.8zM513.2 206.7h1.8v1.8h-1.8zM462.6 196.7h1.8v1.8h-1.8zM468.4 206.1h1.8v1.8h-1.8zM457.1 209.9h1.8v1.8h-1.8zM507.9 200.7h1.8v1.8h-1.8zM452.6 205.2h1.8v1.8h-1.8zM495 203.3h1.8v1.8h-1.8zM509.2 204h1.8v1.8h-1.8zM475.8 207.3h1.8v1.8h-1.8zM494.1 198.9h1.8v1.8h-1.8zM433.7 221.8h1.8v1.8h-1.8zM470.6 206.6h1.8v1.8h-1.8zM443.7 211.1h1.8v1.8h-1.8zM482.4 209.8h1.8v1.8h-1.8zM478.9 198.6h1.8v1.8h-1.8zM462.5 219.8h1.8v1.8h-1.8zM498.7 206.6h1.8v1.8h-1.8zM486.3 212.8h1.8v1.8h-1.8zM467.7 201.8h1.8v1.8h-1.8zM467.9 211.4h1.8v1.8h-1.8zM447.7 209h1.8v1.8h-1.8zM474.8 202.4h1.8v1.8h-1.8zM523.6 215.3h1.8v1.8h-1.8zM463.7 203.2h1.8v1.8h-1.8zM487.7 211.6h1.8v1.8h-1.8zM467.2 209.4h1.8v1.8h-1.8zM495.8 204.6h1.8v1.8h-1.8zM488.1 196.8h1.8v1.8h-1.8zM473.9 199.2h1.8v1.8h-1.8zM467.9 205.3h1.8v1.8h-1.8zM504.2 207h1.8v1.8h-1.8zM473.6 211h1.8v1.8h-1.8zM492.1 197.8h1.8v1.8h-1.8zM468.6 191.7h1.8v1.8h-1.8zM487.8 210h1.8v1.8h-1.8zM485.6 202.2h1.8v1.8h-1.8zM466.6 204.7h1.8v1.8h-1.8zM471 206.2h1.8v1.8h-1.8zM484.9 211.9h1.8v1.8h-1.8zM466.3 231.2h1.8v1.8h-1.8zM486.1 209.8h1.8v1.8h-1.8zM474.5 196.1h1.8v1.8h-1.8zM429 209.7h1.8v1.8h-1.8zM475.8 226.9h1.8v1.8h-1.8zM466.2 207.1h1.8v1.8h-1.8zM461.1 225.3h1.8v1.8h-1.8zM487.3 185.7h1.8v1.8h-1.8zM468.5 205.1h1.8v1.8h-1.8zM490.2 215.6h1.8v1.8h-1.8zM501.9 195.2h1.8v1.8h-1.8zM481.9 212.6h1.8v1.8h-1.8zM463.4 207.3h1.8v1.8h-1.8zM498.1 214.4h1.8v1.8h-1.8zM473.4 200h1.8v1.8h-1.8zM461.8 220.4h1.8v1.8h-1.8zM476.9 193.1h1.8v1.8h-1.8zM489.5 203.7h1.8v1.8h-1.8zM484.3 214.7h1.8v1.8h-1.8zM492.5 221.1h1.8v1.8h-1.8zM461.4 192.4h1.8v1.8h-1.8zM473.1 192.5h1.8v1.8h-1.8zM473.5 218.2h1.8v1.8h-1.8zM478.4 190h1.8v1.8h-1.8zM473.9 208.3h1.8v1.8h-1.8zM450.5 209.9h1.8v1.8h-1.8zM508.3 204.5h1.8v1.8h-1.8zM511.8 188h1.8v1.8h-1.8zM514.4 199.8h1.8v1.8h-1.8zM496 220.9h1.8v1.8h-1.8zM499.2 194.7h1.8v1.8h-1.8zM474.7 216.4h1.8v1.8h-1.8zM491.8 207.4h1.8v1.8h-1.8zM459.8 216.5h1.8v1.8h-1.8zM466.5 206.7h1.8v1.8h-1.8zM488.8 200.6h1.8v1.8h-1.8zM516.4 198.7h1.8v1.8h-1.8zM478.4 211.3h1.8v1.8h-1.8zM526.6 207.3h1.8v1.8h-1.8zM537.2 190.4h1.8v1.8h-1.8zM451.8 209.9h1.8v1.8h-1.8zM478.4 184.3h1.8v1.8h-1.8zM458.8 215.7h1.8v1.8h-1.8zM476 198.5h1.8v1.8h-1.8zM467.7 206.5h1.8v1.8h-1.8zM477.5 213h1.8v1.8h-1.8zM499.4 190.2h1.8v1.8h-1.8zM498.8 202h1.8v1.8h-1.8zM484.5 213.4h1.8v1.8h-1.8zM479 208.6h1.8v1.8h-1.8zM481.5 195.6h1.8v1.8h-1.8zM481.7 216.9h1.8v1.8h-1.8zM491.1 191h1.8v1.8h-1.8zM479.1 199.1h1.8v1.8h-1.8zM489.6 206.9h1.8v1.8h-1.8zM495.8 186.9h1.8v1.8h-1.8zM515.9 195.4h1.8v1.8h-1.8zM482.9 203.5h1.8v1.8h-1.8zM507.6 187.9h1.8v1.8h-1.8zM472.1 215.2h1.8v1.8h-1.8zM474.4 208.2h1.8v1.8h-1.8zM491.8 207.9h1.8v1.8h-1.8zM487.2 218.8h1.8v1.8h-1.8zM505.3 193.8h1.8v1.8h-1.8zM492.2 203.2h1.8v1.8h-1.8zM481.7 204.3h1.8v1.8h-1.8zM455.5 213.8h1.8v1.8h-1.8zM482.8 205.6h1.8v1.8h-1.8zM493.4 201.2h1.8v1.8h-1.8zM457.3 212.3h1.8v1.8h-1.8zM466.1 208.2h1.8v1.8h-1.8zM489 197.1h1.8v1.8h-1.8zM437.9 197.9h1.8v1.8h-1.8zM474.2 213.3h1.8v1.8h-1.8zM484.4 203h1.8v1.8h-1.8zM468.9 220.4h1.8v1.8h-1.8zM479.5 212.2h1.8v1.8h-1.8zM492.9 196.8h1.8v1.8h-1.8zM476.9 201h1.8v1.8h-1.8zM484.7 187.3h1.8v1.8h-1.8zM492.6 190.1h1.8v1.8h-1.8zM467.9 200.1h1.8v1.8h-1.8zM496.6 210h1.8v1.8h-1.8zM505.4 216.1h1.8v1.8h-1.8zM487.5 204.8h1.8v1.8h-1.8zM507.2 205.5h1.8v1.8h-1.8zM465.8 213.4h1.8v1.8h-1.8zM498.5 206h1.8v1.8h-1.8zM484.8 220.7h1.8v1.8h-1.8zM477.4 216.7h1.8v1.8h-1.8zM467.9 213.4h1.8v1.8h-1.8zM467.4 201.5h1.8v1.8h-1.8zM480.9 220.9h1.8v1.8h-1.8zM501.6 194h1.8v1.8h-1.8zM472.4 197.4h1.8v1.8h-1.8zM481.7 208.2h1.8v1.8h-1.8zM448 219.7h1.8v1.8h-1.8zM481.3 209.8h1.8v1.8h-1.8zM503.5 220.3h1.8v1.8h-1.8zM496.2 190.2h1.8v1.8h-1.8zM489.1 203.8h1.8v1.8h-1.8zM467.9 214h1.8v1.8h-1.8zM458.4 216.8h1.8v1.8h-1.8zM477.1 200.3h1.8v1.8h-1.8zM453 221h1.8v1.8h-1.8zM499 208.6h1.8v1.8h-1.8zM459.7 224.8h1.8v1.8h-1.8zM517.1 194.4h1.8v1.8h-1.8zM448.8 207.8h1.8v1.8h-1.8zM488.2 182.8h1.8v1.8h-1.8zM454.3 209.8h1.8v1.8h-1.8zM482.8 209.3h1.8v1.8h-1.8zM457.1 215.1h1.8v1.8h-1.8zM480 197.3h1.8v1.8h-1.8zM475.8 221.6h1.8v1.8h-1.8zM469.5 199.5h1.8v1.8h-1.8zM489.9 201.9h1.8v1.8h-1.8zM515.8 196.7h1.8v1.8h-1.8zM505.5 210.3h1.8v1.8h-1.8zM556.4 200.3h1.8v1.8h-1.8zM577.4 174h1.8v1.8h-1.8zM517.4 162.4h1.8v1.8h-1.8zM542.8 206.1h1.8v1.8h-1.8zM574.4 221.9h1.8v1.8h-1.8zM512.8 189.9h1.8v1.8h-1.8zM522.4 201.4h1.8v1.8h-1.8zM497.2 202.5h1.8v1.8h-1.8zM525.1 181.4h1.8v1.8h-1.8zM526.8 198.5h1.8v1.8h-1.8zM518.1 220.8h1.8v1.8h-1.8zM509.7 231.8h1.8v1.8h-1.8zM487.7 207h1.8v1.8h-1.8zM493.9 222.5h1.8v1.8h-1.8zM503.5 199.2h1.8v1.8h-1.8zM545.7 215.3h1.8v1.8h-1.8zM515.7 206.7h1.8v1.8h-1.8zM506.7 224.9h1.8v1.8h-1.8zM546.1 201.6h1.8v1.8h-1.8zM543.7 203.3h1.8v1.8h-1.8zM509.3 193.6h1.8v1.8h-1.8zM512.6 181.9h1.8v1.8h-1.8zM546.2 198.9h1.8v1.8h-1.8zM538.5 210.4h1.8v1.8h-1.8zM507.1 173.7h1.8v1.8h-1.8zM535.3 192.6h1.8v1.8h-1.8zM528.2 190.1h1.8v1.8h-1.8zM558.1 185h1.8v1.8h-1.8zM506.3 181.3h1.8v1.8h-1.8zM552.1 180.1h1.8v1.8h-1.8zM540.3 187.1h1.8v1.8h-1.8zM502.6 192.2h1.8v1.8h-1.8zM556.6 207.2h1.8v1.8h-1.8zM552.8 204.1h1.8v1.8h-1.8zM494.4 206.6h1.8v1.8h-1.8zM580.9 188.8h1.8v1.8h-1.8zM498.9 204h1.8v1.8h-1.8zM504.9 198.6h1.8v1.8h-1.8zM520.5 200.2h1.8v1.8h-1.8zM549.2 202h1.8v1.8h-1.8zM544.3 220.8h1.8v1.8h-1.8zM526.5 187h1.8v1.8h-1.8zM564.8 184.2h1.8v1.8h-1.8zM539.6 210.4h1.8v1.8h-1.8zM565.6 185.4h1.8v1.8h-1.8zM603 180.5h1.8v1.8h-1.8zM534.1 197.1h1.8v1.8h-1.8zM461.3 238.2h1.8v1.8h-1.8zM517.1 219.2h1.8v1.8h-1.8zM500.7 213h1.8v1.8h-1.8zM531.4 174.5h1.8v1.8h-1.8zM531.5 211.5h1.8v1.8h-1.8zM496.6 209.8h1.8v1.8h-1.8zM498.6 220.9h1.8v1.8h-1.8zM522 207.7h1.8v1.8h-1.8zM523.8 194.9h1.8v1.8h-1.8zM460.2 241.9h1.8v1.8h-1.8zM554.7 237.2h1.8v1.8h-1.8zM529.8 189.1h1.8v1.8h-1.8zM528.7 198.6h1.8v1.8h-1.8zM536.8 206.8h1.8v1.8h-1.8zM501.9 189.3h1.8v1.8h-1.8zM527.6 184.8h1.8v1.8h-1.8zM556.5 225.8h1.8v1.8h-1.8zM557.5 196.7h1.8v1.8h-1.8zM541.2 180.4h1.8v1.8h-1.8zM521.6 210.4h1.8v1.8h-1.8zM507.2 207.5h1.8v1.8h-1.8zM564 178.8h1.8v1.8h-1.8zM542.9 200.7h1.8v1.8h-1.8zM517.7 219h1.8v1.8h-1.8zM471.2 219.3h1.8v1.8h-1.8zM505.8 222.9h1.8v1.8h-1.8zM477.6 199.6h1.8v1.8h-1.8zM562.2 219.2h1.8v1.8h-1.8zM534 183.2h1.8v1.8h-1.8zM509.1 227.2h1.8v1.8h-1.8zM521.6 199.7h1.8v1.8h-1.8zM598.4 209.2h1.8v1.8h-1.8zM561.5 198.3h1.8v1.8h-1.8zM493 190h1.8v1.8h-1.8zM525.5 182.9h1.8v1.8h-1.8zM496 185.2h1.8v1.8h-1.8zM482.7 208.4h1.8v1.8h-1.8zM533.6 196.7h1.8v1.8h-1.8zM593.8 184.5h1.8v1.8h-1.8zM570.9 182.7h1.8v1.8h-1.8zM530.1 204.9h1.8v1.8h-1.8zM518.9 184.4h1.8v1.8h-1.8zM534.4 193.3h1.8v1.8h-1.8zM556.8 177.2h1.8v1.8h-1.8zM489.6 198.7h1.8v1.8h-1.8zM478.6 197.6h1.8v1.8h-1.8zM579.7 201.4h1.8v1.8h-1.8zM536.5 204.1h1.8v1.8h-1.8zM572.3 211h1.8v1.8h-1.8zM535.4 202.4h1.8v1.8h-1.8zM568.9 194.9h1.8v1.8h-1.8zM512.5 189.4h1.8v1.8h-1.8zM542.4 215.7h1.8v1.8h-1.8zM570.9 143.4h1.8v1.8h-1.8zM556.6 196.2h1.8v1.8h-1.8zM516.5 182.4h1.8v1.8h-1.8zM553.2 179.4h1.8v1.8h-1.8zM511 240h1.8v1.8h-1.8zM490.3 209.7h1.8v1.8h-1.8zM543.2 174.6h1.8v1.8h-1.8zM566.9 229h1.8v1.8h-1.8zM552 183.6h1.8v1.8h-1.8zM494.8 218.7h1.8v1.8h-1.8zM552.6 202.1h1.8v1.8h-1.8zM547.4 192.6h1.8v1.8h-1.8zM516.5 229.2h1.8v1.8h-1.8zM461.4 207.8h1.8v1.8h-1.8zM556.6 204.1h1.8v1.8h-1.8zM553.1 206.2h1.8v1.8h-1.8zM542.5 186.3h1.8v1.8h-1.8zM488.4 200.9h1.8v1.8h-1.8zM556.6 186.1h1.8v1.8h-1.8zM550.9 196.1h1.8v1.8h-1.8zM542.4 207.7h1.8v1.8h-1.8zM522.2 196.4h1.8v1.8h-1.8zM539.7 174.5h1.8v1.8h-1.8zM514.2 198.8h1.8v1.8h-1.8zM520.4 187.2h1.8v1.8h-1.8zM505.3 206.6h1.8v1.8h-1.8zM536 160.1h1.8v1.8h-1.8zM517.6 225.8h1.8v1.8h-1.8zM555 185.9h1.8v1.8h-1.8zM548.6 187.7h1.8v1.8h-1.8zM506.8 199h1.8v1.8h-1.8zM579.2 207.3h1.8v1.8h-1.8zM498.3 221.5h1.8v1.8h-1.8zM541.3 200.6h1.8v1.8h-1.8zM558.6 192.6h1.8v1.8h-1.8zM564 211.4h1.8v1.8h-1.8zM468.6 225.5h1.8v1.8h-1.8zM556.4 186.1h1.8v1.8h-1.8zM562.4 178h1.8v1.8h-1.8zM568.4 200.9h1.8v1.8h-1.8zM468 220.1h1.8v1.8h-1.8zM510.4 213.3h1.8v1.8h-1.8zM526.3 162.5h1.8v1.8h-1.8zM516.8 194h1.8v1.8h-1.8zM565.7 193.9h1.8v1.8h-1.8zM510.4 187.3h1.8v1.8h-1.8zM562.7 159h1.8v1.8h-1.8zM544.4 179h1.8v1.8h-1.8zM489.1 227.5h1.8v1.8h-1.8zM501.8 205.2h1.8v1.8h-1.8zM516.1 207.5h1.8v1.8h-1.8zM531.6 204h1.8v1.8h-1.8zM556.3 212.9h1.8v1.8h-1.8zM524 206h1.8v1.8h-1.8zM553.9 211.3h1.8v1.8h-1.8zM485.7 201.6h1.8v1.8h-1.8zM445.2 213h1.8v1.8h-1.8zM519.7 222.1h1.8v1.8h-1.8zM541.6 222.8h1.8v1.8h-1.8zM519 208.2h1.8v1.8h-1.8zM501.2 194.3h1.8v1.8h-1.8zM540.6 189.9h1.8v1.8h-1.8zM582.1 191.2h1.8v1.8h-1.8zM509 210.2h1.8v1.8h-1.8zM505.7 214.4h1.8v1.8h-1.8zM583 195.1h1.8v1.8h-1.8zM527.9 217.8h1.8v1.8h-1.8zM545.8 202.9h1.8v1.8h-1.8zM562.5 203.6h1.8v1.8h-1.8zM558.6 153.4h1.8v1.8h-1.8zM503.6 193.1h1.8v1.8h-1.8zM555.3 197.7h1.8v1.8h-1.8zM552.2 196.1h1.8v1.8h-1.8zM542.4 198.8h1.8v1.8h-1.8zM556.7 191.7h1.8v1.8h-1.8zM513.5 208.1h1.8v1.8h-1.8zM526.9 199.9h1.8v1.8h-1.8zM514.5 186.4h1.8v1.8h-1.8zM549.8 183.2h1.8v1.8h-1.8zM511 197.8h1.8v1.8h-1.8zM539.8 177.4h1.8v1.8h-1.8zM498.9 201.1h1.8v1.8h-1.8zM525.6 214.7h1.8v1.8h-1.8zM519 227.3h1.8v1.8h-1.8zM525.8 210.3h1.8v1.8h-1.8zM532.6 199.6h1.8v1.8h-1.8zM523.9 194.2h1.8v1.8h-1.8zM522.9 184.2h1.8v1.8h-1.8zM472.1 217.7h1.8v1.8h-1.8zM559.4 206.2h1.8v1.8h-1.8zM511.8 190.7h1.8v1.8h-1.8zM522.2 182.8h1.8v1.8h-1.8zM506.2 210.4h1.8v1.8h-1.8zM556.4 189.5h1.8v1.8h-1.8zM504.1 182.9h1.8v1.8h-1.8zM542.8 192.1h1.8v1.8h-1.8zM561.4 194.6h1.8v1.8h-1.8zM574.2 222.8h1.8v1.8h-1.8zM561.6 173.8h1.8v1.8h-1.8zM546 186.7h1.8v1.8h-1.8zM496.1 203.1h1.8v1.8h-1.8zM564.5 200.2h1.8v1.8h-1.8zM561.7 212.5h1.8v1.8h-1.8zM552 196.9h1.8v1.8h-1.8zM551.1 197.1h1.8v1.8h-1.8zM531.2 182.4h1.8v1.8h-1.8zM514.9 220h1.8v1.8h-1.8zM558.8 172.5h1.8v1.8h-1.8zM564.1 192.8h1.8v1.8h-1.8zM500.6 186.3h1.8v1.8h-1.8zM554.2 209.6h1.8v1.8h-1.8zM535.9 192.9h1.8v1.8h-1.8zM553.5 176.8h1.8v1.8h-1.8zM536.7 196.3h1.8v1.8h-1.8zM559.7 216.2h1.8v1.8h-1.8zM557.3 199.4h1.8v1.8h-1.8zM553.6 187.1h1.8v1.8h-1.8zM491.5 226.8h1.8v1.8h-1.8zM551.9 217.1h1.8v1.8h-1.8zM530.7 195.5h1.8v1.8h-1.8zM498.5 218.8h1.8v1.8h-1.8zM548.7 185.7h1.8v1.8h-1.8zM491.9 223.4h1.8v1.8h-1.8zM553.9 222.6h1.8v1.8h-1.8zM575.7 203h1.8v1.8h-1.8zM515.6 179.2h1.8v1.8h-1.8zM554.6 207.9h1.8v1.8h-1.8zM541.8 197.2h1.8v1.8h-1.8zM547.2 192.5h1.8v1.8h-1.8zM492.5 219.8h1.8v1.8h-1.8zM546.1 180h1.8v1.8h-1.8zM533.2 195.9h1.8v1.8h-1.8zM549.7 189.1h1.8v1.8h-1.8zM529.8 224.4h1.8v1.8h-1.8zM559.5 220.4h1.8v1.8h-1.8zM537.1 239.3h1.8v1.8h-1.8zM548.1 198.9h1.8v1.8h-1.8zM567 196.2h1.8v1.8h-1.8zM534.6 187.5h1.8v1.8h-1.8zM556.8 172.2h1.8v1.8h-1.8zM535.9 201.9h1.8v1.8h-1.8zM543.9 200.8h1.8v1.8h-1.8zM515.4 194.9h1.8v1.8h-1.8zM550.8 172.6h1.8v1.8h-1.8zM563.1 205.8h1.8v1.8h-1.8zM527.5 190.1h1.8v1.8h-1.8zM551.4 199.2h1.8v1.8h-1.8zM541.4 202.2h1.8v1.8h-1.8zM499.7 192.1h1.8v1.8h-1.8zM539.4 209.4h1.8v1.8h-1.8zM565.6 209h1.8v1.8h-1.8zM516.6 191.4h1.8v1.8h-1.8zM481.5 207.8h1.8v1.8h-1.8zM535.4 202.1h1.8v1.8h-1.8zM512.4 204.1h1.8v1.8h-1.8zM581.3 182.8h1.8v1.8h-1.8zM528.8 204.9h1.8v1.8h-1.8zM529.7 187.6h1.8v1.8h-1.8zM512.8 195.8h1.8v1.8h-1.8zM536.7 175.7h1.8v1.8h-1.8zM514.6 182.7h1.8v1.8h-1.8zM505.5 190.4h1.8v1.8h-1.8zM528.2 202.4h1.8v1.8h-1.8zM508 201.1h1.8v1.8h-1.8zM565.6 201.9h1.8v1.8h-1.8zM527.9 202.8h1.8v1.8h-1.8zM511.3 193.9h1.8v1.8h-1.8zM492.6 185.1h1.8v1.8h-1.8zM574.9 211.8h1.8v1.8h-1.8zM473.1 221.2h1.8v1.8h-1.8zM569.2 198.3h1.8v1.8h-1.8zM491.8 220.5h1.8v1.8h-1.8zM532.4 217.7h1.8v1.8h-1.8zM591 196.3h1.8v1.8h-1.8zM472.5 189.5h1.8v1.8h-1.8zM492.9 194.5h1.8v1.8h-1.8zM565.3 192.5h1.8v1.8h-1.8zM534.6 197.8h1.8v1.8h-1.8zM515.2 226.5h1.8v1.8h-1.8zM529.1 188.7h1.8v1.8h-1.8zM503.9 197.1h1.8v1.8h-1.8zM533.2 214.7h1.8v1.8h-1.8zM570.2 189h1.8v1.8h-1.8zM519.6 203.7h1.8v1.8h-1.8zM533.7 206.2h1.8v1.8h-1.8zM562.4 208.3h1.8v1.8h-1.8zM583.5 200h1.8v1.8h-1.8zM514.1 215.9h1.8v1.8h-1.8zM538.1 190.7h1.8v1.8h-1.8zM514.8 196.1h1.8v1.8h-1.8zM512.6 197.2h1.8v1.8h-1.8zM519.2 203.6h1.8v1.8h-1.8zM512.9 208.1h1.8v1.8h-1.8zM476.3 236.1h1.8v1.8h-1.8zM510.3 184.4h1.8v1.8h-1.8zM533.5 193.1h1.8v1.8h-1.8zM562.7 192.4h1.8v1.8h-1.8zM515.7 209.1h1.8v1.8h-1.8zM525.4 203.1h1.8v1.8h-1.8zM547.7 213.7h1.8v1.8h-1.8zM549.9 216.4h1.8v1.8h-1.8zM526.9 201.2h1.8v1.8h-1.8zM528.5 224.1h1.8v1.8h-1.8zM580.4 177.8h1.8v1.8h-1.8zM520.9 183.8h1.8v1.8h-1.8zM486.2 229.8h1.8v1.8h-1.8zM541.6 192.9h1.8v1.8h-1.8zM522.8 197h1.8v1.8h-1.8zM581.4 188.5h1.8v1.8h-1.8zM520.9 194.2h1.8v1.8h-1.8zM551.8 184h1.8v1.8h-1.8zM555.1 181.7h1.8v1.8h-1.8zM574.3 164.5h1.8v1.8h-1.8zM494.7 204.6h1.8v1.8h-1.8zM572.1 178.8h1.8v1.8h-1.8zM530.3 223.2h1.8v1.8h-1.8zM527.1 201.4h1.8v1.8h-1.8zM521.6 218.7h1.8v1.8h-1.8zM519.3 179.9h1.8v1.8h-1.8zM520.7 165.5h1.8v1.8h-1.8zM467.2 201.6h1.8v1.8h-1.8zM543.7 216.1h1.8v1.8h-1.8zM531.6 200.3h1.8v1.8h-1.8zM504.4 202.9h1.8v1.8h-1.8zM528.2 196.3h1.8v1.8h-1.8zM591.8 172h1.8v1.8h-1.8zM540.2 182.9h1.8v1.8h-1.8zM519.5 240.5h1.8v1.8h-1.8zM575.9 170.5h1.8v1.8h-1.8zM508.5 210h1.8v1.8h-1.8zM525.8 208h1.8v1.8h-1.8zM515.1 180.2h1.8v1.8h-1.8zM523.6 204h1.8v1.8h-1.8zM549.6 216.1h1.8v1.8h-1.8zM545.5 216.1h1.8v1.8h-1.8zM510.3 201.4h1.8v1.8h-1.8zM526.4 185.9h1.8v1.8h-1.8zM532.2 176h1.8v1.8h-1.8zM518.9 203.4h1.8v1.8h-1.8zM528.9 206.1h1.8v1.8h-1.8zM510.5 177.9h1.8v1.8h-1.8zM510.2 209.2h1.8v1.8h-1.8zM531.1 176.8h1.8v1.8h-1.8zM502.2 200.1h1.8v1.8h-1.8zM541.1 193.4h1.8v1.8h-1.8zM524.7 203.3h1.8v1.8h-1.8zM505.2 198.7h1.8v1.8h-1.8zM513.4 208.7h1.8v1.8h-1.8zM517 211.3h1.8v1.8h-1.8zM525.6 201.7h1.8v1.8h-1.8zM532.9 208.1h1.8v1.8h-1.8zM524.3 195.3h1.8v1.8h-1.8zM506.6 201.6h1.8v1.8h-1.8zM568.2 196.3h1.8v1.8h-1.8zM554.1 197.8h1.8v1.8h-1.8zM532.8 201.8h1.8v1.8h-1.8zM555.3 168.5h1.8v1.8h-1.8zM538.6 197.6h1.8v1.8h-1.8zM522.9 209h1.8v1.8h-1.8zM532.1 203h1.8v1.8h-1.8zM601.1 176.8h1.8v1.8h-1.8zM556.3 197.4h1.8v1.8h-1.8zM557.7 196.4h1.8v1.8h-1.8zM519.3 204.6h1.8v1.8h-1.8zM545.8 193.7h1.8v1.8h-1.8zM590.1 182.7h1.8v1.8h-1.8zM541.2 190.3h1.8v1.8h-1.8zM558.5 218.5h1.8v1.8h-1.8zM563.4 209.2h1.8v1.8h-1.8zM547 235.4h1.8v1.8h-1.8zM571.9 179.7h1.8v1.8h-1.8zM535.9 181.3h1.8v1.8h-1.8zM543.1 177.2h1.8v1.8h-1.8zM513 199.7h1.8v1.8h-1.8zM600.2 169.6h1.8v1.8h-1.8zM537.9 198.1h1.8v1.8h-1.8zM532.7 200.2h1.8v1.8h-1.8zM566.8 215.7h1.8v1.8h-1.8zM516.8 212.9h1.8v1.8h-1.8zM529.6 207.8h1.8v1.8h-1.8zM508.9 188.8h1.8v1.8h-1.8zM530.4 174h1.8v1.8h-1.8zM519.4 207.7h1.8v1.8h-1.8zM544.2 190.9h1.8v1.8h-1.8zM526.4 195.4h1.8v1.8h-1.8zM513.8 213.3h1.8v1.8h-1.8zM521.9 226.1h1.8v1.8h-1.8zM526.6 210.8h1.8v1.8h-1.8zM516.1 222.8h1.8v1.8h-1.8zM554.7 199.4h1.8v1.8h-1.8zM547.6 198h1.8v1.8h-1.8zM533.6 201h1.8v1.8h-1.8zM498.1 206.9h1.8v1.8h-1.8zM543.5 189.4h1.8v1.8h-1.8zM495.7 218.8h1.8v1.8h-1.8zM534.7 184.8h1.8v1.8h-1.8zM531 223.8h1.8v1.8h-1.8zM514 200.7h1.8v1.8h-1.8zM507.7 196.9h1.8v1.8h-1.8zM511.2 214h1.8v1.8h-1.8zM584.3 213.5h1.8v1.8h-1.8zM522.7 190.6h1.8v1.8h-1.8zM524.2 210h1.8v1.8h-1.8zM555.2 182.9h1.8v1.8h-1.8zM540.9 185.6h1.8v1.8h-1.8zM557.8 194.3h1.8v1.8h-1.8zM497.1 204.6h1.8v1.8h-1.8zM500.8 189.2h1.8v1.8h-1.8zM618.1 178.2h1.8v1.8h-1.8zM528.6 213.2h1.8v1.8h-1.8zM522 197.8h1.8v1.8h-1.8zM534 190h1.8v1.8h-1.8zM556 191.5h1.8v1.8h-1.8zM498.1 201.6h1.8v1.8h-1.8zM537.2 199.9h1.8v1.8h-1.8zM529 200.9h1.8v1.8h-1.8zM547.6 209.9h1.8v1.8h-1.8zM534.3 219.6h1.8v1.8h-1.8zM515.6 184.6h1.8v1.8h-1.8zM506.7 212.5h1.8v1.8h-1.8zM465.1 206.8h1.8v1.8h-1.8zM555.7 217h1.8v1.8h-1.8zM490.8 203.3h1.8v1.8h-1.8zM519 213.2h1.8v1.8h-1.8zM573.8 147.1h1.8v1.8h-1.8zM518.6 216.1h1.8v1.8h-1.8zM545.9 210.6h1.8v1.8h-1.8zM524.1 185.9h1.8v1.8h-1.8zM548.2 178.9h1.8v1.8h-1.8zM530.5 230.3h1.8v1.8h-1.8zM516.2 197.5h1.8v1.8h-1.8zM565.5 179.8h1.8v1.8h-1.8zM522.7 218.5h1.8v1.8h-1.8zM494.3 194.9h1.8v1.8h-1.8zM521 208.4h1.8v1.8h-1.8zM544 211.5h1.8v1.8h-1.8zM500.2 209.3h1.8v1.8h-1.8zM550.5 202.3h1.8v1.8h-1.8zM549.9 216.3h1.8v1.8h-1.8zM585.8 156h1.8v1.8h-1.8zM512.7 208.7h1.8v1.8h-1.8zM547.2 207.2h1.8v1.8h-1.8zM485.5 193.9h1.8v1.8h-1.8zM518.6 202h1.8v1.8h-1.8zM532.5 178.7h1.8v1.8h-1.8zM540.5 201.2h1.8v1.8h-1.8zM528.2 194h1.8v1.8h-1.8zM527.3 198.1h1.8v1.8h-1.8zM513.5 199.3h1.8v1.8h-1.8zM517.9 204.2h1.8v1.8h-1.8zM537.8 199.2h1.8v1.8h-1.8zM544.4 171.5h1.8v1.8h-1.8zM546.6 206.3h1.8v1.8h-1.8zM556 202.7h1.8v1.8h-1.8zM561.1 198.8h1.8v1.8h-1.8zM482.1 198.7h1.8v1.8h-1.8zM515.9 195.4h1.8v1.8h-1.8zM525.4 185.8h1.8v1.8h-1.8zM512.7 221.9h1.8v1.8h-1.8zM557.3 190.4h1.8v1.8h-1.8zM549.4 198.3h1.8v1.8h-1.8zM526.8 203.8h1.8v1.8h-1.8zM532.9 196h1.8v1.8h-1.8zM563 222.6h1.8v1.8h-1.8zM520.5 196.5h1.8v1.8h-1.8zM521.4 198.3h1.8v1.8h-1.8zM553.6 216.2h1.8v1.8h-1.8zM542.1 198.3h1.8v1.8h-1.8zM567.1 169.6h1.8v1.8h-1.8zM539.4 203.1h1.8v1.8h-1.8zM549.4 186.8h1.8v1.8h-1.8zM515.3 204.9h1.8v1.8h-1.8zM504.9 215.3h1.8v1.8h-1.8zM529.4 212.8h1.8v1.8h-1.8zM459.7 216.9h1.8v1.8h-1.8zM540.4 177.9h1.8v1.8h-1.8zM555.3 182.5h1.8v1.8h-1.8zM531.7 209.2h1.8v1.8h-1.8zM523.9 185.2h1.8v1.8h-1.8zM558.3 196h1.8v1.8h-1.8zM528.6 209.5h1.8v1.8h-1.8zM555.5 188.2h1.8v1.8h-1.8zM587.4 202.7h1.8v1.8h-1.8zM548.7 219.1h1.8v1.8h-1.8zM554.4 175.6h1.8v1.8h-1.8zM542.7 223.9h1.8v1.8h-1.8zM536.3 189.8h1.8v1.8h-1.8zM537 220.4h1.8v1.8h-1.8zM531.5 199.1h1.8v1.8h-1.8zM558.2 197.1h1.8v1.8h-1.8zM487.2 212.8h1.8v1.8h-1.8zM522.7 232.7h1.8v1.8h-1.8zM547 197.7h1.8v1.8h-1.8zM507.5 203.4h1.8v1.8h-1.8zM526.9 212.8h1.8v1.8h-1.8zM511.4 203.1h1.8v1.8h-1.8zM541.3 182.3h1.8v1.8h-1.8zM552.4 205.8h1.8v1.8h-1.8zM567.9 188.6h1.8v1.8h-1.8zM542.9 213.8h1.8v1.8h-1.8zM510.8 196.6h1.8v1.8h-1.8zM536.3 188.4h1.8v1.8h-1.8zM544.7 159.7h1.8v1.8h-1.8zM566.8 179.2h1.8v1.8h-1.8zM473.3 202.2h1.8v1.8h-1.8zM539.5 176.4h1.8v1.8h-1.8zM481.7 221.9h1.8v1.8h-1.8zM548.5 179.9h1.8v1.8h-1.8zM541.4 205h1.8v1.8h-1.8zM542.8 205.9h1.8v1.8h-1.8zM553 178.8h1.8v1.8h-1.8zM539.8 193.8h1.8v1.8h-1.8zM512.7 182.3h1.8v1.8h-1.8zM538.9 218.8h1.8v1.8h-1.8zM561.2 189.5h1.8v1.8h-1.8zM526.7 207.2h1.8v1.8h-1.8zM530.4 202.8h1.8v1.8h-1.8zM497.9 232.6h1.8v1.8h-1.8zM560.2 179.9h1.8v1.8h-1.8zM516.4 198.1h1.8v1.8h-1.8zM510.2 216.8h1.8v1.8h-1.8zM518 220.8h1.8v1.8h-1.8zM507.1 215.6h1.8v1.8h-1.8zM523.1 179.4h1.8v1.8h-1.8zM563.2 194.6h1.8v1.8h-1.8zM550.5 200.3h1.8v1.8h-1.8zM567.1 185.2h1.8v1.8h-1.8zM568.7 192h1.8v1.8h-1.8zM506.2 199.5h1.8v1.8h-1.8zM542.3 185.7h1.8v1.8h-1.8zM569.1 187.2h1.8v1.8h-1.8zM590 175.5h1.8v1.8h-1.8zM492.6 222.8h1.8v1.8h-1.8zM492.3 204.3h1.8v1.8h-1.8zM542 201.9h1.8v1.8h-1.8zM520.9 198.8h1.8v1.8h-1.8zM503.6 203.9h1.8v1.8h-1.8zM539.7 206.5h1.8v1.8h-1.8zM509 207.5h1.8v1.8h-1.8zM470.1 195h1.8v1.8h-1.8zM529.1 207h1.8v1.8h-1.8zM532.9 216.5h1.8v1.8h-1.8zM546.4 187.1h1.8v1.8h-1.8zM554.3 180.2h1.8v1.8h-1.8zM534.4 201.9h1.8v1.8h-1.8zM523.4 197.9h1.8v1.8h-1.8zM512.1 214.1h1.8v1.8h-1.8zM486.4 209.1h1.8v1.8h-1.8zM518.1 184.4h1.8v1.8h-1.8zM555.8 182.4h1.8v1.8h-1.8zM546.7 193.6h1.8v1.8h-1.8zM583.5 193.5h1.8v1.8h-1.8zM525.6 223.3h1.8v1.8h-1.8zM482.8 202.1h1.8v1.8h-1.8zM551.3 188.2h1.8v1.8h-1.8zM556.8 178.5h1.8v1.8h-1.8zM498.9 174.3h1.8v1.8h-1.8zM487.2 200.4h1.8v1.8h-1.8zM533.6 183.9h1.8v1.8h-1.8zM548.2 211.9h1.8v1.8h-1.8zM500.2 186h1.8v1.8h-1.8zM520.6 187.4h1.8v1.8h-1.8zM509.2 182.1h1.8v1.8h-1.8zM498.5 194h1.8v1.8h-1.8zM495 197.9h1.8v1.8h-1.8zM533.2 176.3h1.8v1.8h-1.8zM519.7 210h1.8v1.8h-1.8zM511.9 192.2h1.8v1.8h-1.8zM461 194.5h1.8v1.8h-1.8zM575.4 202.2h1.8v1.8h-1.8zM504.7 219.7h1.8v1.8h-1.8zM525.9 192.8h1.8v1.8h-1.8zM499.6 201.9h1.8v1.8h-1.8zM539.4 187.9h1.8v1.8h-1.8zM489.8 195.9h1.8v1.8h-1.8zM531.9 209.4h1.8v1.8h-1.8zM524.5 194.4h1.8v1.8h-1.8zM553.5 177.9h1.8v1.8h-1.8zM500.6 208.7h1.8v1.8h-1.8zM512.4 205.6h1.8v1.8h-1.8zM523.2 216.1h1.8v1.8h-1.8zM584.4 177.1h1.8v1.8h-1.8zM490.7 176.6h1.8v1.8h-1.8zM537 217.2h1.8v1.8h-1.8zM512.2 190.3h1.8v1.8h-1.8zM537.5 183.9h1.8v1.8h-1.8zM546.5 203.7h1.8v1.8h-1.8zM533 203.3h1.8v1.8h-1.8zM536.2 212.6h1.8v1.8h-1.8zM536.7 208.7h1.8v1.8h-1.8zM513.9 198.7h1.8v1.8h-1.8zM523.6 189.9h1.8v1.8h-1.8zM485.8 204.2h1.8v1.8h-1.8zM520 187.5h1.8v1.8h-1.8zM509.1 198.9h1.8v1.8h-1.8zM522.6 216.7h1.8v1.8h-1.8zM548.6 173.9h1.8v1.8h-1.8zM539.3 179.4h1.8v1.8h-1.8zM541.6 206.7h1.8v1.8h-1.8zM558.2 167.5h1.8v1.8h-1.8zM466.7 202.3h1.8v1.8h-1.8zM540.5 194.5h1.8v1.8h-1.8zM528.6 170.5h1.8v1.8h-1.8zM526.6 235.4h1.8v1.8h-1.8zM494.9 227.7h1.8v1.8h-1.8zM543.6 185.5h1.8v1.8h-1.8zM559.3 196.8h1.8v1.8h-1.8zM556.2 207.6h1.8v1.8h-1.8zM526.9 176.7h1.8v1.8h-1.8zM545.9 188.4h1.8v1.8h-1.8zM553.4 212.9h1.8v1.8h-1.8zM577 199.8h1.8v1.8h-1.8zM561.3 180.5h1.8v1.8h-1.8zM532.9 171.6h1.8v1.8h-1.8zM531.6 227.2h1.8v1.8h-1.8zM533.5 193.9h1.8v1.8h-1.8zM535.1 202.9h1.8v1.8h-1.8zM516.1 226.1h1.8v1.8h-1.8zM549.4 197.3h1.8v1.8h-1.8zM511 224.9h1.8v1.8h-1.8zM508.1 209.8h1.8v1.8h-1.8zM538.4 173h1.8v1.8h-1.8zM514.1 193.4h1.8v1.8h-1.8zM522.7 188h1.8v1.8h-1.8zM474.6 198.9h1.8v1.8h-1.8zM549.9 189.5h1.8v1.8h-1.8zM528.9 184.1h1.8v1.8h-1.8zM525.7 215.9h1.8v1.8h-1.8zM541.2 201.4h1.8v1.8h-1.8zM534.6 184.8h1.8v1.8h-1.8zM510.7 212h1.8v1.8h-1.8zM581.7 195.6h1.8v1.8h-1.8zM517.2 182.6h1.8v1.8h-1.8zM554.6 171.4h1.8v1.8h-1.8zM577.1 198.8h1.8v1.8h-1.8zM512.8 212.9h1.8v1.8h-1.8zM531.5 189.2h1.8v1.8h-1.8zM507.6 197.9h1.8v1.8h-1.8zM556.6 203.3h1.8v1.8h-1.8zM520.3 190.9h1.8v1.8h-1.8zM500.2 195h1.8v1.8h-1.8zM563.6 191h1.8v1.8h-1.8zM553.1 151h1.8v1.8h-1.8zM505.7 182.3h1.8v1.8h-1.8zM560.1 180.9h1.8v1.8h-1.8zM534.2 182.3h1.8v1.8h-1.8zM600.3 142.6h1.8v1.8h-1.8zM574 174.3h1.8v1.8h-1.8zM514.5 211.1h1.8v1.8h-1.8zM522 194.6h1.8v1.8h-1.8zM506 201h1.8v1.8h-1.8zM532.5 205.8h1.8v1.8h-1.8zM530.3 194.1h1.8v1.8h-1.8zM548.3 191.1h1.8v1.8h-1.8zM531.3 198.5h1.8v1.8h-1.8zM490.4 211.8h1.8v1.8h-1.8zM507.7 189.6h1.8v1.8h-1.8zM566.1 215.1h1.8v1.8h-1.8zM559.3 180.8h1.8v1.8h-1.8zM524.8 198.7h1.8v1.8h-1.8zM525.4 194.7h1.8v1.8h-1.8zM524.6 233.7h1.8v1.8h-1.8zM529.6 173.4h1.8v1.8h-1.8zM485 231h1.8v1.8h-1.8zM552.5 206.7h1.8v1.8h-1.8zM511.7 191.6h1.8v1.8h-1.8zM532.8 206.3h1.8v1.8h-1.8zM462.7 215.4h1.8v1.8h-1.8zM535.1 229.8h1.8v1.8h-1.8zM564.1 198.5h1.8v1.8h-1.8zM470.3 205h1.8v1.8h-1.8zM568.9 181.3h1.8v1.8h-1.8zM541.4 200.2h1.8v1.8h-1.8zM509.7 198.2h1.8v1.8h-1.8zM487.4 198.8h1.8v1.8h-1.8zM559.5 202.7h1.8v1.8h-1.8zM535.8 207.9h1.8v1.8h-1.8zM544.5 166.6h1.8v1.8h-1.8zM521.9 211.8h1.8v1.8h-1.8zM508.1 183.6h1.8v1.8h-1.8zM551.8 193.1h1.8v1.8h-1.8zM503.9 180.7h1.8v1.8h-1.8zM552.6 203.4h1.8v1.8h-1.8zM485.1 198h1.8v1.8h-1.8zM504.7 197.4h1.8v1.8h-1.8zM490.8 207.9h1.8v1.8h-1.8zM563.4 187.6h1.8v1.8h-1.8zM483 217.2h1.8v1.8h-1.8zM499 204.4h1.8v1.8h-1.8zM546.3 200.9h1.8v1.8h-1.8zM535 185.8h1.8v1.8h-1.8zM586.6 189.5h1.8v1.8h-1.8zM577.4 210.2h1.8v1.8h-1.8zM545.2 200.7h1.8v1.8h-1.8zM547.1 196.4h1.8v1.8h-1.8zM481 219.5h1.8v1.8h-1.8zM505.8 182.5h1.8v1.8h-1.8zM520.3 193.6h1.8v1.8h-1.8zM524.3 186.5h1.8v1.8h-1.8zM492.8 215.5h1.8v1.8h-1.8zM504.5 208.1h1.8v1.8h-1.8zM506.7 187h1.8v1.8h-1.8zM556.9 214.3h1.8v1.8h-1.8zM540.2 190.7h1.8v1.8h-1.8zM520.2 198.2h1.8v1.8h-1.8zM521.7 206.6h1.8v1.8h-1.8zM536.6 195.4h1.8v1.8h-1.8zM510.6 217h1.8v1.8h-1.8zM522 195.9h1.8v1.8h-1.8zM483.7 223.7h1.8v1.8h-1.8zM546.6 213.8h1.8v1.8h-1.8zM554.2 173.1h1.8v1.8h-1.8zM538.5 206.7h1.8v1.8h-1.8zM541.5 227h1.8v1.8h-1.8zM538.6 182.1h1.8v1.8h-1.8zM582.7 200.2h1.8v1.8h-1.8zM494.2 204.9h1.8v1.8h-1.8zM501.4 189.1h1.8v1.8h-1.8zM547.7 189.7h1.8v1.8h-1.8zM557 167.9h1.8v1.8h-1.8zM549.2 196.4h1.8v1.8h-1.8zM551.1 185.4h1.8v1.8h-1.8zM533.9 212h1.8v1.8h-1.8zM489.8 202.4h1.8v1.8h-1.8zM510.3 178.7h1.8v1.8h-1.8zM481.3 198.8h1.8v1.8h-1.8zM518.7 197.4h1.8v1.8h-1.8zM493 233.3h1.8v1.8h-1.8zM531.5 203.2h1.8v1.8h-1.8zM524.4 217.8h1.8v1.8h-1.8zM477.6 195.4h1.8v1.8h-1.8zM548.2 205.6h1.8v1.8h-1.8zM548.9 189.3h1.8v1.8h-1.8zM492.2 219.1h1.8v1.8h-1.8zM532.7 169.6h1.8v1.8h-1.8zM547.8 212.1h1.8v1.8h-1.8zM521.2 197.3h1.8v1.8h-1.8zM551.4 155.4h1.8v1.8h-1.8zM533.8 194h1.8v1.8h-1.8zM557.1 206.1h1.8v1.8h-1.8zM533.7 188.1h1.8v1.8h-1.8zM524.4 184.2h1.8v1.8h-1.8zM542.3 182.9h1.8v1.8h-1.8zM549.5 223.6h1.8v1.8h-1.8zM535.4 193.7h1.8v1.8h-1.8zM516.9 231.5h1.8v1.8h-1.8zM507.9 173.6h1.8v1.8h-1.8zM518.9 198.7h1.8v1.8h-1.8zM513.6 207.5h1.8v1.8h-1.8zM534.1 187.2h1.8v1.8h-1.8zM533.2 190.1h1.8v1.8h-1.8zM526.4 216h1.8v1.8h-1.8zM528.6 174.1h1.8v1.8h-1.8zM533.2 200.9h1.8v1.8h-1.8zM570.1 217h1.8v1.8h-1.8zM560.5 171.9h1.8v1.8h-1.8zM513.4 178h1.8v1.8h-1.8zM539.8 177.6h1.8v1.8h-1.8zM519.9 191.4h1.8v1.8h-1.8zM526 211.7h1.8v1.8h-1.8zM522.1 185.3h1.8v1.8h-1.8zM512.1 173.4h1.8v1.8h-1.8zM492.6 192.2h1.8v1.8h-1.8zM533.9 208.6h1.8v1.8h-1.8zM559.9 177.6h1.8v1.8h-1.8zM504.6 188.3h1.8v1.8h-1.8zM541.9 217.8h1.8v1.8h-1.8zM518.3 223.9h1.8v1.8h-1.8zM535.9 207.5h1.8v1.8h-1.8zM507.1 200.5h1.8v1.8h-1.8zM522.4 192.4h1.8v1.8h-1.8zM525.6 201.9h1.8v1.8h-1.8zM465.5 209.8h1.8v1.8h-1.8zM534.2 198.7h1.8v1.8h-1.8zM524.8 197.4h1.8v1.8h-1.8zM462.7 200.6h1.8v1.8h-1.8zM545.7 187.7h1.8v1.8h-1.8zM527.6 199h1.8v1.8h-1.8zM533.9 193.3h1.8v1.8h-1.8zM538 203.1h1.8v1.8h-1.8zM517.4 188.1h1.8v1.8h-1.8zM499.9 210.4h1.8v1.8h-1.8zM516.6 175.7h1.8v1.8h-1.8zM517.1 200.3h1.8v1.8h-1.8zM587.3 183.8h1.8v1.8h-1.8zM577.3 200.9h1.8v1.8h-1.8zM515.4 205.4h1.8v1.8h-1.8zM517.4 197.5h1.8v1.8h-1.8zM536.9 196.3h1.8v1.8h-1.8zM543.4 204.7h1.8v1.8h-1.8zM509.9 218.5h1.8v1.8h-1.8zM501.7 202h1.8v1.8h-1.8zM579.7 186.9h1.8v1.8h-1.8zM556.4 185h1.8v1.8h-1.8zM487 186.6h1.8v1.8h-1.8zM481.3 210.7h1.8v1.8h-1.8zM506.3 231.5h1.8v1.8h-1.8zM534.1 199.2h1.8v1.8h-1.8zM542.8 223h1.8v1.8h-1.8zM519.2 218.7h1.8v1.8h-1.8zM485.2 190.1h1.8v1.8h-1.8zM534.1 188.6h1.8v1.8h-1.8zM544.3 204.9h1.8v1.8h-1.8zM528.2 207.5h1.8v1.8h-1.8zM515 201.6h1.8v1.8h-1.8zM543.5 221.6h1.8v1.8h-1.8zM526.7 191.1h1.8v1.8h-1.8zM498.3 208.4h1.8v1.8h-1.8zM530.7 170.2h1.8v1.8h-1.8zM493.6 219.8h1.8v1.8h-1.8zM553.9 178.7h1.8v1.8h-1.8zM540.7 206h1.8v1.8h-1.8zM501.6 187.4h1.8v1.8h-1.8zM533.8 211.7h1.8v1.8h-1.8zM561.6 181.4h1.8v1.8h-1.8zM470.9 214.4h1.8v1.8h-1.8zM524.4 211h1.8v1.8h-1.8zM572.2 192.7h1.8v1.8h-1.8zM486.6 198h1.8v1.8h-1.8zM523.7 192.8h1.8v1.8h-1.8zM490 181h1.8v1.8h-1.8zM526.3 186.1h1.8v1.8h-1.8zM463.9 248.4h1.8v1.8h-1.8zM484.7 211.5h1.8v1.8h-1.8zM513.7 230.2h1.8v1.8h-1.8zM531.8 203.1h1.8v1.8h-1.8zM538.3 187h1.8v1.8h-1.8zM539.5 216h1.8v1.8h-1.8zM559 210.4h1.8v1.8h-1.8zM546.9 192.7h1.8v1.8h-1.8zM548 198.9h1.8v1.8h-1.8zM501.9 178.9h1.8v1.8h-1.8zM523.9 193.9h1.8v1.8h-1.8zM613.7 175.4h1.8v1.8h-1.8zM589.1 161.4h1.8v1.8h-1.8zM550.4 201.7h1.8v1.8h-1.8zM548 194.6h1.8v1.8h-1.8zM554.7 208.3h1.8v1.8h-1.8zM517.3 196h1.8v1.8h-1.8zM580.9 173.5h1.8v1.8h-1.8zM518 179.3h1.8v1.8h-1.8zM525.9 198.9h1.8v1.8h-1.8zM586.8 198.6h1.8v1.8h-1.8zM472.1 219.1h1.8v1.8h-1.8zM537.9 217.2h1.8v1.8h-1.8zM481.7 204.1h1.8v1.8h-1.8zM510.5 180.7h1.8v1.8h-1.8zM525.7 233.9h1.8v1.8h-1.8zM518.7 232.1h1.8v1.8h-1.8zM532.8 176.2h1.8v1.8h-1.8zM507.4 225.6h1.8v1.8h-1.8zM525.4 193.5h1.8v1.8h-1.8zM496.1 222.3h1.8v1.8h-1.8zM517.7 188.1h1.8v1.8h-1.8zM490.7 192.7h1.8v1.8h-1.8zM545.9 192.4h1.8v1.8h-1.8zM493.1 191.6h1.8v1.8h-1.8zM546.9 194h1.8v1.8h-1.8zM517 191.4h1.8v1.8h-1.8zM519.9 172h1.8v1.8h-1.8zM560.1 176h1.8v1.8h-1.8zM531.1 207.3h1.8v1.8h-1.8zM476.8 218.7h1.8v1.8h-1.8zM541.7 199.2h1.8v1.8h-1.8zM449.5 214.8h1.8v1.8h-1.8zM535.4 195.6h1.8v1.8h-1.8zM517.3 208.8h1.8v1.8h-1.8zM490.2 194.6h1.8v1.8h-1.8zM530.3 196.9h1.8v1.8h-1.8zM519.8 193.9h1.8v1.8h-1.8zM582.6 188.4h1.8v1.8h-1.8zM516.2 190.7h1.8v1.8h-1.8zM580.9 206.7h1.8v1.8h-1.8zM565.7 167.7h1.8v1.8h-1.8zM511.5 195.5h1.8v1.8h-1.8zM506 194.9h1.8v1.8h-1.8zM564.1 182.5h1.8v1.8h-1.8zM524.4 182.2h1.8v1.8h-1.8zM532.5 186h1.8v1.8h-1.8zM521.2 195.4h1.8v1.8h-1.8zM495.2 206.2h1.8v1.8h-1.8zM518 224.2h1.8v1.8h-1.8zM502 199.1h1.8v1.8h-1.8zM486.4 209.6h1.8v1.8h-1.8zM520.2 203.8h1.8v1.8h-1.8zM576.8 153.4h1.8v1.8h-1.8zM572.2 218.1h1.8v1.8h-1.8zM526.5 197.2h1.8v1.8h-1.8zM531.9 178.9h1.8v1.8h-1.8zM542.1 180.9h1.8v1.8h-1.8zM565.3 172.8h1.8v1.8h-1.8zM468.2 224.5h1.8v1.8h-1.8zM479.9 230.8h1.8v1.8h-1.8zM540.2 215.7h1.8v1.8h-1.8zM505.3 226h1.8v1.8h-1.8zM582 214.6h1.8v1.8h-1.8zM525.4 199.6h1.8v1.8h-1.8zM524.1 229.9h1.8v1.8h-1.8zM533.5 237.3h1.8v1.8h-1.8zM506.3 221.7h1.8v1.8h-1.8zM521.3 228.3h1.8v1.8h-1.8zM491 225.5h1.8v1.8h-1.8zM515.3 234.5h1.8v1.8h-1.8zM498.3 220.6h1.8v1.8h-1.8zM526.6 226.4h1.8v1.8h-1.8zM459.9 230.1h1.8v1.8h-1.8zM534.4 223.3h1.8v1.8h-1.8zM525.5 213.1h1.8v1.8h-1.8zM480.1 234.2h1.8v1.8h-1.8zM508.2 236.9h1.8v1.8h-1.8zM476.9 213.5h1.8v1.8h-1.8zM594.8 234.6h1.8v1.8h-1.8zM457.3 226h1.8v1.8h-1.8zM582.3 221.6h1.8v1.8h-1.8zM485.5 218.4h1.8v1.8h-1.8zM533 227.2h1.8v1.8h-1.8zM506.9 240.6h1.8v1.8h-1.8zM502.4 215.2h1.8v1.8h-1.8zM552.7 232.5h1.8v1.8h-1.8zM548.1 233.5h1.8v1.8h-1.8zM506 203.2h1.8v1.8h-1.8zM482.3 216.8h1.8v1.8h-1.8zM596.2 240h1.8v1.8h-1.8zM570.6 233.1h1.8v1.8h-1.8zM522.4 230.2h1.8v1.8h-1.8zM505.7 236.3h1.8v1.8h-1.8zM520.2 217.7h1.8v1.8h-1.8zM562.7 218h1.8v1.8h-1.8zM480.2 224.4h1.8v1.8h-1.8zM517.9 232.1h1.8v1.8h-1.8zM487.2 224.8h1.8v1.8h-1.8zM567 219.7h1.8v1.8h-1.8zM585.9 239.8h1.8v1.8h-1.8zM513.6 231.3h1.8v1.8h-1.8zM537.7 234h1.8v1.8h-1.8zM570.8 219h1.8v1.8h-1.8zM505.7 224.2h1.8v1.8h-1.8zM481.5 242.9h1.8v1.8h-1.8zM556.8 234.7h1.8v1.8h-1.8zM536.5 206.2h1.8v1.8h-1.8zM509.2 238.9h1.8v1.8h-1.8zM572.9 225.5h1.8v1.8h-1.8zM526.2 234.9h1.8v1.8h-1.8zM449.2 212.4h1.8v1.8h-1.8zM530.4 228.1h1.8v1.8h-1.8zM514.9 232.6h1.8v1.8h-1.8zM589 241.4h1.8v1.8h-1.8zM516.5 230.3h1.8v1.8h-1.8zM509.3 217.4h1.8v1.8h-1.8zM533.9 219.3h1.8v1.8h-1.8zM526.5 243.2h1.8v1.8h-1.8zM463.4 208.7h1.8v1.8h-1.8zM521.8 230.3h1.8v1.8h-1.8zM504.7 239.9h1.8v1.8h-1.8zM570.8 225.8h1.8v1.8h-1.8zM608.9 234.8h1.8v1.8h-1.8zM474.5 234.3h1.8v1.8h-1.8zM480.3 234.9h1.8v1.8h-1.8zM485 228.4h1.8v1.8h-1.8zM492.1 233.3h1.8v1.8h-1.8zM490.9 247.8h1.8v1.8h-1.8zM519.3 221.1h1.8v1.8h-1.8zM558.8 233.6h1.8v1.8h-1.8zM467.5 213.1h1.8v1.8h-1.8zM458.5 221h1.8v1.8h-1.8zM446.9 220h1.8v1.8h-1.8zM559.4 225.2h1.8v1.8h-1.8zM567.9 211.9h1.8v1.8h-1.8zM458.6 231.3h1.8v1.8h-1.8zM455 239.2h1.8v1.8h-1.8zM522.2 223.3h1.8v1.8h-1.8zM556 231.8h1.8v1.8h-1.8zM524.7 224.8h1.8v1.8h-1.8zM543.3 232.4h1.8v1.8h-1.8zM529.8 212.4h1.8v1.8h-1.8zM496.1 219.1h1.8v1.8h-1.8zM590.2 226.1h1.8v1.8h-1.8zM517.2 232.2h1.8v1.8h-1.8zM474.8 214.4h1.8v1.8h-1.8zM499.4 235.5h1.8v1.8h-1.8zM458.4 232.4h1.8v1.8h-1.8zM517.9 218.5h1.8v1.8h-1.8zM559.2 220.3h1.8v1.8h-1.8zM469 203.2h1.8v1.8h-1.8zM560.4 230h1.8v1.8h-1.8zM531.8 219.6h1.8v1.8h-1.8zM473.1 212.5h1.8v1.8h-1.8zM484.7 229.4h1.8v1.8h-1.8zM504.5 208.9h1.8v1.8h-1.8zM468.3 206.2h1.8v1.8h-1.8zM469.6 235.4h1.8v1.8h-1.8zM507.4 233.2h1.8v1.8h-1.8zM510.4 242.4h1.8v1.8h-1.8zM540.5 221h1.8v1.8h-1.8zM471.5 218.9h1.8v1.8h-1.8zM588.8 220.3h1.8v1.8h-1.8zM557.9 242.1h1.8v1.8h-1.8zM551.3 236.6h1.8v1.8h-1.8zM492.5 244.5h1.8v1.8h-1.8zM583.8 246.7h1.8v1.8h-1.8zM504.2 243.5h1.8v1.8h-1.8zM586.7 246.3h1.8v1.8h-1.8zM558.3 229.7h1.8v1.8h-1.8zM483.1 222.4h1.8v1.8h-1.8zM500 220.1h1.8v1.8h-1.8zM588.8 227.7h1.8v1.8h-1.8zM555.6 235.5h1.8v1.8h-1.8zM511.4 227.6h1.8v1.8h-1.8zM525.1 220.7h1.8v1.8h-1.8zM524.9 231h1.8v1.8h-1.8zM487.8 226.9h1.8v1.8h-1.8zM509.7 231.1h1.8v1.8h-1.8zM492.1 233.7h1.8v1.8h-1.8zM501 227.1h1.8v1.8h-1.8zM535.2 240.8h1.8v1.8h-1.8zM480.7 215h1.8v1.8h-1.8zM545.1 246.1h1.8v1.8h-1.8zM521.5 222h1.8v1.8h-1.8zM546.5 243.7h1.8v1.8h-1.8zM551.3 209.6h1.8v1.8h-1.8zM565 217.2h1.8v1.8h-1.8zM541.4 237.2h1.8v1.8h-1.8zM544.4 232.9h1.8v1.8h-1.8zM510.5 240.9h1.8v1.8h-1.8zM539.1 228.2h1.8v1.8h-1.8zM482.9 222.6h1.8v1.8h-1.8zM507.9 197.2h1.8v1.8h-1.8zM546 243.8h1.8v1.8h-1.8zM515.3 212.8h1.8v1.8h-1.8zM534.4 234.4h1.8v1.8h-1.8zM476.9 224.3h1.8v1.8h-1.8zM569.7 217.1h1.8v1.8h-1.8zM495.3 221.1h1.8v1.8h-1.8zM532.5 222.5h1.8v1.8h-1.8zM516.5 229.9h1.8v1.8h-1.8zM553 227.6h1.8v1.8h-1.8zM502.7 225.7h1.8v1.8h-1.8zM479.1 213.3h1.8v1.8h-1.8zM444.7 245h1.8v1.8h-1.8zM505.6 233.4h1.8v1.8h-1.8zM471.6 242.3h1.8v1.8h-1.8zM537.8 239h1.8v1.8h-1.8zM572.5 237h1.8v1.8h-1.8zM432.2 214.5h1.8v1.8h-1.8zM468 202.1h1.8v1.8h-1.8zM529.2 211.5h1.8v1.8h-1.8zM564.6 241.6h1.8v1.8h-1.8zM529 226.7h1.8v1.8h-1.8zM529.7 241h1.8v1.8h-1.8zM536.7 222.3h1.8v1.8h-1.8zM539.3 212.5h1.8v1.8h-1.8zM580.3 220.6h1.8v1.8h-1.8zM540.8 217.2h1.8v1.8h-1.8zM469.8 229.3h1.8v1.8h-1.8zM486.2 228.7h1.8v1.8h-1.8zM507.3 220.7h1.8v1.8h-1.8zM497.2 212.5h1.8v1.8h-1.8zM490.5 231.7h1.8v1.8h-1.8zM543.9 226.7h1.8v1.8h-1.8zM502.4 224.5h1.8v1.8h-1.8zM475.4 214.9h1.8v1.8h-1.8zM489.9 228.4h1.8v1.8h-1.8zM518.7 240.5h1.8v1.8h-1.8zM598.3 214.7h1.8v1.8h-1.8zM527.2 222.7h1.8v1.8h-1.8zM574.2 223h1.8v1.8h-1.8zM536.3 242.6h1.8v1.8h-1.8zM434.8 227.6h1.8v1.8h-1.8zM531.8 247.9h1.8v1.8h-1.8zM465.3 230.4h1.8v1.8h-1.8zM475.9 232.7h1.8v1.8h-1.8zM586 220.8h1.8v1.8h-1.8zM456.7 210.5h1.8v1.8h-1.8zM493.5 228h1.8v1.8h-1.8zM561.8 206.4h1.8v1.8h-1.8zM542.8 234.5h1.8v1.8h-1.8zM451.6 218.5h1.8v1.8h-1.8zM513 242.6h1.8v1.8h-1.8zM497.4 226h1.8v1.8h-1.8zM509.8 231.3h1.8v1.8h-1.8zM546.2 230h1.8v1.8h-1.8zM495.1 220.6h1.8v1.8h-1.8zM573.3 226.2h1.8v1.8h-1.8zM446.4 237.2h1.8v1.8h-1.8zM502.9 226.2h1.8v1.8h-1.8zM535.3 222.9h1.8v1.8h-1.8zM469.3 231.9h1.8v1.8h-1.8zM493 232h1.8v1.8h-1.8zM466.7 241.2h1.8v1.8h-1.8zM523.2 221h1.8v1.8h-1.8zM493.2 235.5h1.8v1.8h-1.8zM547.5 222.3h1.8v1.8h-1.8zM556.5 244.4h1.8v1.8h-1.8zM519 211.4h1.8v1.8h-1.8zM502.6 239.6h1.8v1.8h-1.8zM527.2 213.9h1.8v1.8h-1.8zM519.4 232.8h1.8v1.8h-1.8zM470.4 221.1h1.8v1.8h-1.8zM558.4 229.2h1.8v1.8h-1.8zM525.9 219.5h1.8v1.8h-1.8zM547.5 227.5h1.8v1.8h-1.8zM464.8 212.5h1.8v1.8h-1.8zM550.9 219.6h1.8v1.8h-1.8zM598.2 219.5h1.8v1.8h-1.8zM540.9 207.8h1.8v1.8h-1.8zM461.3 235.8h1.8v1.8h-1.8zM518.6 212.2h1.8v1.8h-1.8zM514.9 226.7h1.8v1.8h-1.8zM525.5 245h1.8v1.8h-1.8zM508.1 221.9h1.8v1.8h-1.8zM536.2 230h1.8v1.8h-1.8zM499.2 207.6h1.8v1.8h-1.8zM526 233.4h1.8v1.8h-1.8zM490.6 227h1.8v1.8h-1.8zM520.9 224.8h1.8v1.8h-1.8zM498.2 221.5h1.8v1.8h-1.8zM542.8 239.3h1.8v1.8h-1.8zM482.9 210.9h1.8v1.8h-1.8zM502.7 207.8h1.8v1.8h-1.8zM508 227.6h1.8v1.8h-1.8zM565.1 246.3h1.8v1.8h-1.8zM487.5 225.4h1.8v1.8h-1.8zM564 225.5h1.8v1.8h-1.8zM460.6 219h1.8v1.8h-1.8zM510.9 231h1.8v1.8h-1.8zM552.2 241.6h1.8v1.8h-1.8zM543.8 229.2h1.8v1.8h-1.8zM478.1 238.5h1.8v1.8h-1.8zM469.9 206.6h1.8v1.8h-1.8zM550.8 235.9h1.8v1.8h-1.8zM468.4 235.3h1.8v1.8h-1.8zM539.3 228.1h1.8v1.8h-1.8zM496.9 242.2h1.8v1.8h-1.8zM516.5 232.8h1.8v1.8h-1.8zM606.3 229.1h1.8v1.8h-1.8zM576.8 233.3h1.8v1.8h-1.8zM549.4 230.5h1.8v1.8h-1.8zM463.8 212.9h1.8v1.8h-1.8zM529.3 222.4h1.8v1.8h-1.8zM519 243.4h1.8v1.8h-1.8zM513.1 232.6h1.8v1.8h-1.8zM568.5 218.7h1.8v1.8h-1.8zM450.6 235.2h1.8v1.8h-1.8zM529.2 226.6h1.8v1.8h-1.8zM521.8 227.9h1.8v1.8h-1.8zM487.9 221.3h1.8v1.8h-1.8zM583.5 229.7h1.8v1.8h-1.8zM468 229.2h1.8v1.8h-1.8zM517.9 237.7h1.8v1.8h-1.8zM520 223.3h1.8v1.8h-1.8zM432.2 238.5h1.8v1.8h-1.8zM461.6 207.1h1.8v1.8h-1.8zM479.4 227.8h1.8v1.8h-1.8zM547.3 230.2h1.8v1.8h-1.8zM553.4 218.2h1.8v1.8h-1.8zM539.8 228.5h1.8v1.8h-1.8zM526.1 226.5h1.8v1.8h-1.8zM431.9 228.2h1.8v1.8h-1.8zM525.1 236.1h1.8v1.8h-1.8zM497 238.4h1.8v1.8h-1.8zM562 235.8h1.8v1.8h-1.8zM568.8 214.2h1.8v1.8h-1.8zM603.2 235h1.8v1.8h-1.8zM544.2 232.3h1.8v1.8h-1.8zM548.3 232.8h1.8v1.8h-1.8zM476.9 219.3h1.8v1.8h-1.8zM519.8 204.1h1.8v1.8h-1.8zM469 238.5h1.8v1.8h-1.8zM551.4 221.1h1.8v1.8h-1.8zM470.6 226.1h1.8v1.8h-1.8zM508.4 231.1h1.8v1.8h-1.8zM485 221.6h1.8v1.8h-1.8zM498.6 242.5h1.8v1.8h-1.8zM534.4 217.7h1.8v1.8h-1.8zM494.9 224.9h1.8v1.8h-1.8zM525.2 239.3h1.8v1.8h-1.8zM477.9 208.7h1.8v1.8h-1.8zM570.7 217.5h1.8v1.8h-1.8zM491.7 213.8h1.8v1.8h-1.8zM555.8 244.7h1.8v1.8h-1.8zM599.4 230.7h1.8v1.8h-1.8zM422.3 233.7h1.8v1.8h-1.8zM478.2 220.1h1.8v1.8h-1.8zM508.6 211.6h1.8v1.8h-1.8zM497.8 227.3h1.8v1.8h-1.8zM531.3 229h1.8v1.8h-1.8zM488.3 215.8h1.8v1.8h-1.8zM538.4 228h1.8v1.8h-1.8zM469.5 242.5h1.8v1.8h-1.8zM549 229.8h1.8v1.8h-1.8zM443.2 236.7h1.8v1.8h-1.8zM587.1 227h1.8v1.8h-1.8zM523.2 233.2h1.8v1.8h-1.8zM481.8 224.2h1.8v1.8h-1.8zM602 245.4h1.8v1.8h-1.8zM557.3 200.2h1.8v1.8h-1.8zM560.3 212.7h1.8v1.8h-1.8zM500.1 219.1h1.8v1.8h-1.8zM540.6 242.8h1.8v1.8h-1.8zM452.1 237.7h1.8v1.8h-1.8zM539.5 230.3h1.8v1.8h-1.8zM509.3 201.2h1.8v1.8h-1.8zM566.5 212.1h1.8v1.8h-1.8zM567.2 233.7h1.8v1.8h-1.8zM491.4 213.3h1.8v1.8h-1.8zM492.9 213.1h1.8v1.8h-1.8zM523.9 227.4h1.8v1.8h-1.8zM541.9 213.2h1.8v1.8h-1.8zM500.4 223.7h1.8v1.8h-1.8zM512 235.3h1.8v1.8h-1.8zM540.2 241.4h1.8v1.8h-1.8zM532.9 229h1.8v1.8h-1.8zM561.7 215.8h1.8v1.8h-1.8zM525.7 243.5h1.8v1.8h-1.8zM481.8 246.5h1.8v1.8h-1.8zM447.6 221.1h1.8v1.8h-1.8zM503.4 206.1h1.8v1.8h-1.8zM502.8 232.7h1.8v1.8h-1.8zM505 218.9h1.8v1.8h-1.8zM455 205.6h1.8v1.8h-1.8zM501.1 244.6h1.8v1.8h-1.8zM414.8 239.9h1.8v1.8h-1.8zM500.6 201.1h1.8v1.8h-1.8zM481.4 230.9h1.8v1.8h-1.8zM588.1 229h1.8v1.8h-1.8zM533.8 224.9h1.8v1.8h-1.8zM507.9 215.1h1.8v1.8h-1.8zM522.6 211.9h1.8v1.8h-1.8zM544.8 226.2h1.8v1.8h-1.8zM486.7 231.5h1.8v1.8h-1.8zM507.3 228h1.8v1.8h-1.8zM502.4 224h1.8v1.8h-1.8zM613.4 212.1h1.8v1.8h-1.8zM519.1 225.9h1.8v1.8h-1.8zM439.3 206.1h1.8v1.8h-1.8zM547.4 237.7h1.8v1.8h-1.8zM617.5 221.3h1.8v1.8h-1.8zM478.8 206.8h1.8v1.8h-1.8zM652.4 212.4h1.8v1.8h-1.8zM513.8 223.6h1.8v1.8h-1.8zM555.4 237.9h1.8v1.8h-1.8zM494.1 235.9h1.8v1.8h-1.8zM505.6 229.4h1.8v1.8h-1.8zM467.9 223.9h1.8v1.8h-1.8zM474.8 230.5h1.8v1.8h-1.8zM432.1 244.7h1.8v1.8h-1.8zM561 236.2h1.8v1.8h-1.8zM471.1 221.4h1.8v1.8h-1.8zM530.7 217.7h1.8v1.8h-1.8zM529.1 244h1.8v1.8h-1.8zM490.7 231.8h1.8v1.8h-1.8zM518 247.3h1.8v1.8h-1.8zM512.4 234.2h1.8v1.8h-1.8zM496.7 185.8h1.8v1.8h-1.8zM518.1 226.8h1.8v1.8h-1.8zM518.1 231.6h1.8v1.8h-1.8zM476 234.5h1.8v1.8h-1.8zM465.2 241.8h1.8v1.8h-1.8zM520.8 228h1.8v1.8h-1.8zM570.4 230.8h1.8v1.8h-1.8zM573.9 210.1h1.8v1.8h-1.8zM528.4 246.8h1.8v1.8h-1.8zM553.3 222.4h1.8v1.8h-1.8zM520.9 211.7h1.8v1.8h-1.8zM521 219.8h1.8v1.8h-1.8zM531.5 246.5h1.8v1.8h-1.8zM504.8 221.4h1.8v1.8h-1.8zM515.8 210.1h1.8v1.8h-1.8zM590.7 227.6h1.8v1.8h-1.8zM468.8 224.2h1.8v1.8h-1.8zM516.1 235.7h1.8v1.8h-1.8zM492.7 224.1h1.8v1.8h-1.8zM553.8 214.2h1.8v1.8h-1.8zM587.5 229.7h1.8v1.8h-1.8zM503.6 229.2h1.8v1.8h-1.8zM540.2 217.8h1.8v1.8h-1.8zM540.2 246.8h1.8v1.8h-1.8zM449.4 226.8h1.8v1.8h-1.8zM506.4 235.6h1.8v1.8h-1.8zM513.2 221.7h1.8v1.8h-1.8zM542.5 223.9h1.8v1.8h-1.8zM533.2 212.3h1.8v1.8h-1.8zM525.3 239.2h1.8v1.8h-1.8zM473.9 232.4h1.8v1.8h-1.8zM487.7 239.2h1.8v1.8h-1.8zM490.8 226.8h1.8v1.8h-1.8zM534.7 226.4h1.8v1.8h-1.8zM476.9 229.9h1.8v1.8h-1.8zM573.7 241.8h1.8v1.8h-1.8zM530.7 228.4h1.8v1.8h-1.8zM429.6 232.7h1.8v1.8h-1.8zM582.4 220.4h1.8v1.8h-1.8zM522 230.7h1.8v1.8h-1.8zM493.9 213.8h1.8v1.8h-1.8zM519.8 224.8h1.8v1.8h-1.8zM523.2 229.6h1.8v1.8h-1.8zM418.3 244.4h1.8v1.8h-1.8zM475.1 216.1h1.8v1.8h-1.8zM569.3 210.6h1.8v1.8h-1.8zM565.6 227.8h1.8v1.8h-1.8zM502.1 222.3h1.8v1.8h-1.8zM477.3 244.6h1.8v1.8h-1.8zM513.6 234.1h1.8v1.8h-1.8zM524 230.5h1.8v1.8h-1.8zM540.4 245.4h1.8v1.8h-1.8zM472.9 226.5h1.8v1.8h-1.8zM547 223.8h1.8v1.8h-1.8zM431.6 219.9h1.8v1.8h-1.8zM573.6 209.2h1.8v1.8h-1.8zM453.2 218h1.8v1.8h-1.8zM490.5 231.8h1.8v1.8h-1.8zM488.9 226.3h1.8v1.8h-1.8zM544.4 220.4h1.8v1.8h-1.8zM545.1 239.9h1.8v1.8h-1.8zM529.7 211.9h1.8v1.8h-1.8zM537 216.9h1.8v1.8h-1.8zM534 230.2h1.8v1.8h-1.8zM512.5 235h1.8v1.8h-1.8zM513.4 206.3h1.8v1.8h-1.8zM506.2 215.9h1.8v1.8h-1.8zM509.7 225h1.8v1.8h-1.8zM524.2 219.2h1.8v1.8h-1.8zM505.9 238.3h1.8v1.8h-1.8zM475.5 219.1h1.8v1.8h-1.8zM455.4 245.7h1.8v1.8h-1.8zM439.7 222.5h1.8v1.8h-1.8zM563.6 220.9h1.8v1.8h-1.8zM551.3 245.9h1.8v1.8h-1.8zM461.2 204.8h1.8v1.8h-1.8zM504.2 241h1.8v1.8h-1.8zM532.7 215.1h1.8v1.8h-1.8zM578.6 233.7h1.8v1.8h-1.8zM491.1 223.8h1.8v1.8h-1.8zM522.1 235.2h1.8v1.8h-1.8zM561.2 198h1.8v1.8h-1.8zM445.8 215.3h1.8v1.8h-1.8zM485.8 206.1h1.8v1.8h-1.8zM513.5 218.2h1.8v1.8h-1.8zM486.3 219.2h1.8v1.8h-1.8zM599.3 225.6h1.8v1.8h-1.8zM549.6 230.2h1.8v1.8h-1.8zM522.8 220.2h1.8v1.8h-1.8zM476.7 225.5h1.8v1.8h-1.8zM549.5 229.1h1.8v1.8h-1.8zM540.2 243.6h1.8v1.8h-1.8zM494.4 231h1.8v1.8h-1.8zM497.6 220.2h1.8v1.8h-1.8zM456.6 232.9h1.8v1.8h-1.8zM511.8 223.2h1.8v1.8h-1.8zM549.4 229h1.8v1.8h-1.8zM554.8 239.5h1.8v1.8h-1.8zM538 238h1.8v1.8h-1.8zM547.8 236h1.8v1.8h-1.8zM491.4 230.7h1.8v1.8h-1.8zM496.1 230.4h1.8v1.8h-1.8zM562.9 214.1h1.8v1.8h-1.8zM532.8 240.1h1.8v1.8h-1.8zM534.8 219.2h1.8v1.8h-1.8zM547.9 232.7h1.8v1.8h-1.8zM543 228.7h1.8v1.8h-1.8zM519.1 197.1h1.8v1.8h-1.8zM494.2 210h1.8v1.8h-1.8zM530.7 220.3h1.8v1.8h-1.8zM582.3 216.1h1.8v1.8h-1.8zM520.6 225.8h1.8v1.8h-1.8zM488.1 215.9h1.8v1.8h-1.8zM528.3 234.5h1.8v1.8h-1.8zM465.6 235.6h1.8v1.8h-1.8zM645.5 119.4h1.8v1.8h-1.8zM663.2 116.8h1.8v1.8h-1.8zM637.3 121.7h1.8v1.8h-1.8zM630.2 114.3h1.8v1.8h-1.8zM661 121.8h1.8v1.8h-1.8zM647.4 115.2h1.8v1.8h-1.8zM646.1 118.8h1.8v1.8h-1.8zM679.3 117h1.8v1.8h-1.8zM627.4 123.3h1.8v1.8h-1.8zM649.6 132.5h1.8v1.8h-1.8zM618.6 134.1h1.8v1.8h-1.8zM641.8 107.4h1.8v1.8h-1.8zM655.7 119.7h1.8v1.8h-1.8zM664.2 119.3h1.8v1.8h-1.8zM626.5 124.1h1.8v1.8h-1.8zM659.6 126.3h1.8v1.8h-1.8zM658.8 100.2h1.8v1.8h-1.8zM644.5 131.5h1.8v1.8h-1.8zM685.2 123.2h1.8v1.8h-1.8zM646.5 123.1h1.8v1.8h-1.8zM632.6 131.6h1.8v1.8h-1.8zM653.2 132.7h1.8v1.8h-1.8zM617.2 128.3h1.8v1.8h-1.8zM671 125.4h1.8v1.8h-1.8zM662 126.6h1.8v1.8h-1.8zM640.2 116.3h1.8v1.8h-1.8zM656.1 132h1.8v1.8h-1.8zM654.9 119.6h1.8v1.8h-1.8zM676.9 111.2h1.8v1.8h-1.8zM636.8 115.7h1.8v1.8h-1.8zM626.2 131.7h1.8v1.8h-1.8zM641.8 116.1h1.8v1.8h-1.8zM621.8 118.8h1.8v1.8h-1.8zM643.7 127.3h1.8v1.8h-1.8zM652.9 112.7h1.8v1.8h-1.8zM639.5 125.9h1.8v1.8h-1.8zM631.6 121.9h1.8v1.8h-1.8zM665.2 130.9h1.8v1.8h-1.8zM643.3 120.2h1.8v1.8h-1.8zM650.1 126.1h1.8v1.8h-1.8zM661.4 126.7h1.8v1.8h-1.8zM625.9 114.3h1.8v1.8h-1.8zM632 121.1h1.8v1.8h-1.8zM685.7 134.5h1.8v1.8h-1.8zM644 117.3h1.8v1.8h-1.8zM630.1 116.2h1.8v1.8h-1.8zM642.5 129.3h1.8v1.8h-1.8zM637.4 125.8h1.8v1.8h-1.8zM627.1 122.3h1.8v1.8h-1.8zM640 124.7h1.8v1.8h-1.8zM646.1 121.8h1.8v1.8h-1.8zM646.2 117.6h1.8v1.8h-1.8zM654.9 126.6h1.8v1.8h-1.8zM619.2 106.4h1.8v1.8h-1.8zM622.9 128.3h1.8v1.8h-1.8zM658.9 127h1.8v1.8h-1.8zM639.5 107.3h1.8v1.8h-1.8zM665.6 104h1.8v1.8h-1.8zM651.2 122.4h1.8v1.8h-1.8zM624.3 124.2h1.8v1.8h-1.8zM654.9 131.2h1.8v1.8h-1.8zM630.5 113.8h1.8v1.8h-1.8zM650.5 121.4h1.8v1.8h-1.8zM665.8 129.4h1.8v1.8h-1.8zM679.7 119.5h1.8v1.8h-1.8zM645.4 112h1.8v1.8h-1.8zM657.4 117.4h1.8v1.8h-1.8zM651.2 105.4h1.8v1.8h-1.8zM658.9 113.6h1.8v1.8h-1.8zM606.4 119.3h1.8v1.8h-1.8zM640.3 123h1.8v1.8h-1.8zM651 118.4h1.8v1.8h-1.8zM653.8 113.2h1.8v1.8h-1.8zM634.6 116h1.8v1.8h-1.8zM659.4 114.4h1.8v1.8h-1.8zM663.8 121h1.8v1.8h-1.8zM647.6 116.7h1.8v1.8h-1.8zM642.9 113.2h1.8v1.8h-1.8zM640.9 124h1.8v1.8h-1.8zM648.6 132.9h1.8v1.8h-1.8zM665 109.2h1.8v1.8h-1.8zM670 118.2h1.8v1.8h-1.8zM639.1 126.2h1.8v1.8h-1.8zM631.9 120.9h1.8v1.8h-1.8zM634 124.7h1.8v1.8h-1.8zM661.9 136.1h1.8v1.8h-1.8zM649.9 124.2h1.8v1.8h-1.8zM651.2 133.9h1.8v1.8h-1.8zM654 121.1h1.8v1.8h-1.8zM652.4 123.6h1.8v1.8h-1.8zM644.5 113.8h1.8v1.8h-1.8zM630.1 123.7h1.8v1.8h-1.8zM636.8 119.8h1.8v1.8h-1.8zM648.4 125.1h1.8v1.8h-1.8zM652.6 125.7h1.8v1.8h-1.8zM640.7 133.7h1.8v1.8h-1.8zM639.9 115h1.8v1.8h-1.8zM667.9 121.4h1.8v1.8h-1.8zM639.2 127.3h1.8v1.8h-1.8zM649.9 121.1h1.8v1.8h-1.8zM641.5 126h1.8v1.8h-1.8zM633 128.4h1.8v1.8h-1.8zM622.7 120.8h1.8v1.8h-1.8zM638.1 113.2h1.8v1.8h-1.8zM633.6 124.9h1.8v1.8h-1.8zM659.7 133.9h1.8v1.8h-1.8zM628.5 127.6h1.8v1.8h-1.8zM640 108.6h1.8v1.8h-1.8zM656.7 129.1h1.8v1.8h-1.8zM644.7 113.4h1.8v1.8h-1.8zM654.2 124.6h1.8v1.8h-1.8zM659.5 116.9h1.8v1.8h-1.8zM620.5 123.6h1.8v1.8h-1.8zM640 135.1h1.8v1.8h-1.8zM631.4 126h1.8v1.8h-1.8zM667.6 106.1h1.8v1.8h-1.8zM644.6 123.8h1.8v1.8h-1.8zM654.2 118.3h1.8v1.8h-1.8zM673 125.4h1.8v1.8h-1.8zM640.9 123.8h1.8v1.8h-1.8zM647.6 120.2h1.8v1.8h-1.8zM652.8 119h1.8v1.8h-1.8zM642.3 105.3h1.8v1.8h-1.8zM666.1 122.9h1.8v1.8h-1.8zM659.2 124.2h1.8v1.8h-1.8zM662.1 127.9h1.8v1.8h-1.8zM647.2 133.1h1.8v1.8h-1.8zM641.1 135.4h1.8v1.8h-1.8zM640.9 117.5h1.8v1.8h-1.8zM640.8 137.4h1.8v1.8h-1.8zM620.9 111.7h1.8v1.8h-1.8zM652.1 116h1.8v1.8h-1.8zM659.1 125h1.8v1.8h-1.8zM646.3 131.8h1.8v1.8h-1.8zM638.7 122.5h1.8v1.8h-1.8zM647 122.6h1.8v1.8h-1.8zM650 113.9h1.8v1.8h-1.8zM651.5 128.6h1.8v1.8h-1.8zM674.4 125.7h1.8v1.8h-1.8zM633.1 123.1h1.8v1.8h-1.8zM652.1 124.9h1.8v1.8h-1.8zM657.2 127.6h1.8v1.8h-1.8zM647.7 136.2h1.8v1.8h-1.8zM642.8 135.6h1.8v1.8h-1.8zM630.5 128h1.8v1.8h-1.8zM637.2 124.5h1.8v1.8h-1.8zM657.4 114.9h1.8v1.8h-1.8zM669 104.6h1.8v1.8h-1.8zM636.2 109.2h1.8v1.8h-1.8zM653.7 119.6h1.8v1.8h-1.8zM654.5 108h1.8v1.8h-1.8zM662.1 123.6h1.8v1.8h-1.8zM650.2 126.9h1.8v1.8h-1.8zM653.3 104.5h1.8v1.8h-1.8zM660.3 131.1h1.8v1.8h-1.8zM628.4 126h1.8v1.8h-1.8zM647.1 124.8h1.8v1.8h-1.8zM619.1 111.2h1.8v1.8h-1.8zM615.9 127.4h1.8v1.8h-1.8zM633.7 116.6h1.8v1.8h-1.8zM622.6 125.9h1.8v1.8h-1.8zM654.3 132.3h1.8v1.8h-1.8zM661.8 120.9h1.8v1.8h-1.8zM641.7 121.4h1.8v1.8h-1.8zM644.3 131.8h1.8v1.8h-1.8zM642.8 129.5h1.8v1.8h-1.8zM642.4 128.9h1.8v1.8h-1.8zM648.5 115.1h1.8v1.8h-1.8zM651.8 119.1h1.8v1.8h-1.8zM639.3 120.8h1.8v1.8h-1.8zM634.2 118.9h1.8v1.8h-1.8zM638.4 126.4h1.8v1.8h-1.8zM658.8 118.9h1.8v1.8h-1.8zM639.9 127.5h1.8v1.8h-1.8zM668.8 133.2h1.8v1.8h-1.8zM642.7 128.2h1.8v1.8h-1.8zM667.5 121h1.8v1.8h-1.8zM628 122h1.8v1.8h-1.8zM635.7 114.4h1.8v1.8h-1.8zM653.7 136h1.8v1.8h-1.8zM653.9 124.4h1.8v1.8h-1.8zM644 119.6h1.8v1.8h-1.8zM677.8 130.3h1.8v1.8h-1.8zM647.5 120.7h1.8v1.8h-1.8zM650.8 125.9h1.8v1.8h-1.8zM637.6 131.6h1.8v1.8h-1.8zM671.9 113.9h1.8v1.8h-1.8zM659.6 133.6h1.8v1.8h-1.8zM652.7 114.8h1.8v1.8h-1.8zM621.2 125.9h1.8v1.8h-1.8zM651.9 130.1h1.8v1.8h-1.8zM639.2 129.6h1.8v1.8h-1.8zM652.4 128.5h1.8v1.8h-1.8zM660.4 129.3h1.8v1.8h-1.8zM634.8 120.6h1.8v1.8h-1.8zM649.7 137.4h1.8v1.8h-1.8zM659.9 112.9h1.8v1.8h-1.8zM648.8 116.1h1.8v1.8h-1.8zM641.3 111.8h1.8v1.8h-1.8zM630.1 130.4h1.8v1.8h-1.8zM636.1 140.9h1.8v1.8h-1.8zM626.8 127.6h1.8v1.8h-1.8zM661.5 124h1.8v1.8h-1.8zM647.9 120.3h1.8v1.8h-1.8zM627.7 126.7h1.8v1.8h-1.8zM646.3 123.3h1.8v1.8h-1.8zM626.5 121.5h1.8v1.8h-1.8zM595.9 134.8h1.8v1.8h-1.8zM664.9 108.5h1.8v1.8h-1.8zM664.3 131.5h1.8v1.8h-1.8zM623.7 120.6h1.8v1.8h-1.8zM635.3 114.2h1.8v1.8h-1.8zM649.5 128.8h1.8v1.8h-1.8zM640.4 122.6h1.8v1.8h-1.8zM633.2 109.8h1.8v1.8h-1.8zM638.4 124.9h1.8v1.8h-1.8zM642.6 114.4h1.8v1.8h-1.8zM637.8 120.4h1.8v1.8h-1.8zM649.5 120.9h1.8v1.8h-1.8zM642.8 117h1.8v1.8h-1.8zM634.6 124.5h1.8v1.8h-1.8zM646.7 124.3h1.8v1.8h-1.8zM620.8 115.1h1.8v1.8h-1.8zM668.4 120.6h1.8v1.8h-1.8zM619.6 118.7h1.8v1.8h-1.8zM645 132h1.8v1.8h-1.8zM651.5 122.5h1.8v1.8h-1.8zM652.6 113.1h1.8v1.8h-1.8zM650.3 115.6h1.8v1.8h-1.8zM665.6 119.9h1.8v1.8h-1.8zM629.1 126.7h1.8v1.8h-1.8zM645.2 127.4h1.8v1.8h-1.8zM648.5 119.2h1.8v1.8h-1.8zM638.7 111.5h1.8v1.8h-1.8zM637.2 122.3h1.8v1.8h-1.8zM666 112.4h1.8v1.8h-1.8zM635.4 125h1.8v1.8h-1.8zM638.9 113.2h1.8v1.8h-1.8zM642 130.5h1.8v1.8h-1.8zM643 121.2h1.8v1.8h-1.8zM648.7 131h1.8v1.8h-1.8zM643.1 117.4h1.8v1.8h-1.8zM652 118.1h1.8v1.8h-1.8zM648.3 130.1h1.8v1.8h-1.8zM653.6 128.5h1.8v1.8h-1.8zM667.2 126.1h1.8v1.8h-1.8zM633.3 134.3h1.8v1.8h-1.8zM671.4 129.9h1.8v1.8h-1.8zM639.4 129.4h1.8v1.8h-1.8zM656.4 116.5h1.8v1.8h-1.8zM648.7 111.8h1.8v1.8h-1.8zM641.7 126.1h1.8v1.8h-1.8zM616.3 124.9h1.8v1.8h-1.8zM670.8 120.9h1.8v1.8h-1.8zM634.7 126.7h1.8v1.8h-1.8zM634.2 124.8h1.8v1.8h-1.8zM662.4 116h1.8v1.8h-1.8zM647.4 120.8h1.8v1.8h-1.8zM675.2 123.3h1.8v1.8h-1.8zM671.8 127.1h1.8v1.8h-1.8zM657 111.1h1.8v1.8h-1.8zM650 127.4h1.8v1.8h-1.8zM657.8 121.7h1.8v1.8h-1.8zM626.1 130.7h1.8v1.8h-1.8zM648.8 127.3h1.8v1.8h-1.8zM648.4 121.9h1.8v1.8h-1.8zM639 125.7h1.8v1.8h-1.8zM650.1 118.4h1.8v1.8h-1.8zM623.9 122.1h1.8v1.8h-1.8zM659.9 133.5h1.8v1.8h-1.8zM665.8 140.7h1.8v1.8h-1.8zM626.5 114.8h1.8v1.8h-1.8zM648.4 127.2h1.8v1.8h-1.8zM669.7 111h1.8v1.8h-1.8zM652.5 122.5h1.8v1.8h-1.8zM630.5 128.6h1.8v1.8h-1.8zM631.1 118.2h1.8v1.8h-1.8zM659.1 124.8h1.8v1.8h-1.8zM674 122.5h1.8v1.8h-1.8zM629.7 129.9h1.8v1.8h-1.8zM646.7 117.6h1.8v1.8h-1.8zM634.4 114h1.8v1.8h-1.8zM641.8 126.8h1.8v1.8h-1.8zM650.8 108.6h1.8v1.8h-1.8zM645.5 127.1h1.8v1.8h-1.8zM635.7 120.7h1.8v1.8h-1.8zM678.1 135.5h1.8v1.8h-1.8zM643.7 137.7h1.8v1.8h-1.8zM643.4 106.1h1.8v1.8h-1.8zM663 111.4h1.8v1.8h-1.8zM646.3 113.6h1.8v1.8h-1.8zM643.1 136h1.8v1.8h-1.8zM660.5 120.9h1.8v1.8h-1.8zM630.4 119.3h1.8v1.8h-1.8zM657.5 122h1.8v1.8h-1.8zM661.8 120.3h1.8v1.8h-1.8zM656.2 129.8h1.8v1.8h-1.8zM643.4 123.9h1.8v1.8h-1.8zM646 131.6h1.8v1.8h-1.8zM620.1 125.4h1.8v1.8h-1.8zM644.2 119.7h1.8v1.8h-1.8zM650.5 128.8h1.8v1.8h-1.8zM659.3 124.8h1.8v1.8h-1.8zM648.3 126h1.8v1.8h-1.8zM640.2 122.5h1.8v1.8h-1.8zM633.4 115.4h1.8v1.8h-1.8zM645.4 120.8h1.8v1.8h-1.8zM648.2 119.5h1.8v1.8h-1.8zM664.4 134h1.8v1.8h-1.8zM646.3 125.5h1.8v1.8h-1.8zM638.5 116.2h1.8v1.8h-1.8zM644.5 129.4h1.8v1.8h-1.8zM638.8 126.1h1.8v1.8h-1.8zM642.6 130.3h1.8v1.8h-1.8zM612.7 112.2h1.8v1.8h-1.8zM622 126.2h1.8v1.8h-1.8zM628.1 128.4h1.8v1.8h-1.8zM653.2 117.8h1.8v1.8h-1.8zM644.9 114h1.8v1.8h-1.8zM648.3 118.8h1.8v1.8h-1.8zM663.7 115h1.8v1.8h-1.8zM630.4 121h1.8v1.8h-1.8zM663.4 123.7h1.8v1.8h-1.8zM651.9 126.1h1.8v1.8h-1.8zM635.3 126.7h1.8v1.8h-1.8zM668.6 127.4h1.8v1.8h-1.8zM624.6 119.8h1.8v1.8h-1.8zM629.1 123.6h1.8v1.8h-1.8zM643 122h1.8v1.8h-1.8zM652.2 117.9h1.8v1.8h-1.8zM643.2 123.1h1.8v1.8h-1.8zM613.8 133.4h1.8v1.8h-1.8zM641.6 128.9h1.8v1.8h-1.8zM644.8 131.5h1.8v1.8h-1.8zM684.5 137.6h1.8v1.8h-1.8zM666.8 121.9h1.8v1.8h-1.8zM648 132.1h1.8v1.8h-1.8zM629.6 132.7h1.8v1.8h-1.8zM651.3 131.1h1.8v1.8h-1.8zM628.5 115.8h1.8v1.8h-1.8zM649.1 125.1h1.8v1.8h-1.8zM651.6 114.8h1.8v1.8h-1.8zM640 123.4h1.8v1.8h-1.8zM649.9 126.1h1.8v1.8h-1.8zM641.1 118.3h1.8v1.8h-1.8zM637.5 118h1.8v1.8h-1.8zM669.2 121.8h1.8v1.8h-1.8zM654.8 130.8h1.8v1.8h-1.8zM641.4 126.3h1.8v1.8h-1.8zM634.5 132h1.8v1.8h-1.8zM648.8 124.7h1.8v1.8h-1.8zM654.6 122h1.8v1.8h-1.8zM658.9 111.1h1.8v1.8h-1.8zM668.3 111.6h1.8v1.8h-1.8zM653 117.4h1.8v1.8h-1.8zM629.2 115.2h1.8v1.8h-1.8zM676.7 120.9h1.8v1.8h-1.8zM663.6 100.9h1.8v1.8h-1.8zM658.6 110.7h1.8v1.8h-1.8zM666.2 101.9h1.8v1.8h-1.8zM623.6 119.7h1.8v1.8h-1.8zM640.4 119.5h1.8v1.8h-1.8zM638.4 114.4h1.8v1.8h-1.8zM664 121.2h1.8v1.8h-1.8zM628.3 120.3h1.8v1.8h-1.8zM641.2 130.5h1.8v1.8h-1.8zM668.9 115.3h1.8v1.8h-1.8zM655.8 121.7h1.8v1.8h-1.8zM640.3 116.4h1.8v1.8h-1.8zM674.4 124.5h1.8v1.8h-1.8zM626 136.7h1.8v1.8h-1.8zM652.9 118.8h1.8v1.8h-1.8zM642.6 113.6h1.8v1.8h-1.8zM653.7 132.8h1.8v1.8h-1.8zM641.9 130.4h1.8v1.8h-1.8zM633.4 125.1h1.8v1.8h-1.8zM649.2 124.7h1.8v1.8h-1.8zM626.2 136.1h1.8v1.8h-1.8zM654 108.9h1.8v1.8h-1.8zM641.2 114.8h1.8v1.8h-1.8zM659.9 127.6h1.8v1.8h-1.8zM639.3 137h1.8v1.8h-1.8zM635.9 119.9h1.8v1.8h-1.8zM652 107.1h1.8v1.8h-1.8zM664.6 116.2h1.8v1.8h-1.8zM614.8 113.7h1.8v1.8h-1.8zM647.8 130.1h1.8v1.8h-1.8zM655.4 120.9h1.8v1.8h-1.8zM624.6 134.5h1.8v1.8h-1.8zM632.8 107.2h1.8v1.8h-1.8zM655.7 118.3h1.8v1.8h-1.8zM633.6 139.3h1.8v1.8h-1.8zM636.4 137.3h1.8v1.8h-1.8zM671.9 119h1.8v1.8h-1.8zM631.8 121.7h1.8v1.8h-1.8zM633 125.2h1.8v1.8h-1.8zM611.2 117.9h1.8v1.8h-1.8zM629.5 107h1.8v1.8h-1.8zM627.5 119.9h1.8v1.8h-1.8zM671.8 136.9h1.8v1.8h-1.8zM664.3 124h1.8v1.8h-1.8zM626.9 133.1h1.8v1.8h-1.8zM675.6 129.1h1.8v1.8h-1.8zM657.6 120.2h1.8v1.8h-1.8zM643.3 124.1h1.8v1.8h-1.8zM658.2 131.1h1.8v1.8h-1.8zM651.7 123h1.8v1.8h-1.8zM634.5 129.2h1.8v1.8h-1.8zM619.5 118.6h1.8v1.8h-1.8zM632.3 124.7h1.8v1.8h-1.8zM645.9 119.7h1.8v1.8h-1.8zM640.6 124.9h1.8v1.8h-1.8zM634.8 116.9h1.8v1.8h-1.8zM660.6 123.9h1.8v1.8h-1.8zM629.9 122.9h1.8v1.8h-1.8zM659.4 127.2h1.8v1.8h-1.8zM638.7 121.7h1.8v1.8h-1.8zM647.6 136.7h1.8v1.8h-1.8zM629.1 101.8h1.8v1.8h-1.8zM645.8 128.2h1.8v1.8h-1.8zM634.2 122h1.8v1.8h-1.8zM619.7 126.5h1.8v1.8h-1.8zM645.7 126.7h1.8v1.8h-1.8zM645.2 119.7h1.8v1.8h-1.8zM658.4 126.8h1.8v1.8h-1.8zM650.2 126.2h1.8v1.8h-1.8zM630.7 133.7h1.8v1.8h-1.8zM636.7 130.1h1.8v1.8h-1.8zM608.5 132h1.8v1.8h-1.8zM629.1 108.7h1.8v1.8h-1.8zM665.5 133.3h1.8v1.8h-1.8zM668.8 131.3h1.8v1.8h-1.8zM657.4 121.3h1.8v1.8h-1.8zM650.5 111.6h1.8v1.8h-1.8zM654.8 136.2h1.8v1.8h-1.8zM653.3 135h1.8v1.8h-1.8zM619.8 121.9h1.8v1.8h-1.8zM632.8 120.2h1.8v1.8h-1.8zM663.8 134h1.8v1.8h-1.8zM663.7 137h1.8v1.8h-1.8zM649.5 130.4h1.8v1.8h-1.8zM641.3 117h1.8v1.8h-1.8zM640.1 123.2h1.8v1.8h-1.8zM637.7 117h1.8v1.8h-1.8zM632 123.7h1.8v1.8h-1.8zM616.9 123.1h1.8v1.8h-1.8zM648.2 118.1h1.8v1.8h-1.8zM639.1 123.8h1.8v1.8h-1.8zM642.7 121h1.8v1.8h-1.8zM671.8 130h1.8v1.8h-1.8zM654.8 127.6h1.8v1.8h-1.8zM635.3 119.2h1.8v1.8h-1.8zM654.7 124.8h1.8v1.8h-1.8zM623.2 128.8h1.8v1.8h-1.8zM661.8 117.7h1.8v1.8h-1.8zM649.9 118.6h1.8v1.8h-1.8zM643 123h1.8v1.8h-1.8zM654.5 128.9h1.8v1.8h-1.8zM667.9 115.8h1.8v1.8h-1.8zM638.9 103.3h1.8v1.8h-1.8zM631 129.4h1.8v1.8h-1.8zM677.8 135h1.8v1.8h-1.8zM646.1 129h1.8v1.8h-1.8zM668.5 130.2h1.8v1.8h-1.8zM635.7 132.8h1.8v1.8h-1.8zM651.6 132.2h1.8v1.8h-1.8zM636.2 116.2h1.8v1.8h-1.8zM655.5 116.2h1.8v1.8h-1.8zM641.7 111.3h1.8v1.8h-1.8zM635.8 117h1.8v1.8h-1.8zM669.3 126.7h1.8v1.8h-1.8zM651 114.4h1.8v1.8h-1.8zM615.2 127.7h1.8v1.8h-1.8zM642.3 125.7h1.8v1.8h-1.8zM632 132.1h1.8v1.8h-1.8zM627.5 113.3h1.8v1.8h-1.8zM637.1 115h1.8v1.8h-1.8zM638.7 126.6h1.8v1.8h-1.8zM646.4 125.4h1.8v1.8h-1.8zM633.9 122.7h1.8v1.8h-1.8zM617.7 121.4h1.8v1.8h-1.8zM637.8 116.3h1.8v1.8h-1.8zM659.2 122.4h1.8v1.8h-1.8zM625.2 119.8h1.8v1.8h-1.8zM655.2 134.7h1.8v1.8h-1.8zM652.8 125.3h1.8v1.8h-1.8zM639.1 137h1.8v1.8h-1.8zM650.6 108.9h1.8v1.8h-1.8zM634.5 112h1.8v1.8h-1.8zM639.8 117.3h1.8v1.8h-1.8zM630.4 114.2h1.8v1.8h-1.8zM652.9 107.2h1.8v1.8h-1.8zM666.6 115.6h1.8v1.8h-1.8zM635.6 135.5h1.8v1.8h-1.8zM664 124.6h1.8v1.8h-1.8zM613.5 141.5h1.8v1.8h-1.8zM632.4 129.4h1.8v1.8h-1.8zM630.5 132.7h1.8v1.8h-1.8zM672 123h1.8v1.8h-1.8zM636.9 119.9h1.8v1.8h-1.8zM657.7 130.3h1.8v1.8h-1.8zM614.8 125.2h1.8v1.8h-1.8zM647.6 120.8h1.8v1.8h-1.8zM654.4 124.2h1.8v1.8h-1.8zM645.3 124.4h1.8v1.8h-1.8zM604.5 141.9h1.8v1.8h-1.8zM648.5 126.5h1.8v1.8h-1.8zM658.2 116.8h1.8v1.8h-1.8zM665.9 121h1.8v1.8h-1.8zM651.9 134.7h1.8v1.8h-1.8zM620.2 125.2h1.8v1.8h-1.8zM642.7 120.9h1.8v1.8h-1.8zM659.6 130.7h1.8v1.8h-1.8zM633.4 117.7h1.8v1.8h-1.8zM654.4 129.3h1.8v1.8h-1.8zM638.6 125.6h1.8v1.8h-1.8zM647.2 123.9h1.8v1.8h-1.8zM657.4 105.5h1.8v1.8h-1.8zM635.1 125.5h1.8v1.8h-1.8zM689.4 127.5h1.8v1.8h-1.8zM648.1 117.4h1.8v1.8h-1.8zM651.1 126.7h1.8v1.8h-1.8zM634.5 121.5h1.8v1.8h-1.8zM646.8 140.7h1.8v1.8h-1.8zM641.8 120.7h1.8v1.8h-1.8zM623.6 123.2h1.8v1.8h-1.8zM622.5 133.2h1.8v1.8h-1.8zM650.2 112.4h1.8v1.8h-1.8zM644.5 124.9h1.8v1.8h-1.8zM605.7 124.6h1.8v1.8h-1.8zM613.1 133.4h1.8v1.8h-1.8zM641.1 135.8h1.8v1.8h-1.8zM644.8 127.5h1.8v1.8h-1.8zM655.1 135h1.8v1.8h-1.8zM626.9 119.2h1.8v1.8h-1.8zM654.9 116.2h1.8v1.8h-1.8zM641.1 128h1.8v1.8h-1.8zM638.1 135.7h1.8v1.8h-1.8zM643.7 126.1h1.8v1.8h-1.8zM660.9 131.4h1.8v1.8h-1.8zM654.3 121.7h1.8v1.8h-1.8zM659.4 121.6h1.8v1.8h-1.8zM635.3 126.4h1.8v1.8h-1.8zM641.5 122.5h1.8v1.8h-1.8zM628.1 114.9h1.8v1.8h-1.8zM637.4 109.7h1.8v1.8h-1.8zM639.8 127.2h1.8v1.8h-1.8zM638.7 117.4h1.8v1.8h-1.8zM656.7 124.9h1.8v1.8h-1.8zM597.6 111.9h1.8v1.8h-1.8zM654.8 119.7h1.8v1.8h-1.8zM633.1 101.9h1.8v1.8h-1.8zM626.9 121.6h1.8v1.8h-1.8zM632.1 100.9h1.8v1.8h-1.8zM619.5 108h1.8v1.8h-1.8zM597.7 96.4h1.8v1.8h-1.8zM666.8 123.9h1.8v1.8h-1.8zM645.4 95h1.8v1.8h-1.8zM629.9 106.2h1.8v1.8h-1.8zM647 86.4h1.8v1.8h-1.8zM654.9 117.3h1.8v1.8h-1.8zM618.6 87.7h1.8v1.8h-1.8zM637.8 101.3h1.8v1.8h-1.8zM615.5 100.3h1.8v1.8h-1.8zM639.2 118.2h1.8v1.8h-1.8zM617.2 103.1h1.8v1.8h-1.8zM682.9 101.7h1.8v1.8h-1.8zM614.7 119.4h1.8v1.8h-1.8zM636 123.3h1.8v1.8h-1.8zM634.7 118.8h1.8v1.8h-1.8zM615.2 92.4h1.8v1.8h-1.8zM646.3 107.8h1.8v1.8h-1.8zM621.4 98.6h1.8v1.8h-1.8zM613.4 106.2h1.8v1.8h-1.8zM623.5 108.3h1.8v1.8h-1.8zM605.1 107h1.8v1.8h-1.8zM652.7 114.5h1.8v1.8h-1.8zM638.7 95.2h1.8v1.8h-1.8zM647.4 107.6h1.8v1.8h-1.8zM590.4 107h1.8v1.8h-1.8zM630 126h1.8v1.8h-1.8zM604.6 106h1.8v1.8h-1.8zM625.5 117.6h1.8v1.8h-1.8zM654.6 115.5h1.8v1.8h-1.8zM629.7 97.4h1.8v1.8h-1.8zM619.1 122.5h1.8v1.8h-1.8zM650.8 112h1.8v1.8h-1.8zM648.1 102.2h1.8v1.8h-1.8zM668.6 96.1h1.8v1.8h-1.8zM578 115.8h1.8v1.8h-1.8zM631.4 105.9h1.8v1.8h-1.8zM613.3 106.3h1.8v1.8h-1.8zM602.1 122.9h1.8v1.8h-1.8zM626.2 134.9h1.8v1.8h-1.8zM595 132.4h1.8v1.8h-1.8zM568.8 102.6h1.8v1.8h-1.8zM601.4 108.4h1.8v1.8h-1.8zM617 125.4h1.8v1.8h-1.8zM669 117.2h1.8v1.8h-1.8zM605.8 114.4h1.8v1.8h-1.8zM594.9 113.9h1.8v1.8h-1.8zM575.1 110h1.8v1.8h-1.8zM614.8 83.6h1.8v1.8h-1.8zM617.6 118.9h1.8v1.8h-1.8zM627.1 108h1.8v1.8h-1.8zM588.1 118.7h1.8v1.8h-1.8zM604.8 117.1h1.8v1.8h-1.8zM568 120h1.8v1.8h-1.8zM627.5 112.4h1.8v1.8h-1.8zM585.1 116.2h1.8v1.8h-1.8zM556.3 105.5h1.8v1.8h-1.8zM651.8 107.1h1.8v1.8h-1.8zM635.8 120.2h1.8v1.8h-1.8zM632 87.1h1.8v1.8h-1.8zM632 123.4h1.8v1.8h-1.8zM598.1 105.5h1.8v1.8h-1.8zM649.7 84.1h1.8v1.8h-1.8zM597.8 118.1h1.8v1.8h-1.8zM670.2 94h1.8v1.8h-1.8zM629 92.9h1.8v1.8h-1.8zM578.4 105.7h1.8v1.8h-1.8zM644.7 131.4h1.8v1.8h-1.8zM671.7 92.9h1.8v1.8h-1.8zM617.2 108.6h1.8v1.8h-1.8zM649.5 116.1h1.8v1.8h-1.8zM618.3 94.6h1.8v1.8h-1.8zM608.1 118.2h1.8v1.8h-1.8zM560.4 97.1h1.8v1.8h-1.8zM653.7 116.1h1.8v1.8h-1.8zM612.6 103.3h1.8v1.8h-1.8zM632.8 122.3h1.8v1.8h-1.8zM595.8 114.3h1.8v1.8h-1.8zM601.3 120.4h1.8v1.8h-1.8zM650.8 118h1.8v1.8h-1.8zM614 107.5h1.8v1.8h-1.8zM613.7 111.7h1.8v1.8h-1.8zM592.7 107.4h1.8v1.8h-1.8zM628.6 94.5h1.8v1.8h-1.8zM642.5 111h1.8v1.8h-1.8zM612.2 131.6h1.8v1.8h-1.8zM618.9 113h1.8v1.8h-1.8zM593.7 108.7h1.8v1.8h-1.8zM657.8 97.7h1.8v1.8h-1.8zM608.4 97.5h1.8v1.8h-1.8zM619.7 98.5h1.8v1.8h-1.8zM664.7 112.3h1.8v1.8h-1.8zM618 102.1h1.8v1.8h-1.8zM585.5 126.6h1.8v1.8h-1.8zM600.9 94.4h1.8v1.8h-1.8zM614.8 104.5h1.8v1.8h-1.8zM667.2 103.7h1.8v1.8h-1.8zM629 114.1h1.8v1.8h-1.8zM618.1 109h1.8v1.8h-1.8zM643.9 117.5h1.8v1.8h-1.8zM655.6 103h1.8v1.8h-1.8zM605 125.3h1.8v1.8h-1.8zM658.8 98.2h1.8v1.8h-1.8zM644.7 103.2h1.8v1.8h-1.8zM634.6 85.8h1.8v1.8h-1.8zM565.6 110.1h1.8v1.8h-1.8zM628.5 110.7h1.8v1.8h-1.8zM657.9 107.4h1.8v1.8h-1.8zM616.9 109.2h1.8v1.8h-1.8zM680.4 110.9h1.8v1.8h-1.8zM625.5 122.6h1.8v1.8h-1.8zM598.7 122.7h1.8v1.8h-1.8zM638.3 116.3h1.8v1.8h-1.8zM630.9 113.1h1.8v1.8h-1.8zM644.2 123.6h1.8v1.8h-1.8zM618.3 123.3h1.8v1.8h-1.8zM655.8 113h1.8v1.8h-1.8zM610.1 100.9h1.8v1.8h-1.8zM627 111.9h1.8v1.8h-1.8zM593.1 101.7h1.8v1.8h-1.8zM604.1 98.2h1.8v1.8h-1.8zM628.8 100.6h1.8v1.8h-1.8zM607.6 114.6h1.8v1.8h-1.8zM612.7 114.4h1.8v1.8h-1.8zM618.7 131.6h1.8v1.8h-1.8zM630 117.7h1.8v1.8h-1.8zM642.7 104.1h1.8v1.8h-1.8zM642.7 122.4h1.8v1.8h-1.8zM649.1 93.7h1.8v1.8h-1.8zM628.9 92.8h1.8v1.8h-1.8zM610.4 114h1.8v1.8h-1.8zM584.7 98.8h1.8v1.8h-1.8zM615.3 126.3h1.8v1.8h-1.8zM604.2 122h1.8v1.8h-1.8zM579.1 114h1.8v1.8h-1.8zM664.5 109.5h1.8v1.8h-1.8zM578.5 111.8h1.8v1.8h-1.8zM632.7 119.8h1.8v1.8h-1.8zM637.6 86.5h1.8v1.8h-1.8zM618.1 106.2h1.8v1.8h-1.8zM687.8 106.3h1.8v1.8h-1.8zM624.4 101.6h1.8v1.8h-1.8zM605 107.6h1.8v1.8h-1.8zM667.4 112.4h1.8v1.8h-1.8zM604.1 116.2h1.8v1.8h-1.8zM588.4 128.9h1.8v1.8h-1.8zM599 92.1h1.8v1.8h-1.8zM608 120.5h1.8v1.8h-1.8zM625 129.2h1.8v1.8h-1.8zM632.2 119.1h1.8v1.8h-1.8zM586.3 128.5h1.8v1.8h-1.8zM632.6 86.2h1.8v1.8h-1.8zM679.2 105.3h1.8v1.8h-1.8zM606.2 93.1h1.8v1.8h-1.8zM620.6 92.5h1.8v1.8h-1.8zM641.1 102.9h1.8v1.8h-1.8zM653.7 102.9h1.8v1.8h-1.8zM607.4 118.1h1.8v1.8h-1.8zM600.1 110.6h1.8v1.8h-1.8zM598.9 116.7h1.8v1.8h-1.8zM651.1 109.1h1.8v1.8h-1.8zM646.2 117.9h1.8v1.8h-1.8zM570.3 94.7h1.8v1.8h-1.8zM570.9 100.6h1.8v1.8h-1.8zM593.2 110.9h1.8v1.8h-1.8zM586.7 129.3h1.8v1.8h-1.8zM634 101.6h1.8v1.8h-1.8zM629.3 99.2h1.8v1.8h-1.8zM672.5 110.4h1.8v1.8h-1.8zM643.6 124.5h1.8v1.8h-1.8zM626.9 104.6h1.8v1.8h-1.8zM653.2 97.3h1.8v1.8h-1.8zM601.8 132.2h1.8v1.8h-1.8zM589.2 103h1.8v1.8h-1.8zM624.7 131h1.8v1.8h-1.8zM647.2 108.7h1.8v1.8h-1.8zM583.7 89.1h1.8v1.8h-1.8zM646.1 108.6h1.8v1.8h-1.8zM645.2 104h1.8v1.8h-1.8zM611.5 113.4h1.8v1.8h-1.8zM628.1 109.7h1.8v1.8h-1.8zM617.1 82h1.8v1.8h-1.8zM625.9 94h1.8v1.8h-1.8zM643.9 113.3h1.8v1.8h-1.8zM604 114.1h1.8v1.8h-1.8zM649.7 109.4h1.8v1.8h-1.8zM645.5 83.8h1.8v1.8h-1.8zM646.4 107.2h1.8v1.8h-1.8zM575 96.6h1.8v1.8h-1.8zM577.7 113.9h1.8v1.8h-1.8zM641.1 124.6h1.8v1.8h-1.8zM609.4 94.1h1.8v1.8h-1.8zM606.8 110.5h1.8v1.8h-1.8zM604.9 118.9h1.8v1.8h-1.8zM590.6 117.8h1.8v1.8h-1.8zM616.8 117.5h1.8v1.8h-1.8zM606 116.8h1.8v1.8h-1.8zM607.6 127.7h1.8v1.8h-1.8zM635.8 95.5h1.8v1.8h-1.8zM594.5 105.1h1.8v1.8h-1.8zM651.8 98.2h1.8v1.8h-1.8zM568.7 113.7h1.8v1.8h-1.8zM686.2 105.6h1.8v1.8h-1.8zM590.1 107.7h1.8v1.8h-1.8zM638.4 95.8h1.8v1.8h-1.8zM646.6 100.1h1.8v1.8h-1.8zM623.8 105.4h1.8v1.8h-1.8zM642.4 117.3h1.8v1.8h-1.8zM621.2 123.7h1.8v1.8h-1.8zM580.1 119h1.8v1.8h-1.8zM632.5 117.1h1.8v1.8h-1.8zM652.3 116h1.8v1.8h-1.8zM610.2 124.1h1.8v1.8h-1.8zM581.7 90.2h1.8v1.8h-1.8zM608.9 106.5h1.8v1.8h-1.8zM632 133.3h1.8v1.8h-1.8zM631.4 122.4h1.8v1.8h-1.8zM651.4 125.4h1.8v1.8h-1.8zM637.8 106.8h1.8v1.8h-1.8zM636.5 97.1h1.8v1.8h-1.8zM574.1 121.2h1.8v1.8h-1.8zM679.3 102.4h1.8v1.8h-1.8zM625.1 112.9h1.8v1.8h-1.8zM645.4 96.2h1.8v1.8h-1.8zM615.3 93.6h1.8v1.8h-1.8zM620.1 106h1.8v1.8h-1.8zM625.4 101.2h1.8v1.8h-1.8zM663.1 109.7h1.8v1.8h-1.8zM661.7 114h1.8v1.8h-1.8zM639.3 123.3h1.8v1.8h-1.8zM673.4 105.8h1.8v1.8h-1.8zM614.1 110.5h1.8v1.8h-1.8zM636.8 114.1h1.8v1.8h-1.8zM612.6 110.5h1.8v1.8h-1.8zM656.2 111.8h1.8v1.8h-1.8zM624.9 121.8h1.8v1.8h-1.8zM648.4 115.8h1.8v1.8h-1.8zM667 96.3h1.8v1.8h-1.8zM572.4 112.4h1.8v1.8h-1.8zM678.1 93.3h1.8v1.8h-1.8zM632 123.1h1.8v1.8h-1.8zM616.1 125.5h1.8v1.8h-1.8zM576.3 108.2h1.8v1.8h-1.8zM616.5 100.6h1.8v1.8h-1.8zM566.7 117.3h1.8v1.8h-1.8zM626.3 102.3h1.8v1.8h-1.8zM619.8 98.7h1.8v1.8h-1.8zM669.6 97.1h1.8v1.8h-1.8zM615.9 110.9h1.8v1.8h-1.8zM650.9 110.2h1.8v1.8h-1.8zM653.2 128.9h1.8v1.8h-1.8zM675.7 109.4h1.8v1.8h-1.8zM617.9 106.4h1.8v1.8h-1.8zM643.1 93.1h1.8v1.8h-1.8zM586.2 124.5h1.8v1.8h-1.8zM596.4 119.5h1.8v1.8h-1.8zM617.3 121.3h1.8v1.8h-1.8zM623.6 99.2h1.8v1.8h-1.8zM593.8 139.2h1.8v1.8h-1.8zM613.9 122.3h1.8v1.8h-1.8zM641.7 85.6h1.8v1.8h-1.8zM612.8 102h1.8v1.8h-1.8zM620.3 125.1h1.8v1.8h-1.8zM601.9 110.3h1.8v1.8h-1.8zM658.8 99.8h1.8v1.8h-1.8zM668.8 103.2h1.8v1.8h-1.8zM629.4 112.2h1.8v1.8h-1.8zM621.4 118.9h1.8v1.8h-1.8zM665.9 99.9h1.8v1.8h-1.8zM636.2 109.7h1.8v1.8h-1.8zM607.5 100.2h1.8v1.8h-1.8zM590.5 105h1.8v1.8h-1.8zM609.5 115.1h1.8v1.8h-1.8zM679.3 92.8h1.8v1.8h-1.8zM609.4 115.5h1.8v1.8h-1.8zM696.7 104.6h1.8v1.8h-1.8zM624.2 117h1.8v1.8h-1.8zM618.9 112.3h1.8v1.8h-1.8zM657.4 112.5h1.8v1.8h-1.8zM618.2 117.3h1.8v1.8h-1.8zM633.8 106.9h1.8v1.8h-1.8zM598.2 94.4h1.8v1.8h-1.8zM593.1 88h1.8v1.8h-1.8zM605.8 92.9h1.8v1.8h-1.8zM629.9 111.6h1.8v1.8h-1.8zM607.7 92.7h1.8v1.8h-1.8zM575.1 104.8h1.8v1.8h-1.8zM636.3 88.7h1.8v1.8h-1.8zM620.2 124.3h1.8v1.8h-1.8zM617.3 92.4h1.8v1.8h-1.8zM609 116.6h1.8v1.8h-1.8zM567.9 96.2h1.8v1.8h-1.8zM664.2 115.1h1.8v1.8h-1.8zM612.3 99h1.8v1.8h-1.8zM637.6 112.9h1.8v1.8h-1.8zM659.3 131.5h1.8v1.8h-1.8zM652.7 120.9h1.8v1.8h-1.8zM629.4 112.4h1.8v1.8h-1.8zM624.6 109.4h1.8v1.8h-1.8zM632.1 135.7h1.8v1.8h-1.8zM647.1 123.6h1.8v1.8h-1.8zM638.9 118.1h1.8v1.8h-1.8zM613.2 112.1h1.8v1.8h-1.8zM635.7 107.1h1.8v1.8h-1.8zM633.9 119.2h1.8v1.8h-1.8zM641.8 127.3h1.8v1.8h-1.8zM629.5 106.1h1.8v1.8h-1.8zM658.8 113.5h1.8v1.8h-1.8zM629.4 99.3h1.8v1.8h-1.8zM646.7 115.7h1.8v1.8h-1.8zM625.5 102.1h1.8v1.8h-1.8zM610 120h1.8v1.8h-1.8zM600.7 106.5h1.8v1.8h-1.8zM620.4 108.6h1.8v1.8h-1.8zM637.8 104.4h1.8v1.8h-1.8zM656.2 120.5h1.8v1.8h-1.8zM622.2 111.1h1.8v1.8h-1.8zM611.4 119.5h1.8v1.8h-1.8zM611.7 111.5h1.8v1.8h-1.8zM656.8 102.4h1.8v1.8h-1.8zM627.1 75h1.8v1.8h-1.8zM611.9 109.2h1.8v1.8h-1.8zM643 101.3h1.8v1.8h-1.8zM591.3 108.3h1.8v1.8h-1.8zM627.3 96.5h1.8v1.8h-1.8zM623.3 104.3h1.8v1.8h-1.8zM621.1 97.5h1.8v1.8h-1.8zM595.5 105.5h1.8v1.8h-1.8zM649 81.8h1.8v1.8h-1.8zM666.6 93.6h1.8v1.8h-1.8zM591.2 129.4h1.8v1.8h-1.8zM627.4 106.1h1.8v1.8h-1.8zM640.6 108.7h1.8v1.8h-1.8zM681 135.2h1.8v1.8h-1.8zM614 119.6h1.8v1.8h-1.8zM600.7 115h1.8v1.8h-1.8zM624.3 118.1h1.8v1.8h-1.8zM674.9 108.1h1.8v1.8h-1.8zM626.2 130.4h1.8v1.8h-1.8zM631.1 101h1.8v1.8h-1.8zM668.9 100.6h1.8v1.8h-1.8zM570.9 105.5h1.8v1.8h-1.8zM570.1 113.4h1.8v1.8h-1.8zM647.2 109.5h1.8v1.8h-1.8zM643.9 115h1.8v1.8h-1.8zM589.7 96.3h1.8v1.8h-1.8zM637.4 103.7h1.8v1.8h-1.8zM625.5 86.5h1.8v1.8h-1.8zM629.9 113.8h1.8v1.8h-1.8zM604.3 92.8h1.8v1.8h-1.8zM613.1 116.3h1.8v1.8h-1.8zM602.5 111.6h1.8v1.8h-1.8zM625.7 121.7h1.8v1.8h-1.8zM618.6 103.5h1.8v1.8h-1.8zM666.6 110.3h1.8v1.8h-1.8zM640.2 102.4h1.8v1.8h-1.8zM585 92.3h1.8v1.8h-1.8zM634.9 110.2h1.8v1.8h-1.8zM660.3 105.2h1.8v1.8h-1.8zM631.5 99.2h1.8v1.8h-1.8zM651.7 110.3h1.8v1.8h-1.8zM623.6 115.9h1.8v1.8h-1.8zM642.1 105.4h1.8v1.8h-1.8zM601 103.7h1.8v1.8h-1.8zM644.2 100.5h1.8v1.8h-1.8zM589.9 99.9h1.8v1.8h-1.8zM656.8 117.3h1.8v1.8h-1.8zM586.5 104.4h1.8v1.8h-1.8zM571.4 95.3h1.8v1.8h-1.8zM637.7 114.9h1.8v1.8h-1.8zM620.1 105.4h1.8v1.8h-1.8zM627.3 116.7h1.8v1.8h-1.8zM635.2 107.6h1.8v1.8h-1.8zM623.8 89.5h1.8v1.8h-1.8zM602.3 107.6h1.8v1.8h-1.8zM629.7 120.7h1.8v1.8h-1.8zM633.2 105.6h1.8v1.8h-1.8zM636.8 107.1h1.8v1.8h-1.8zM674.2 96.7h1.8v1.8h-1.8zM606 125.4h1.8v1.8h-1.8zM626.1 120.2h1.8v1.8h-1.8zM638.5 110.5h1.8v1.8h-1.8zM613.2 127.5h1.8v1.8h-1.8zM594.4 96.4h1.8v1.8h-1.8zM610.2 133h1.8v1.8h-1.8zM651.1 119.2h1.8v1.8h-1.8zM617.7 126.6h1.8v1.8h-1.8zM639.8 117.1h1.8v1.8h-1.8zM606 100.3h1.8v1.8h-1.8zM635.6 102.6h1.8v1.8h-1.8zM607.5 98.8h1.8v1.8h-1.8zM603.3 102.6h1.8v1.8h-1.8zM627.3 133h1.8v1.8h-1.8zM625.7 106.1h1.8v1.8h-1.8zM661.4 130.9h1.8v1.8h-1.8zM583.7 115.4h1.8v1.8h-1.8zM637.2 114.1h1.8v1.8h-1.8zM664.8 115.8h1.8v1.8h-1.8zM658.6 103.9h1.8v1.8h-1.8zM614.8 118.9h1.8v1.8h-1.8zM607.4 89.5h1.8v1.8h-1.8zM612 102.6h1.8v1.8h-1.8zM632 95.9h1.8v1.8h-1.8zM629.2 100.8h1.8v1.8h-1.8zM633.2 99.2h1.8v1.8h-1.8zM639.4 110h1.8v1.8h-1.8zM597.6 86.9h1.8v1.8h-1.8zM596.2 121.7h1.8v1.8h-1.8zM593.7 104.2h1.8v1.8h-1.8zM590.8 109.5h1.8v1.8h-1.8zM622 112.1h1.8v1.8h-1.8zM632.2 105.9h1.8v1.8h-1.8zM687.9 118.2h1.8v1.8h-1.8zM637.8 99.5h1.8v1.8h-1.8zM624.9 100.5h1.8v1.8h-1.8zM660 108.4h1.8v1.8h-1.8zM606 101h1.8v1.8h-1.8zM633 121.5h1.8v1.8h-1.8zM648.9 130.4h1.8v1.8h-1.8zM644.2 116.2h1.8v1.8h-1.8zM634.6 112.3h1.8v1.8h-1.8zM615.7 80.7h1.8v1.8h-1.8zM593.3 112.2h1.8v1.8h-1.8zM620.6 97.6h1.8v1.8h-1.8zM609.5 99.8h1.8v1.8h-1.8zM641.7 85.2h1.8v1.8h-1.8zM621 108.2h1.8v1.8h-1.8zM638.5 102h1.8v1.8h-1.8zM584.1 111.8h1.8v1.8h-1.8zM648.8 119.5h1.8v1.8h-1.8zM603.1 121.1h1.8v1.8h-1.8zM585.3 118.6h1.8v1.8h-1.8zM590 93h1.8v1.8h-1.8zM608.7 106.2h1.8v1.8h-1.8zM652.6 111.3h1.8v1.8h-1.8zM642.3 109.3h1.8v1.8h-1.8zM595 116.1h1.8v1.8h-1.8zM626.6 109.9h1.8v1.8h-1.8zM621.8 110h1.8v1.8h-1.8zM585.2 102h1.8v1.8h-1.8zM599.6 99h1.8v1.8h-1.8zM573.4 128.4h1.8v1.8h-1.8zM602.6 106.9h1.8v1.8h-1.8zM558 93.7h1.8v1.8h-1.8zM604.5 121.3h1.8v1.8h-1.8zM601 112.4h1.8v1.8h-1.8zM604.5 107.6h1.8v1.8h-1.8zM603.8 96.8h1.8v1.8h-1.8zM653.4 102.6h1.8v1.8h-1.8zM615.7 112.1h1.8v1.8h-1.8zM630.5 103.8h1.8v1.8h-1.8zM643.3 97.6h1.8v1.8h-1.8zM647 105h1.8v1.8h-1.8zM641.5 88.1h1.8v1.8h-1.8zM610.6 104.6h1.8v1.8h-1.8zM597 121.6h1.8v1.8h-1.8zM605 118.6h1.8v1.8h-1.8zM612.6 111.1h1.8v1.8h-1.8zM624.6 111.9h1.8v1.8h-1.8zM622.3 102.3h1.8v1.8h-1.8zM651.9 105.4h1.8v1.8h-1.8zM621.9 89.7h1.8v1.8h-1.8zM669.3 100.1h1.8v1.8h-1.8zM650.2 92.4h1.8v1.8h-1.8zM612.4 118.3h1.8v1.8h-1.8zM646 114.4h1.8v1.8h-1.8zM552.5 101.6h1.8v1.8h-1.8zM658.9 108.4h1.8v1.8h-1.8zM634.7 102.3h1.8v1.8h-1.8zM634.4 106.6h1.8v1.8h-1.8zM582.3 116.6h1.8v1.8h-1.8zM687.5 89.8h1.8v1.8h-1.8zM618.1 96.3h1.8v1.8h-1.8zM620.9 127.4h1.8v1.8h-1.8zM652.6 116.6h1.8v1.8h-1.8zM555.2 126.9h1.8v1.8h-1.8zM535.1 122.9h1.8v1.8h-1.8zM500.6 112.4h1.8v1.8h-1.8zM559.3 118.1h1.8v1.8h-1.8zM531.5 103.1h1.8v1.8h-1.8zM569.2 119.1h1.8v1.8h-1.8zM545.1 104.3h1.8v1.8h-1.8zM563.8 111h1.8v1.8h-1.8zM559.4 95.5h1.8v1.8h-1.8zM560.7 121.9h1.8v1.8h-1.8zM523.5 123h1.8v1.8h-1.8zM564.6 108.4h1.8v1.8h-1.8zM542.6 127.4h1.8v1.8h-1.8zM503.8 126.9h1.8v1.8h-1.8zM526.6 119.4h1.8v1.8h-1.8zM528.1 118.1h1.8v1.8h-1.8zM549.7 136.6h1.8v1.8h-1.8zM555.4 119.3h1.8v1.8h-1.8zM507.4 125.2h1.8v1.8h-1.8zM556.5 122.2h1.8v1.8h-1.8zM535.4 120.1h1.8v1.8h-1.8zM509 123.9h1.8v1.8h-1.8zM559.4 110.7h1.8v1.8h-1.8zM516.9 116.8h1.8v1.8h-1.8zM505.3 123.8h1.8v1.8h-1.8zM557.4 121.1h1.8v1.8h-1.8zM561.2 111h1.8v1.8h-1.8zM519.6 113.6h1.8v1.8h-1.8zM565.4 108.6h1.8v1.8h-1.8zM564 123.2h1.8v1.8h-1.8zM523.4 120.4h1.8v1.8h-1.8zM590.6 100.8h1.8v1.8h-1.8zM535.7 122.2h1.8v1.8h-1.8zM543.3 104.2h1.8v1.8h-1.8zM473.6 112.9h1.8v1.8h-1.8zM554.2 126.2h1.8v1.8h-1.8zM520.8 136.3h1.8v1.8h-1.8zM549.1 115.1h1.8v1.8h-1.8zM491.7 129.1h1.8v1.8h-1.8zM568.2 129.1h1.8v1.8h-1.8zM576.2 139.7h1.8v1.8h-1.8zM587.7 109.3h1.8v1.8h-1.8zM458.5 120.6h1.8v1.8h-1.8zM553 121.4h1.8v1.8h-1.8zM546.6 117.6h1.8v1.8h-1.8zM456.8 119.1h1.8v1.8h-1.8zM517.9 120.7h1.8v1.8h-1.8zM535.2 116.3h1.8v1.8h-1.8zM575.4 124.5h1.8v1.8h-1.8zM515.2 148.5h1.8v1.8h-1.8zM543 114h1.8v1.8h-1.8zM536 117.2h1.8v1.8h-1.8zM547.3 121.4h1.8v1.8h-1.8zM526.9 105.1h1.8v1.8h-1.8zM561.4 136.2h1.8v1.8h-1.8zM563.5 151.8h1.8v1.8h-1.8zM501.2 106.2h1.8v1.8h-1.8zM567.5 117.3h1.8v1.8h-1.8zM517.7 138.7h1.8v1.8h-1.8zM530.3 125.9h1.8v1.8h-1.8zM567.6 115.2h1.8v1.8h-1.8zM540.3 134.3h1.8v1.8h-1.8zM553 115.9h1.8v1.8h-1.8zM558.7 99.6h1.8v1.8h-1.8zM553.7 107.2h1.8v1.8h-1.8zM523.4 122h1.8v1.8h-1.8zM512.3 118.3h1.8v1.8h-1.8zM555.9 131.5h1.8v1.8h-1.8zM558 120.3h1.8v1.8h-1.8zM547.3 125.1h1.8v1.8h-1.8zM532.8 132h1.8v1.8h-1.8zM560.7 135.6h1.8v1.8h-1.8zM537.1 101.6h1.8v1.8h-1.8zM501.3 120.7h1.8v1.8h-1.8zM545.4 132.3h1.8v1.8h-1.8zM551.3 126h1.8v1.8h-1.8zM558.5 106.2h1.8v1.8h-1.8zM514.1 104.8h1.8v1.8h-1.8zM517.9 128h1.8v1.8h-1.8zM546.8 119.6h1.8v1.8h-1.8zM592.2 199.8h1.8v1.8h-1.8zM578.2 182.9h1.8v1.8h-1.8zM568.7 236h1.8v1.8h-1.8zM571 246.9h1.8v1.8h-1.8zM582.2 178.4h1.8v1.8h-1.8zM573.3 186.1h1.8v1.8h-1.8zM567.4 179.9h1.8v1.8h-1.8zM579.4 232.2h1.8v1.8h-1.8zM592.7 212.6h1.8v1.8h-1.8zM589.9 201.7h1.8v1.8h-1.8zM579.5 196.3h1.8v1.8h-1.8zM603.8 210.5h1.8v1.8h-1.8zM573.1 208.7h1.8v1.8h-1.8zM581.2 181.8h1.8v1.8h-1.8zM566.6 218.5h1.8v1.8h-1.8zM590.9 221.3h1.8v1.8h-1.8zM580.7 218.4h1.8v1.8h-1.8zM562.9 220.4h1.8v1.8h-1.8zM572.7 204.2h1.8v1.8h-1.8zM602.5 212.8h1.8v1.8h-1.8zM590.3 218.6h1.8v1.8h-1.8zM583.3 171.5h1.8v1.8h-1.8zM591.9 199.9h1.8v1.8h-1.8zM563.9 216h1.8v1.8h-1.8zM572.6 175.6h1.8v1.8h-1.8zM567 221.4h1.8v1.8h-1.8zM572.6 207.5h1.8v1.8h-1.8zM577.7 209.8h1.8v1.8h-1.8zM588.1 222h1.8v1.8h-1.8zM593.5 217.2h1.8v1.8h-1.8zM593.2 205.4h1.8v1.8h-1.8zM612.6 243.6h1.8v1.8h-1.8zM576.4 217.3h1.8v1.8h-1.8zM581.8 201.2h1.8v1.8h-1.8zM587.8 200.5h1.8v1.8h-1.8zM572.6 200h1.8v1.8h-1.8zM578.7 148.6h1.8v1.8h-1.8zM586.7 190.8h1.8v1.8h-1.8zM572 211.1h1.8v1.8h-1.8zM587.4 210.5h1.8v1.8h-1.8zM595.9 207.5h1.8v1.8h-1.8zM569.3 196.6h1.8v1.8h-1.8zM556 214.9h1.8v1.8h-1.8zM582.9 169.7h1.8v1.8h-1.8zM570.1 235.2h1.8v1.8h-1.8zM583.9 191.7h1.8v1.8h-1.8zM576.9 194.9h1.8v1.8h-1.8zM585.4 236.1h1.8v1.8h-1.8zM594.8 191.8h1.8v1.8h-1.8zM591.2 193.6h1.8v1.8h-1.8zM577.9 223.5h1.8v1.8h-1.8zM568.6 149.6h1.8v1.8h-1.8zM553.7 189.7h1.8v1.8h-1.8zM557.2 215.7h1.8v1.8h-1.8zM572.9 219.5h1.8v1.8h-1.8zM583 226.1h1.8v1.8h-1.8zM574.2 201.1h1.8v1.8h-1.8zM575 206h1.8v1.8h-1.8zM563.6 242.8h1.8v1.8h-1.8zM563 233.5h1.8v1.8h-1.8zM562.1 225.4h1.8v1.8h-1.8zM588.8 217.6h1.8v1.8h-1.8zM559.1 216.6h1.8v1.8h-1.8zM589.3 224.2h1.8v1.8h-1.8zM571.3 191.6h1.8v1.8h-1.8zM587.6 183.9h1.8v1.8h-1.8zM584.2 205.7h1.8v1.8h-1.8zM595 211.5h1.8v1.8h-1.8zM572.5 193.6h1.8v1.8h-1.8zM570.3 209.6h1.8v1.8h-1.8zM576.3 200.8h1.8v1.8h-1.8zM572.5 205h1.8v1.8h-1.8zM588.8 244.7h1.8v1.8h-1.8zM581.2 192.1h1.8v1.8h-1.8zM585.9 220.6h1.8v1.8h-1.8zM575.8 197.2h1.8v1.8h-1.8zM593.6 215.1h1.8v1.8h-1.8zM560.2 211.8h1.8v1.8h-1.8zM583.7 173.5h1.8v1.8h-1.8zM586.7 237.4h1.8v1.8h-1.8zM572.3 207.8h1.8v1.8h-1.8zM573.1 234.8h1.8v1.8h-1.8zM591.3 205.8h1.8v1.8h-1.8zM577.4 195.7h1.8v1.8h-1.8zM559.1 191.4h1.8v1.8h-1.8zM565.6 203.8h1.8v1.8h-1.8zM592.4 241.9h1.8v1.8h-1.8zM570.9 201.5h1.8v1.8h-1.8zM595.9 185.4h1.8v1.8h-1.8zM596.6 182.8h1.8v1.8h-1.8zM578.7 154.3h1.8v1.8h-1.8zM587.1 193.6h1.8v1.8h-1.8zM571.5 232.9h1.8v1.8h-1.8zM576.3 220.5h1.8v1.8h-1.8zM573 205.5h1.8v1.8h-1.8zM587.6 181.5h1.8v1.8h-1.8zM566.3 236h1.8v1.8h-1.8zM579.4 184.9h1.8v1.8h-1.8zM581.5 191.4h1.8v1.8h-1.8zM586.8 229.2h1.8v1.8h-1.8zM556.7 192.5h1.8v1.8h-1.8zM560.5 226.6h1.8v1.8h-1.8zM570.8 207.7h1.8v1.8h-1.8zM578.3 215.1h1.8v1.8h-1.8zM582.4 201.7h1.8v1.8h-1.8zM583 236.9h1.8v1.8h-1.8zM603.8 194.5h1.8v1.8h-1.8zM587.5 217.7h1.8v1.8h-1.8zM575.3 221.6h1.8v1.8h-1.8zM589.7 168.4h1.8v1.8h-1.8zM588.7 194.2h1.8v1.8h-1.8zM588.4 219.7h1.8v1.8h-1.8zM579.5 229.8h1.8v1.8h-1.8zM587.9 206.7h1.8v1.8h-1.8zM598.2 223.2h1.8v1.8h-1.8zM571.7 152h1.8v1.8h-1.8zM590.1 206h1.8v1.8h-1.8zM578.1 181.8h1.8v1.8h-1.8zM575.7 227.6h1.8v1.8h-1.8zM612.2 167.7h1.8v1.8h-1.8zM575.5 221.1h1.8v1.8h-1.8zM566.9 180.7h1.8v1.8h-1.8zM575.3 202.5h1.8v1.8h-1.8zM586.5 178.2h1.8v1.8h-1.8zM573.8 207h1.8v1.8h-1.8zM584.2 225.6h1.8v1.8h-1.8zM575.9 246.3h1.8v1.8h-1.8zM582.2 184h1.8v1.8h-1.8zM580.3 194.2h1.8v1.8h-1.8zM568.6 207.4h1.8v1.8h-1.8zM581.5 196.3h1.8v1.8h-1.8zM567.5 202.7h1.8v1.8h-1.8zM591.3 221.8h1.8v1.8h-1.8zM570.1 158.9h1.8v1.8h-1.8zM578 201.6h1.8v1.8h-1.8zM560 212.4h1.8v1.8h-1.8zM575.6 244h1.8v1.8h-1.8zM566.5 223h1.8v1.8h-1.8zM597.7 207.3h1.8v1.8h-1.8zM579.3 212h1.8v1.8h-1.8zM586.6 219.4h1.8v1.8h-1.8zM560.8 208.8h1.8v1.8h-1.8zM566.6 235.5h1.8v1.8h-1.8zM578.8 207.4h1.8v1.8h-1.8zM565.3 246h1.8v1.8h-1.8zM593.7 229h1.8v1.8h-1.8zM576.1 225.9h1.8v1.8h-1.8zM582.4 185.9h1.8v1.8h-1.8zM584.1 195.4h1.8v1.8h-1.8zM579 205.7h1.8v1.8h-1.8zM589.5 236.2h1.8v1.8h-1.8zM573 217.5h1.8v1.8h-1.8zM584.8 187.6h1.8v1.8h-1.8zM594.2 176.4h1.8v1.8h-1.8zM583.1 244.2h1.8v1.8h-1.8zM582.1 218.3h1.8v1.8h-1.8zM576.9 204.9h1.8v1.8h-1.8zM581.3 198.8h1.8v1.8h-1.8zM588.3 207.3h1.8v1.8h-1.8zM577.9 190.9h1.8v1.8h-1.8zM561.6 243.5h1.8v1.8h-1.8zM582.5 168.8h1.8v1.8h-1.8zM578.9 236h1.8v1.8h-1.8zM585.9 206h1.8v1.8h-1.8zM581.1 194.5h1.8v1.8h-1.8zM598.4 178.4h1.8v1.8h-1.8zM567 184.9h1.8v1.8h-1.8zM569.7 185.7h1.8v1.8h-1.8zM588 175.6h1.8v1.8h-1.8zM569 211.2h1.8v1.8h-1.8zM584.3 188.7h1.8v1.8h-1.8zM580.4 169h1.8v1.8h-1.8zM558.4 226.3h1.8v1.8h-1.8zM588.1 242.3h1.8v1.8h-1.8zM596.1 232.4h1.8v1.8h-1.8zM582.9 172.1h1.8v1.8h-1.8zM564.8 176.4h1.8v1.8h-1.8zM589.5 216.2h1.8v1.8h-1.8zM568.9 201.2h1.8v1.8h-1.8zM579.2 195.5h1.8v1.8h-1.8zM585.3 181.1h1.8v1.8h-1.8zM561.5 221.2h1.8v1.8h-1.8zM579 213.8h1.8v1.8h-1.8zM580.1 199.3h1.8v1.8h-1.8zM571 205.3h1.8v1.8h-1.8zM571.8 215.1h1.8v1.8h-1.8zM588.9 200h1.8v1.8h-1.8zM575.3 130.4h1.8v1.8h-1.8zM573.9 186.6h1.8v1.8h-1.8zM582.5 185.1h1.8v1.8h-1.8zM581.6 223.6h1.8v1.8h-1.8zM578.6 196.8h1.8v1.8h-1.8zM564.9 155.8h1.8v1.8h-1.8zM576.4 161.7h1.8v1.8h-1.8zM573.5 205.2h1.8v1.8h-1.8zM581.3 238.1h1.8v1.8h-1.8zM593.5 203h1.8v1.8h-1.8zM591.2 214.6h1.8v1.8h-1.8zM587.7 185.8h1.8v1.8h-1.8zM581.8 239.1h1.8v1.8h-1.8zM576.9 211.8h1.8v1.8h-1.8zM584.3 200.3h1.8v1.8h-1.8zM575.2 218.7h1.8v1.8h-1.8zM576.7 180.6h1.8v1.8h-1.8zM571.1 235.5h1.8v1.8h-1.8zM579.9 238h1.8v1.8h-1.8zM579.7 215.8h1.8v1.8h-1.8zM601.1 186.3h1.8v1.8h-1.8zM586.7 214.6h1.8v1.8h-1.8zM576.3 221.9h1.8v1.8h-1.8zM589.2 186.9h1.8v1.8h-1.8zM575.2 201.4h1.8v1.8h-1.8zM591.8 220.2h1.8v1.8h-1.8zM589.2 203.9h1.8v1.8h-1.8zM612.8 213h1.8v1.8h-1.8zM568.4 191.8h1.8v1.8h-1.8zM579.7 203.4h1.8v1.8h-1.8zM579.2 227h1.8v1.8h-1.8zM583.8 219h1.8v1.8h-1.8zM588.4 217.4h1.8v1.8h-1.8zM569.7 197.7h1.8v1.8h-1.8zM572.4 197.6h1.8v1.8h-1.8zM641.4 194.1h1.8v1.8h-1.8zM647.1 199.4h1.8v1.8h-1.8zM651.4 217.8h1.8v1.8h-1.8zM658.4 203.1h1.8v1.8h-1.8zM650.9 159.5h1.8v1.8h-1.8zM665.8 193.1h1.8v1.8h-1.8zM648.9 158.9h1.8v1.8h-1.8zM655.2 203.9h1.8v1.8h-1.8zM645.9 187.3h1.8v1.8h-1.8zM640 195.3h1.8v1.8h-1.8zM649.7 191.1h1.8v1.8h-1.8zM653 169.3h1.8v1.8h-1.8zM651.6 229.1h1.8v1.8h-1.8zM650 169.9h1.8v1.8h-1.8zM645.8 170.9h1.8v1.8h-1.8zM641.5 185.5h1.8v1.8h-1.8zM646.1 184h1.8v1.8h-1.8zM652.8 190.3h1.8v1.8h-1.8zM657.1 170.9h1.8v1.8h-1.8zM619.8 184.3h1.8v1.8h-1.8zM654.1 203.5h1.8v1.8h-1.8zM658.2 182.4h1.8v1.8h-1.8zM659.8 165.4h1.8v1.8h-1.8zM652.1 177.7h1.8v1.8h-1.8zM654.6 184.9h1.8v1.8h-1.8zM644.8 181.2h1.8v1.8h-1.8zM647.9 196.1h1.8v1.8h-1.8zM653.3 195.3h1.8v1.8h-1.8zM639.1 225.4h1.8v1.8h-1.8zM641.8 189.5h1.8v1.8h-1.8zM650.4 164.7h1.8v1.8h-1.8zM637 193.8h1.8v1.8h-1.8zM649.2 204.7h1.8v1.8h-1.8zM635.7 166.6h1.8v1.8h-1.8zM650.4 182.1h1.8v1.8h-1.8zM649 182.6h1.8v1.8h-1.8zM643.8 175.6h1.8v1.8h-1.8zM640.4 170.8h1.8v1.8h-1.8zM644.3 186.5h1.8v1.8h-1.8zM629 203.1h1.8v1.8h-1.8zM645.2 148.8h1.8v1.8h-1.8zM649.8 184.4h1.8v1.8h-1.8zM659.3 201.9h1.8v1.8h-1.8zM644.2 181.7h1.8v1.8h-1.8zM647.2 160.4h1.8v1.8h-1.8zM660.9 215.4h1.8v1.8h-1.8zM664 157.9h1.8v1.8h-1.8zM644.4 188.4h1.8v1.8h-1.8zM657.9 143.5h1.8v1.8h-1.8zM659 171.5h1.8v1.8h-1.8zM653.2 187.8h1.8v1.8h-1.8zM640 159.1h1.8v1.8h-1.8zM640.4 158.7h1.8v1.8h-1.8zM653.8 192.9h1.8v1.8h-1.8zM669.2 180.6h1.8v1.8h-1.8zM647.1 196.4h1.8v1.8h-1.8zM662.5 166.2h1.8v1.8h-1.8zM665.4 215.1h1.8v1.8h-1.8zM637.7 189.3h1.8v1.8h-1.8zM643.4 230.4h1.8v1.8h-1.8zM662 173.1h1.8v1.8h-1.8zM657.3 232.4h1.8v1.8h-1.8zM653.5 207.8h1.8v1.8h-1.8zM648.6 180h1.8v1.8h-1.8zM654.2 192.9h1.8v1.8h-1.8zM643.2 194.9h1.8v1.8h-1.8zM670.7 205.9h1.8v1.8h-1.8zM638.6 195.4h1.8v1.8h-1.8zM632.9 222.4h1.8v1.8h-1.8zM650 178.8h1.8v1.8h-1.8zM661.4 168.6h1.8v1.8h-1.8zM644.4 169.5h1.8v1.8h-1.8zM648.2 186.3h1.8v1.8h-1.8zM639.7 159.9h1.8v1.8h-1.8zM648.1 175.8h1.8v1.8h-1.8zM639.8 165.4h1.8v1.8h-1.8zM639.9 177.3h1.8v1.8h-1.8zM635.8 184.8h1.8v1.8h-1.8zM643.9 201.5h1.8v1.8h-1.8zM665.1 240.8h1.8v1.8h-1.8zM648.2 172h1.8v1.8h-1.8zM650.4 187.9h1.8v1.8h-1.8zM668.4 143.8h1.8v1.8h-1.8zM643.1 227.1h1.8v1.8h-1.8zM639.9 167.9h1.8v1.8h-1.8zM653.3 205.4h1.8v1.8h-1.8zM637.9 185.6h1.8v1.8h-1.8zM651.6 204.1h1.8v1.8h-1.8zM658.9 178.2h1.8v1.8h-1.8zM639.2 186.2h1.8v1.8h-1.8zM644.1 167.1h1.8v1.8h-1.8zM663.7 182.4h1.8v1.8h-1.8zM639.4 175.5h1.8v1.8h-1.8zM642.7 158.8h1.8v1.8h-1.8zM650.8 174.6h1.8v1.8h-1.8zM645.9 188.3h1.8v1.8h-1.8zM641.2 159.5h1.8v1.8h-1.8zM662.8 187.9h1.8v1.8h-1.8zM643.6 176.9h1.8v1.8h-1.8zM651.6 192.2h1.8v1.8h-1.8zM645.1 199.4h1.8v1.8h-1.8zM646.7 248.4h1.8v1.8h-1.8zM636.6 170.9h1.8v1.8h-1.8zM656.9 209.7h1.8v1.8h-1.8zM644.9 170.1h1.8v1.8h-1.8zM659.9 147.7h1.8v1.8h-1.8zM638.4 213.1h1.8v1.8h-1.8zM644.4 167.1h1.8v1.8h-1.8zM652.9 187.5h1.8v1.8h-1.8zM649.7 176h1.8v1.8h-1.8zM642.9 210.5h1.8v1.8h-1.8zM647.5 184.8h1.8v1.8h-1.8zM637.3 182.2h1.8v1.8h-1.8zM649.2 155.5h1.8v1.8h-1.8zM625.3 140.6h1.8v1.8h-1.8zM650.2 178.9h1.8v1.8h-1.8zM660.7 193.1h1.8v1.8h-1.8zM656.6 139h1.8v1.8h-1.8zM656.2 187.6h1.8v1.8h-1.8zM645 186.6h1.8v1.8h-1.8zM653 183.3h1.8v1.8h-1.8zM645.2 175.7h1.8v1.8h-1.8zM647.9 170.5h1.8v1.8h-1.8zM647.8 197.4h1.8v1.8h-1.8zM619 187.7h1.8v1.8h-1.8zM656.9 146h1.8v1.8h-1.8zM652.7 151.8h1.8v1.8h-1.8zM656.1 176h1.8v1.8h-1.8zM640.3 179.6h1.8v1.8h-1.8zM654.8 190.2h1.8v1.8h-1.8zM652.9 163.9h1.8v1.8h-1.8zM629 196.1h1.8v1.8h-1.8zM633.1 182.7h1.8v1.8h-1.8zM649.2 194.9h1.8v1.8h-1.8zM642.8 198.4h1.8v1.8h-1.8zM648.6 184.5h1.8v1.8h-1.8zM643.1 185.2h1.8v1.8h-1.8zM661.9 197.4h1.8v1.8h-1.8zM631.9 186.7h1.8v1.8h-1.8zM636.7 183.9h1.8v1.8h-1.8zM640.1 195.1h1.8v1.8h-1.8zM636.7 199h1.8v1.8h-1.8zM643.6 188.2h1.8v1.8h-1.8zM648.4 170.6h1.8v1.8h-1.8zM636.9 162.1h1.8v1.8h-1.8zM651.9 181.4h1.8v1.8h-1.8zM660.3 190.9h1.8v1.8h-1.8zM658.4 185.9h1.8v1.8h-1.8zM666.4 145.3h1.8v1.8h-1.8zM658.7 166.1h1.8v1.8h-1.8zM648.4 205.2h1.8v1.8h-1.8zM664.4 186.4h1.8v1.8h-1.8zM655 196.3h1.8v1.8h-1.8zM665.3 192.9h1.8v1.8h-1.8zM647 220.5h1.8v1.8h-1.8zM630.2 184.7h1.8v1.8h-1.8zM638.4 213.7h1.8v1.8h-1.8zM650.3 197.6h1.8v1.8h-1.8zM653.6 153.5h1.8v1.8h-1.8zM646.9 164.3h1.8v1.8h-1.8zM657.6 203.4h1.8v1.8h-1.8zM638.6 206.9h1.8v1.8h-1.8zM642.6 204.3h1.8v1.8h-1.8zM657.5 224.7h1.8v1.8h-1.8zM649.2 205.8h1.8v1.8h-1.8zM649.6 190.9h1.8v1.8h-1.8zM661.2 207.2h1.8v1.8h-1.8zM658.5 169.4h1.8v1.8h-1.8zM641.8 186.3h1.8v1.8h-1.8zM650.6 196.4h1.8v1.8h-1.8zM633.8 148.6h1.8v1.8h-1.8zM648.7 170.4h1.8v1.8h-1.8zM652.3 183.8h1.8v1.8h-1.8zM633.5 146.5h1.8v1.8h-1.8zM662.6 157.7h1.8v1.8h-1.8zM666.5 200h1.8v1.8h-1.8zM653.2 178.4h1.8v1.8h-1.8zM657 194.4h1.8v1.8h-1.8zM662.1 215.3h1.8v1.8h-1.8zM647.3 145.4h1.8v1.8h-1.8zM658 153.8h1.8v1.8h-1.8zM652.2 211.9h1.8v1.8h-1.8zM635.4 174.9h1.8v1.8h-1.8zM640.9 219.6h1.8v1.8h-1.8zM643.9 162.7h1.8v1.8h-1.8zM658.3 186.3h1.8v1.8h-1.8zM649.7 191.3h1.8v1.8h-1.8zM657.6 158.8h1.8v1.8h-1.8zM644.7 185h1.8v1.8h-1.8zM637.6 190.7h1.8v1.8h-1.8zM667.1 166h1.8v1.8h-1.8zM672.9 191.6h1.8v1.8h-1.8zM652.3 166.9h1.8v1.8h-1.8zM647.1 185.2h1.8v1.8h-1.8zM659.4 167.8h1.8v1.8h-1.8zM639.1 172h1.8v1.8h-1.8zM647.1 168.6h1.8v1.8h-1.8zM636.2 206.4h1.8v1.8h-1.8zM653.2 145.6h1.8v1.8h-1.8zM651.1 188.6h1.8v1.8h-1.8zM629.5 233.4h1.8v1.8h-1.8zM630.8 155.8h1.8v1.8h-1.8zM610.9 228.2h1.8v1.8h-1.8zM624.2 208.9h1.8v1.8h-1.8zM647.1 200.1h1.8v1.8h-1.8zM653.1 231.2h1.8v1.8h-1.8zM669.6 166.6h1.8v1.8h-1.8zM672.8 231.7h1.8v1.8h-1.8zM569.7 161.3h1.8v1.8h-1.8zM665.3 245.7h1.8v1.8h-1.8zM662.8 246h1.8v1.8h-1.8zM675.3 194.3h1.8v1.8h-1.8zM653.1 192.4h1.8v1.8h-1.8zM669.9 200.4h1.8v1.8h-1.8zM673.6 152.4h1.8v1.8h-1.8zM581.7 169.9h1.8v1.8h-1.8zM580.2 162.1h1.8v1.8h-1.8zM628 166.9h1.8v1.8h-1.8zM666.5 162.5h1.8v1.8h-1.8zM624.8 163.9h1.8v1.8h-1.8zM622.1 155.3h1.8v1.8h-1.8zM660.1 169.2h1.8v1.8h-1.8zM630.6 229.4h1.8v1.8h-1.8zM656.6 194.6h1.8v1.8h-1.8zM632.6 174.8h1.8v1.8h-1.8zM623.3 195.2h1.8v1.8h-1.8zM621.2 195.3h1.8v1.8h-1.8zM653.3 214.9h1.8v1.8h-1.8zM580.5 230.5h1.8v1.8h-1.8zM603.9 153.9h1.8v1.8h-1.8zM577.7 210.3h1.8v1.8h-1.8zM638.6 245.9h1.8v1.8h-1.8zM611.1 210.9h1.8v1.8h-1.8zM664.2 143.8h1.8v1.8h-1.8zM604.2 246.5h1.8v1.8h-1.8zM666.7 144.9h1.8v1.8h-1.8zM601 228.6h1.8v1.8h-1.8zM669.5 244.9h1.8v1.8h-1.8zM664.6 144.3h1.8v1.8h-1.8zM598.5 221.2h1.8v1.8h-1.8zM624.8 146.5h1.8v1.8h-1.8zM575.2 221.4h1.8v1.8h-1.8zM634.5 211.4h1.8v1.8h-1.8zM640.8 145.6h1.8v1.8h-1.8zM617.1 221.5h1.8v1.8h-1.8zM614 162.6h1.8v1.8h-1.8zM620.7 160.7h1.8v1.8h-1.8zM652.7 206.8h1.8v1.8h-1.8zM588.8 235.8h1.8v1.8h-1.8zM657.7 163.9h1.8v1.8h-1.8zM644.9 232h1.8v1.8h-1.8zM610.2 209.8h1.8v1.8h-1.8zM672.8 227.4h1.8v1.8h-1.8zM630.4 154.3h1.8v1.8h-1.8zM622.5 219.2h1.8v1.8h-1.8zM624.6 191h1.8v1.8h-1.8zM604.3 178h1.8v1.8h-1.8zM624.4 220.9h1.8v1.8h-1.8zM577.3 188.9h1.8v1.8h-1.8zM632.9 173.2h1.8v1.8h-1.8zM604 145.4h1.8v1.8h-1.8zM638.8 203.3h1.8v1.8h-1.8zM632.7 212.5h1.8v1.8h-1.8zM674.8 211.9h1.8v1.8h-1.8zM647.2 189.9h1.8v1.8h-1.8zM568 215.4h1.8v1.8h-1.8zM580.2 205.7h1.8v1.8h-1.8zM620.9 181.5h1.8v1.8h-1.8zM625.7 171.3h1.8v1.8h-1.8zM618.8 172.7h1.8v1.8h-1.8zM646.6 179.6h1.8v1.8h-1.8zM668.5 233.7h1.8v1.8h-1.8zM573.9 177.8h1.8v1.8h-1.8zM635.2 225.9h1.8v1.8h-1.8zM598.5 159.6h1.8v1.8h-1.8zM609.5 154.4h1.8v1.8h-1.8zM670.7 219.6h1.8v1.8h-1.8zM574.4 148.5h1.8v1.8h-1.8zM589.4 182.2h1.8v1.8h-1.8zM621.8 171.7h1.8v1.8h-1.8zM648.3 172.3h1.8v1.8h-1.8zM670.4 178.7h1.8v1.8h-1.8zM672.7 234.1h1.8v1.8h-1.8zM667.8 186.8h1.8v1.8h-1.8zM651.5 146.2h1.8v1.8h-1.8zM616 162h1.8v1.8h-1.8zM598 201.2h1.8v1.8h-1.8zM660.7 145.6h1.8v1.8h-1.8zM648.3 154.1h1.8v1.8h-1.8zM644.2 202h1.8v1.8h-1.8zM650.8 159.5h1.8v1.8h-1.8zM666.6 220.7h1.8v1.8h-1.8zM626.4 233.2h1.8v1.8h-1.8zM594.9 196h1.8v1.8h-1.8zM568.4 163.6h1.8v1.8h-1.8zM593.2 175.3h1.8v1.8h-1.8zM638.3 216h1.8v1.8h-1.8zM607.2 196.8h1.8v1.8h-1.8zM588.5 167.8h1.8v1.8h-1.8zM581.5 172h1.8v1.8h-1.8zM570.9 148.9h1.8v1.8h-1.8zM629.1 232.9h1.8v1.8h-1.8zM638.5 171.2h1.8v1.8h-1.8zM670.6 178.7h1.8v1.8h-1.8zM652 218.9h1.8v1.8h-1.8zM584.1 148.1h1.8v1.8h-1.8zM589.5 196.7h1.8v1.8h-1.8zM672 181.5h1.8v1.8h-1.8zM598.7 144.4h1.8v1.8h-1.8zM625.8 192.1h1.8v1.8h-1.8zM654.4 178.8h1.8v1.8h-1.8zM636.5 187.6h1.8v1.8h-1.8zM571.4 160.5h1.8v1.8h-1.8zM618.4 178h1.8v1.8h-1.8zM624.9 233.2h1.8v1.8h-1.8zM625.4 242.6h1.8v1.8h-1.8zM579.3 154h1.8v1.8h-1.8zM671.7 169.4h1.8v1.8h-1.8zM621.4 235.3h1.8v1.8h-1.8zM640.1 157.4h1.8v1.8h-1.8zM650.3 179.1h1.8v1.8h-1.8zM594.5 184.9h1.8v1.8h-1.8zM570 169.6h1.8v1.8h-1.8zM633.9 151.2h1.8v1.8h-1.8zM665.9 216.8h1.8v1.8h-1.8zM663.6 242.6h1.8v1.8h-1.8zM662.3 177.5h1.8v1.8h-1.8zM589.2 215.8h1.8v1.8h-1.8zM663 173.1h1.8v1.8h-1.8zM575.4 176.9h1.8v1.8h-1.8zM598.1 177.7h1.8v1.8h-1.8zM656.7 163.3h1.8v1.8h-1.8zM577.3 232h1.8v1.8h-1.8zM651.8 229.6h1.8v1.8h-1.8zM653.4 194h1.8v1.8h-1.8zM665.5 231h1.8v1.8h-1.8zM660 195.7h1.8v1.8h-1.8zM645 220.4h1.8v1.8h-1.8zM585.3 145.2h1.8v1.8h-1.8zM579.8 160.7h1.8v1.8h-1.8zM575.8 165.8h1.8v1.8h-1.8zM600.9 157.5h1.8v1.8h-1.8zM601 222.8h1.8v1.8h-1.8zM674.6 192.9h1.8v1.8h-1.8zM659.8 184h1.8v1.8h-1.8zM577.3 243.3h1.8v1.8h-1.8zM618.2 222.4h1.8v1.8h-1.8zM654.1 162.1h1.8v1.8h-1.8zM609.7 221.5h1.8v1.8h-1.8zM623.8 153.6h1.8v1.8h-1.8zM662.2 199.2h1.8v1.8h-1.8zM666.6 196.1h1.8v1.8h-1.8zM585.7 235.6h1.8v1.8h-1.8zM656.2 159.1h1.8v1.8h-1.8zM615.9 205.7h1.8v1.8h-1.8zM569.6 225.3h1.8v1.8h-1.8zM600 230.8h1.8v1.8h-1.8zM663.6 231.2h1.8v1.8h-1.8zM587.1 167.2h1.8v1.8h-1.8zM585.1 210.1h1.8v1.8h-1.8zM670.9 186.4h1.8v1.8h-1.8zM614.1 212.1h1.8v1.8h-1.8zM666.2 151.4h1.8v1.8h-1.8zM597.6 194.5h1.8v1.8h-1.8zM573.8 199.8h1.8v1.8h-1.8zM666.5 149.6h1.8v1.8h-1.8zM601.8 163.1h1.8v1.8h-1.8zM669.1 145.7h1.8v1.8h-1.8zM640.1 168.1h1.8v1.8h-1.8zM657.7 224.5h1.8v1.8h-1.8zM601.9 200.1h1.8v1.8h-1.8zM644.5 165.7h1.8v1.8h-1.8zM655.6 224.3h1.8v1.8h-1.8zM640.8 201.7h1.8v1.8h-1.8zM667.4 235h1.8v1.8h-1.8zM665.4 202.1h1.8v1.8h-1.8zM628.7 190.3h1.8v1.8h-1.8zM669.4 230.1h1.8v1.8h-1.8zM644.6 185.8h1.8v1.8h-1.8zM665.9 233h1.8v1.8h-1.8zM582.7 196.6h1.8v1.8h-1.8zM599.6 175.9h1.8v1.8h-1.8zM583.5 172h1.8v1.8h-1.8zM569.8 203.1h1.8v1.8h-1.8zM638.2 230.5h1.8v1.8h-1.8zM672.4 146.1h1.8v1.8h-1.8zM635.4 191.5h1.8v1.8h-1.8zM672.8 197.5h1.8v1.8h-1.8zM656.3 244.5h1.8v1.8h-1.8zM634.3 169h1.8v1.8h-1.8zM610.5 166h1.8v1.8h-1.8zM588.6 173.1h1.8v1.8h-1.8zM671 200.6h1.8v1.8h-1.8zM669.2 199.9h1.8v1.8h-1.8zM664.7 162.3h1.8v1.8h-1.8zM603.4 150.8h1.8v1.8h-1.8zM648.4 186.3h1.8v1.8h-1.8zM625.2 181.5h1.8v1.8h-1.8zM656.5 160.6h1.8v1.8h-1.8zM628.6 213h1.8v1.8h-1.8zM568.4 230.1h1.8v1.8h-1.8zM597.3 169.7h1.8v1.8h-1.8zM596.4 183.9h1.8v1.8h-1.8zM602.8 212.8h1.8v1.8h-1.8zM604.5 160.3h1.8v1.8h-1.8zM569.1 169.5h1.8v1.8h-1.8zM622.6 245h1.8v1.8h-1.8zM669.2 195.5h1.8v1.8h-1.8zM634.1 174.8h1.8v1.8h-1.8zM590.3 153.5h1.8v1.8h-1.8zM672.5 174.2h1.8v1.8h-1.8zM662.2 223.7h1.8v1.8h-1.8zM662.9 232.7h1.8v1.8h-1.8zM579.8 147.5h1.8v1.8h-1.8zM643.5 158.4h1.8v1.8h-1.8zM602.8 204.1h1.8v1.8h-1.8zM653.6 205.4h1.8v1.8h-1.8zM607.8 168.2h1.8v1.8h-1.8zM593.8 181h1.8v1.8h-1.8zM672.2 220.9h1.8v1.8h-1.8zM659.8 197.6h1.8v1.8h-1.8zM637.5 146h1.8v1.8h-1.8zM619.3 201.4h1.8v1.8h-1.8zM628.6 246.3h1.8v1.8h-1.8zM638.6 237.5h1.8v1.8h-1.8zM613.6 232.5h1.8v1.8h-1.8zM611.5 180.1h1.8v1.8h-1.8zM596 210h1.8v1.8h-1.8zM635 179.4h1.8v1.8h-1.8zM598.2 218.5h1.8v1.8h-1.8zM612.4 165.5h1.8v1.8h-1.8zM598.4 196.4h1.8v1.8h-1.8zM666.3 150.4h1.8v1.8h-1.8zM623.4 168.3h1.8v1.8h-1.8zM583.4 198.3h1.8v1.8h-1.8zM580.3 146.6h1.8v1.8h-1.8zM650.8 214.7h1.8v1.8h-1.8zM668.8 199.3h1.8v1.8h-1.8zM591.6 211.2h1.8v1.8h-1.8zM629 245.1h1.8v1.8h-1.8zM620 216h1.8v1.8h-1.8zM614.7 241h1.8v1.8h-1.8zM642.9 236.4h1.8v1.8h-1.8zM654.3 236h1.8v1.8h-1.8zM656 209.6h1.8v1.8h-1.8zM591.1 190.2h1.8v1.8h-1.8zM632.5 189.1h1.8v1.8h-1.8zM584 181.8h1.8v1.8h-1.8zM587.4 228.9h1.8v1.8h-1.8zM604.7 218.1h1.8v1.8h-1.8zM629.2 235.2h1.8v1.8h-1.8zM620.6 153.6h1.8v1.8h-1.8zM572.3 232h1.8v1.8h-1.8zM620.5 182.3h1.8v1.8h-1.8zM585.6 196.6h1.8v1.8h-1.8zM585.8 240.7h1.8v1.8h-1.8zM660.8 161.5h1.8v1.8h-1.8zM637.4 195.4h1.8v1.8h-1.8zM593.9 189.8h1.8v1.8h-1.8zM650.9 169.8h1.8v1.8h-1.8zM673.6 216.5h1.8v1.8h-1.8zM659.7 207.9h1.8v1.8h-1.8zM583.2 233.5h1.8v1.8h-1.8zM638.7 156.5h1.8v1.8h-1.8zM611.6 208.5h1.8v1.8h-1.8zM615 159.6h1.8v1.8h-1.8zM587.1 159.2h1.8v1.8h-1.8zM580.8 206h1.8v1.8h-1.8zM672.8 186h1.8v1.8h-1.8zM616.7 223.6h1.8v1.8h-1.8zM585 198.1h1.8v1.8h-1.8zM617.5 215.5h1.8v1.8h-1.8zM616.7 151.1h1.8v1.8h-1.8zM584.1 178.3h1.8v1.8h-1.8zM647.4 154.4h1.8v1.8h-1.8zM635 222.4h1.8v1.8h-1.8zM645.3 226.8h1.8v1.8h-1.8zM658.2 248.3h1.8v1.8h-1.8zM662.4 187h1.8v1.8h-1.8zM675.6 217.7h1.8v1.8h-1.8zM643.6 219.7h1.8v1.8h-1.8zM673.6 201.2h1.8v1.8h-1.8zM674.3 189h1.8v1.8h-1.8zM588.2 169.8h1.8v1.8h-1.8zM609.5 155.7h1.8v1.8h-1.8zM619.3 228.1h1.8v1.8h-1.8zM618 196.8h1.8v1.8h-1.8zM577.7 152.1h1.8v1.8h-1.8zM609.7 215.2h1.8v1.8h-1.8zM652.8 190.4h1.8v1.8h-1.8zM622.4 201.8h1.8v1.8h-1.8zM639.4 170h1.8v1.8h-1.8zM642.4 172.2h1.8v1.8h-1.8zM635.1 206.7h1.8v1.8h-1.8zM568.6 220.7h1.8v1.8h-1.8zM608.6 182.5h1.8v1.8h-1.8zM648.2 150.6h1.8v1.8h-1.8zM606.9 206.4h1.8v1.8h-1.8zM672.2 196.1h1.8v1.8h-1.8zM671.2 222.6h1.8v1.8h-1.8zM622.7 155.5h1.8v1.8h-1.8zM673.5 242.8h1.8v1.8h-1.8zM589.7 208.6h1.8v1.8h-1.8zM619.3 239.1h1.8v1.8h-1.8zM667.6 202.2h1.8v1.8h-1.8zM576.9 185.6h1.8v1.8h-1.8zM622.6 237h1.8v1.8h-1.8zM612.3 178.6h1.8v1.8h-1.8zM609.4 220.6h1.8v1.8h-1.8zM614.2 226.4h1.8v1.8h-1.8zM632.4 213.1h1.8v1.8h-1.8zM667.4 151.1h1.8v1.8h-1.8zM572.7 156.1h1.8v1.8h-1.8zM582.9 216.9h1.8v1.8h-1.8zM641.7 245.2h1.8v1.8h-1.8zM625.7 238.2h1.8v1.8h-1.8zM645.5 201h1.8v1.8h-1.8zM658.8 245.8h1.8v1.8h-1.8zM656.2 176.4h1.8v1.8h-1.8zM601.9 185.7h1.8v1.8h-1.8zM590.6 205.2h1.8v1.8h-1.8zM634.5 232.8h1.8v1.8h-1.8zM573.1 148.4h1.8v1.8h-1.8zM631.6 209.9h1.8v1.8h-1.8zM634.4 222.7h1.8v1.8h-1.8zM619.7 145.3h1.8v1.8h-1.8zM659.7 169.8h1.8v1.8h-1.8zM574.4 191.7h1.8v1.8h-1.8zM569.3 211.8h1.8v1.8h-1.8zM668.3 163.8h1.8v1.8h-1.8zM658.5 174.9h1.8v1.8h-1.8zM571.2 155.8h1.8v1.8h-1.8zM645.3 146.1h1.8v1.8h-1.8zM630.8 187.7h1.8v1.8h-1.8zM582.6 161.8h1.8v1.8h-1.8zM612 152.8h1.8v1.8h-1.8zM631.9 227h1.8v1.8h-1.8zM633 182.7h1.8v1.8h-1.8zM589 159.6h1.8v1.8h-1.8zM568.4 164.7h1.8v1.8h-1.8zM574 170.9h1.8v1.8h-1.8zM593.3 200.3h1.8v1.8h-1.8zM601.1 157.8h1.8v1.8h-1.8zM589.6 197h1.8v1.8h-1.8zM604.2 217.7h1.8v1.8h-1.8zM578.2 201.9h1.8v1.8h-1.8zM609.8 162.1h1.8v1.8h-1.8zM603.5 240.2h1.8v1.8h-1.8zM599.7 247.2h1.8v1.8h-1.8zM608.5 241.9h1.8v1.8h-1.8zM660.7 234.6h1.8v1.8h-1.8zM652.7 224.2h1.8v1.8h-1.8zM581.1 234.1h1.8v1.8h-1.8zM577.9 246.6h1.8v1.8h-1.8zM628.2 220.2h1.8v1.8h-1.8zM576.6 185.2h1.8v1.8h-1.8zM655.2 170.6h1.8v1.8h-1.8zM607.5 198.9h1.8v1.8h-1.8zM673.6 151.4h1.8v1.8h-1.8zM607 244h1.8v1.8h-1.8zM625.8 156.3h1.8v1.8h-1.8zM574.1 243.5h1.8v1.8h-1.8zM585.8 185.6h1.8v1.8h-1.8zM586.8 227h1.8v1.8h-1.8zM669.1 173.3h1.8v1.8h-1.8zM675 170.2h1.8v1.8h-1.8zM636.3 163.2h1.8v1.8h-1.8zM635.2 217.6h1.8v1.8h-1.8zM649.9 231.9h1.8v1.8h-1.8zM615 168.8h1.8v1.8h-1.8zM668.5 176.5h1.8v1.8h-1.8zM592.5 200.9h1.8v1.8h-1.8zM666.1 203.2h1.8v1.8h-1.8zM569.3 196h1.8v1.8h-1.8zM631 148.4h1.8v1.8h-1.8zM634 235.2h1.8v1.8h-1.8zM649.4 186.1h1.8v1.8h-1.8zM586.8 158.6h1.8v1.8h-1.8zM604.3 237.8h1.8v1.8h-1.8zM667 170.6h1.8v1.8h-1.8zM588.6 162.7h1.8v1.8h-1.8zM599.3 222.4h1.8v1.8h-1.8zM629.7 212.5h1.8v1.8h-1.8zM674.3 203.7h1.8v1.8h-1.8zM603 144.8h1.8v1.8h-1.8zM585.8 153.4h1.8v1.8h-1.8zM580.5 151.2h1.8v1.8h-1.8zM674.3 210.1h1.8v1.8h-1.8zM594.8 155.8h1.8v1.8h-1.8zM647.8 196.5h1.8v1.8h-1.8zM574.9 185.9h1.8v1.8h-1.8zM613.6 179.4h1.8v1.8h-1.8zM630.5 171.2h1.8v1.8h-1.8zM646.9 213.4h1.8v1.8h-1.8zM635.9 209.5h1.8v1.8h-1.8zM613 235.4h1.8v1.8h-1.8zM585.1 157.3h1.8v1.8h-1.8zM612.1 201h1.8v1.8h-1.8zM617.5 147.9h1.8v1.8h-1.8zM601.4 220.8h1.8v1.8h-1.8zM686.6 193h1.8v1.8h-1.8zM693.1 236.9h1.8v1.8h-1.8zM687.9 215.6h1.8v1.8h-1.8zM691.3 153.5h1.8v1.8h-1.8zM692 194.2h1.8v1.8h-1.8zM685 216h1.8v1.8h-1.8zM678.8 169.5h1.8v1.8h-1.8zM686.7 248.4h1.8v1.8h-1.8zM687.1 171.1h1.8v1.8h-1.8zM681.3 164h1.8v1.8h-1.8zM678.8 197.5h1.8v1.8h-1.8zM681.7 226.2h1.8v1.8h-1.8zM689.3 225.1h1.8v1.8h-1.8zM681.2 154.2h1.8v1.8h-1.8zM689.6 173.5h1.8v1.8h-1.8zM682 146.5h1.8v1.8h-1.8zM689.7 228.4h1.8v1.8h-1.8zM686.3 204.5h1.8v1.8h-1.8zM692.1 166.5h1.8v1.8h-1.8zM679.6 187.1h1.8v1.8h-1.8zM689.1 197.8h1.8v1.8h-1.8zM683.5 234.6h1.8v1.8h-1.8zM679.2 149.7h1.8v1.8h-1.8zM678.5 226.3h1.8v1.8h-1.8zM680 173h1.8v1.8h-1.8zM687.5 185.2h1.8v1.8h-1.8zM690.5 166.5h1.8v1.8h-1.8zM680.9 167.7h1.8v1.8h-1.8zM681.6 200.2h1.8v1.8h-1.8zM677.8 192.1h1.8v1.8h-1.8zM548.3 248.1h1.8v1.8h-1.8zM648.5 247.5h1.8v1.8h-1.8zM578.6 246.6h1.8v1.8h-1.8zM554.3 246.9h1.8v1.8h-1.8zM543.1 247.9h1.8v1.8h-1.8zM580.2 246.9h1.8v1.8h-1.8zM556.1 246.8h1.8v1.8h-1.8zM561.8 246.6h1.8v1.8h-1.8zM596.7 247h1.8v1.8h-1.8zM588.2 247.2h1.8v1.8h-1.8zM576.6 247.1h1.8v1.8h-1.8zM563.4 248.3h1.8v1.8h-1.8zM627.5 247.3h1.8v1.8h-1.8zM616.9 248.4h1.8v1.8h-1.8zM594.8 247.2h1.8v1.8h-1.8zM565.5 247.1h1.8v1.8h-1.8zM653.5 247.7h1.8v1.8h-1.8zM551.8 248.1h1.8v1.8h-1.8zM593.6 247.4h1.8v1.8h-1.8zM567.4 248.2h1.8v1.8h-1.8zM644.7 247.7h1.8v1.8h-1.8zM616.3 247h1.8v1.8h-1.8zM672.2 248.4h1.8v1.8h-1.8zM635.9 246.5h1.8v1.8h-1.8zM632.6 246.6h1.8v1.8h-1.8zM548.4 247.7h1.8v1.8h-1.8zM538.3 246.8h1.8v1.8h-1.8zM632 246.8h1.8v1.8h-1.8zM653.5 247h1.8v1.8h-1.8zM665 247.6h1.8v1.8h-1.8zM683.9 247.7h1.8v1.8h-1.8zM667.2 248.1h1.8v1.8h-1.8zM618.9 246.8h1.8v1.8h-1.8zM639 247.1h1.8v1.8h-1.8zM589.3 246.5h1.8v1.8h-1.8zM682.3 247.2h1.8v1.8h-1.8zM681.8 248.5h1.8v1.8h-1.8zM642 248.1h1.8v1.8h-1.8zM571.1 248.4h1.8v1.8h-1.8zM620.4 247.9h1.8v1.8h-1.8zM638.5 247.3h1.8v1.8h-1.8zM657.7 247.3h1.8v1.8h-1.8zM632.6 247.2h1.8v1.8h-1.8zM655.6 247.7h1.8v1.8h-1.8zM652.2 246.6h1.8v1.8h-1.8zM633.9 247.6h1.8v1.8h-1.8zM553.9 248h1.8v1.8h-1.8zM646.4 247.6h1.8v1.8h-1.8zM606.5 247.7h1.8v1.8h-1.8zM655.6 248.1h1.8v1.8h-1.8zM552.8 247.3h1.8v1.8h-1.8zM609.5 247.4h1.8v1.8h-1.8zM583.9 248.5h1.8v1.8h-1.8zM608.5 247.9h1.8v1.8h-1.8zM682.9 248.3h1.8v1.8h-1.8zM651.3 247.8h1.8v1.8h-1.8zM667.8 248.1h1.8v1.8h-1.8zM661.4 248.4h1.8v1.8h-1.8zM545.8 247.7h1.8v1.8h-1.8zM644 248.4h1.8v1.8h-1.8zM647.4 248.4h1.8v1.8h-1.8zM649.4 247h1.8v1.8h-1.8zM574.2 248h1.8v1.8h-1.8zM592.3 246.9h1.8v1.8h-1.8zM633.1 247.6h1.8v1.8h-1.8zM577.1 247.3h1.8v1.8h-1.8zM611.9 246.7h1.8v1.8h-1.8zM598 248.3h1.8v1.8h-1.8zM547.9 248.5h1.8v1.8h-1.8zM547.3 247.8h1.8v1.8h-1.8z"/>
<rect x="392.4" y="39.8" width="305.5" height="209.6" fill="none" stroke="#1a1a1a" stroke-width="1.4"/>
<path d="M569.3 39.8V249.4M392.4 139.6H697.9" stroke="#2a2a2a" stroke-width="1.8" fill="none"/>
<path d="M392.4 249.4v6M392.4 249.4h-6M415.4 249.4v3.8M392.4 233.6h-3.8M428.8 249.4v3.8M392.4 224.4h-3.8M438.4 249.4v3.8M392.4 217.9h-3.8M445.8 249.4v3.8M392.4 212.8h-3.8M451.8 249.4v3.8M392.4 208.6h-3.8M456.9 249.4v3.8M392.4 205.1h-3.8M461.4 249.4v3.8M392.4 202.1h-3.8M465.3 249.4v3.8M392.4 199.4h-3.8M468.8 249.4v6M392.4 197h-6M491.8 249.4v3.8M392.4 181.2h-3.8M505.2 249.4v3.8M392.4 172h-3.8M514.8 249.4v3.8M392.4 165.5h-3.8M522.2 249.4v3.8M392.4 160.4h-3.8M528.2 249.4v3.8M392.4 156.2h-3.8M533.3 249.4v3.8M392.4 152.7h-3.8M537.7 249.4v3.8M392.4 149.7h-3.8M541.7 249.4v3.8M392.4 147h-3.8M545.1 249.4v6M392.4 144.6h-6M568.1 249.4v3.8M392.4 128.8h-3.8M581.6 249.4v3.8M392.4 119.6h-3.8M591.1 249.4v3.8M392.4 113.1h-3.8M598.5 249.4v3.8M392.4 108h-3.8M604.6 249.4v3.8M392.4 103.8h-3.8M609.7 249.4v3.8M392.4 100.3h-3.8M614.1 249.4v3.8M392.4 97.3h-3.8M618 249.4v3.8M392.4 94.6h-3.8M621.5 249.4v6M392.4 92.2h-6M644.5 249.4v3.8M392.4 76.4h-3.8M658 249.4v3.8M392.4 67.2h-3.8M667.5 249.4v3.8M392.4 60.7h-3.8M674.9 249.4v3.8M392.4 55.6h-3.8M681 249.4v3.8M392.4 51.4h-3.8M686.1 249.4v3.8M392.4 47.9h-3.8M690.5 249.4v3.8M392.4 44.9h-3.8M694.4 249.4v3.8M392.4 42.2h-3.8M697.9 249.4v6M392.4 39.8h-6" stroke="#1a1a1a" stroke-width="1.3" fill="none"/>
<text x="395.4" y="269.9" font-family='"Liberation Sans", sans-serif' font-size="13" fill="#333" text-anchor="end">10</text>
<text x="394.9" y="264.9" font-family='"Liberation Sans", sans-serif' font-size="12" fill="#333">0</text>
<text x="471.8" y="269.9" font-family='"Liberation Sans", sans-serif' font-size="13" fill="#333" text-anchor="end">10</text>
<text x="471.3" y="264.9" font-family='"Liberation Sans", sans-serif' font-size="12" fill="#333">1</text>
<text x="548.1" y="269.9" font-family='"Liberation Sans", sans-serif' font-size="13" fill="#333" text-anchor="end">10</text>
<text x="547.6" y="264.9" font-family='"Liberation Sans", sans-serif' font-size="12" fill="#333">2</text>
<text x="624.5" y="269.9" font-family='"Liberation Sans", sans-serif' font-size="13" fill="#333" text-anchor="end">10</text>
<text x="624" y="264.9" font-family='"Liberation Sans", sans-serif' font-size="12" fill="#333">3</text>
<text x="700.9" y="269.9" font-family='"Liberation Sans", sans-serif' font-size="13" fill="#333" text-anchor="end">10</text>
<text x="700.4" y="264.9" font-family='"Liberation Sans", sans-serif' font-size="12" fill="#333">4</text>
<g transform="translate(382.9 249.4) rotate(-90)"><text x="4.8" y="0" font-family='"Liberation Sans", sans-serif' font-size="13" fill="#333" text-anchor="end">10</text><text x="4.3" y="-6" font-family='"Liberation Sans", sans-serif' font-size="12" fill="#333">0</text></g>
<g transform="translate(382.9 197) rotate(-90)"><text x="4.8" y="0" font-family='"Liberation Sans", sans-serif' font-size="13" fill="#333" text-anchor="end">10</text><text x="4.3" y="-6" font-family='"Liberation Sans", sans-serif' font-size="12" fill="#333">1</text></g>
<g transform="translate(382.9 144.6) rotate(-90)"><text x="4.8" y="0" font-family='"Liberation Sans", sans-serif' font-size="13" fill="#333" text-anchor="end">10</text><text x="4.3" y="-6" font-family='"Liberation Sans", sans-serif' font-size="12" fill="#333">2</text></g>
<g transform="translate(382.9 92.2) rotate(-90)"><text x="4.8" y="0" font-family='"Liberation Sans", sans-serif' font-size="13" fill="#333" text-anchor="end">10</text><text x="4.3" y="-6" font-family='"Liberation Sans", sans-serif' font-size="12" fill="#333">3</text></g>
<g transform="translate(382.9 39.8) rotate(-90)"><text x="4.8" y="0" font-family='"Liberation Sans", sans-serif' font-size="13" fill="#333" text-anchor="end">10</text><text x="4.3" y="-6" font-family='"Liberation Sans", sans-serif' font-size="12" fill="#333">4</text></g>
<text x="543.1" y="281.9" font-family='"Liberation Sans", sans-serif' font-size="12.3" fill="#333" text-anchor="middle">AnnexinV-FITC</text>
<g transform="translate(365.9 144.6) rotate(-90)"><text x="0" y="0" font-family='"Liberation Sans", sans-serif' font-size="13" fill="#333" text-anchor="middle">PI</text></g>
<text transform="translate(397.3 62.4) scale(0.93 1.04)" font-family='"Liberation Serif", serif' font-size="28" font-weight="bold" fill="#000">b</text>
<path d="M71.7 341.4V538.7H367.3" stroke="#000" stroke-width="2.5" fill="none"/>
<path d="M65.2 342.6H71.7M65.2 408.2H71.7M65.2 473.6H71.7M65.2 538.7H71.7M122.5 538.7v6.5M222.8 538.7v6.5M324.1 538.7v6.5" stroke="#000" stroke-width="2.3" fill="none"/>
<text x="63.2" y="347.9" font-family='"Liberation Serif", serif' font-size="15" font-weight="bold" fill="#000" text-anchor="end">30</text>
<text x="63.2" y="413.5" font-family='"Liberation Serif", serif' font-size="15" font-weight="bold" fill="#000" text-anchor="end">20</text>
<text x="63.2" y="478.9" font-family='"Liberation Serif", serif' font-size="15" font-weight="bold" fill="#000" text-anchor="end">10</text>
<text x="63.2" y="544" font-family='"Liberation Serif", serif' font-size="15" font-weight="bold" fill="#000" text-anchor="end">0</text>
<text x="122.5" y="559" font-family='"Liberation Serif", serif' font-size="15" font-weight="bold" fill="#000" text-anchor="middle">48</text>
<text x="222.8" y="559" font-family='"Liberation Serif", serif' font-size="15" font-weight="bold" fill="#000" text-anchor="middle">72</text>
<text x="324.1" y="559" font-family='"Liberation Serif", serif' font-size="15" font-weight="bold" fill="#000" text-anchor="middle">96</text>
<rect x="84.6" y="501.4" width="25.1" height="37.3" fill="#fff" stroke="#000" stroke-width="2.7"/>
<path d="M97.2 501.4V499.4M90.4 499.4H104" stroke="#000" stroke-width="2.5" fill="none"/>
<rect x="109.7" y="447" width="24.8" height="91.7" fill="url(#chk)" stroke="#000" stroke-width="2.7"/>
<path d="M122.2 447V442.5M115.8 442.5H128.6" stroke="#000" stroke-width="2.5" fill="none"/>
<text x="123.7" y="444.2" font-family='"Liberation Sans", sans-serif' font-size="17" font-weight="bold" fill="#000" text-anchor="middle" letter-spacing="0.6">**</text>
<rect x="185.6" y="484.7" width="24.9" height="54" fill="#fff" stroke="#000" stroke-width="2.7"/>
<path d="M197.9 484.7V482.3M191.6 482.3H204.2" stroke="#000" stroke-width="2.5" fill="none"/>
<rect x="210.8" y="417.8" width="24.3" height="120.9" fill="url(#chk)" stroke="#000" stroke-width="2.7"/>
<path d="M223.1 417.8V412.6M216.7 412.6H229.6" stroke="#000" stroke-width="2.5" fill="none"/>
<text x="224.6" y="414.4" font-family='"Liberation Sans", sans-serif' font-size="17" font-weight="bold" fill="#000" text-anchor="middle" letter-spacing="0.6">**</text>
<rect x="286.6" y="469.1" width="24.6" height="69.6" fill="#fff" stroke="#000" stroke-width="2.7"/>
<path d="M299 469.1V466.7M292.8 466.7H305.2" stroke="#000" stroke-width="2.5" fill="none"/>
<rect x="311.2" y="388" width="25.4" height="150.7" fill="url(#chk)" stroke="#000" stroke-width="2.7"/>
<path d="M324.4 388V379.8M318 379.8H330.7" stroke="#000" stroke-width="2.5" fill="none"/>
<text x="325.9" y="382.5" font-family='"Liberation Sans", sans-serif' font-size="17" font-weight="bold" fill="#000" text-anchor="middle" letter-spacing="0.6">**</text>
<rect x="89.7" y="331.7" width="20.9" height="9.8" fill="#fff" stroke="#000" stroke-width="3"/>
<rect x="89.7" y="354.4" width="20.9" height="9.9" fill="url(#chk)" stroke="#000" stroke-width="3.2"/>
<text x="123.6" y="342.7" font-family='"Liberation Serif", serif' font-size="17" fill="#1a1a1a" letter-spacing="0.2">control</text>
<text x="123.6" y="365.3" font-family='"Liberation Serif", serif' font-size="17" font-style="italic" fill="#1a1a1a" letter-spacing="0.1">E. tenella</text>
<g transform="translate(38 441.3) rotate(-90)"><text x="0" y="0" font-family='"Liberation Sans", sans-serif' font-size="16" font-weight="bold" fill="#000" text-anchor="middle" letter-spacing="0" xml:space="preserve">%   Early apoptosis rate</text></g>
<text x="122.9" y="580.5" font-family='"Liberation Serif", serif' font-size="16" font-weight="bold" fill="#000" letter-spacing="0.6"><tspan font-style="italic">E. tenella</tspan> post infection (h)</text>
<text transform="translate(0.8 323.6) scale(1 1.1)" font-family='"Liberation Serif", serif' font-size="25.5" font-weight="bold" fill="#000">B</text>
<path d="M431.2 361.3V544.8H728" stroke="#000" stroke-width="2.5" fill="none"/>
<path d="M424.7 362.5H431.2M424.7 399.2H431.2M424.7 436H431.2M424.7 472.3H431.2M424.7 508.5H431.2M424.7 544.8H431.2M481.6 544.8v5.5M582.3 544.8v5.5M682.4 544.8v5.5" stroke="#000" stroke-width="2.3" fill="none"/>
<text x="422.7" y="367.8" font-family='"Liberation Serif", serif' font-size="15" font-weight="bold" fill="#000" text-anchor="end">25</text>
<text x="422.7" y="404.5" font-family='"Liberation Serif", serif' font-size="15" font-weight="bold" fill="#000" text-anchor="end">20</text>
<text x="422.7" y="441.3" font-family='"Liberation Serif", serif' font-size="15" font-weight="bold" fill="#000" text-anchor="end">15</text>
<text x="422.7" y="477.6" font-family='"Liberation Serif", serif' font-size="15" font-weight="bold" fill="#000" text-anchor="end">10</text>
<text x="422.7" y="513.8" font-family='"Liberation Serif", serif' font-size="15" font-weight="bold" fill="#000" text-anchor="end">5</text>
<text x="422.7" y="550.1" font-family='"Liberation Serif", serif' font-size="15" font-weight="bold" fill="#000" text-anchor="end">0</text>
<text x="481.6" y="562.8" font-family='"Liberation Serif", serif' font-size="15" font-weight="bold" fill="#000" text-anchor="middle">48</text>
<text x="582.3" y="562.8" font-family='"Liberation Serif", serif' font-size="15" font-weight="bold" fill="#000" text-anchor="middle">72</text>
<text x="682.4" y="562.8" font-family='"Liberation Serif", serif' font-size="15" font-weight="bold" fill="#000" text-anchor="middle">96</text>
<rect x="444.1" y="468" width="25.1" height="76.8" fill="#fff" stroke="#000" stroke-width="2.4"/>
<path d="M456.4 468V460.4M449.9 460.4H462.8" stroke="#000" stroke-width="2.5" fill="none"/>
<rect x="469.3" y="417" width="25" height="127.8" fill="url(#chk)" stroke="#000" stroke-width="2.4"/>
<path d="M481.7 417V404.6M475.2 404.6H488.2" stroke="#000" stroke-width="2.5" fill="none"/>
<text x="483.9" y="407.3" font-family='"Liberation Sans", sans-serif' font-size="16" font-weight="bold" fill="#000" text-anchor="middle" letter-spacing="1.6">**</text>
<rect x="544.8" y="467.2" width="25" height="77.6" fill="#fff" stroke="#000" stroke-width="2.4"/>
<path d="M557.2 467.2V460M550.8 460H563.7" stroke="#000" stroke-width="2.5" fill="none"/>
<rect x="569.8" y="411.6" width="25.2" height="133.2" fill="url(#chk)" stroke="#000" stroke-width="2.4"/>
<path d="M582.5 411.6V401.5M576.3 401.5H588.8" stroke="#000" stroke-width="2.5" fill="none"/>
<text x="584.8" y="405.3" font-family='"Liberation Sans", sans-serif' font-size="16" font-weight="bold" fill="#000" text-anchor="middle" letter-spacing="1.6">**</text>
<rect x="646" y="441.8" width="25" height="103" fill="#fff" stroke="#000" stroke-width="2.4"/>
<path d="M658.5 441.8V436.9M652 436.9H665" stroke="#000" stroke-width="2.5" fill="none"/>
<rect x="671" y="395.6" width="25.4" height="149.2" fill="url(#chk)" stroke="#000" stroke-width="2.4"/>
<path d="M683.6 395.6V387M677 387H690.2" stroke="#000" stroke-width="2.5" fill="none"/>
<text x="685.8" y="390.9" font-family='"Liberation Sans", sans-serif' font-size="16" font-weight="bold" fill="#000" text-anchor="middle" letter-spacing="1.6">**</text>
<rect x="448.9" y="352.7" width="21.2" height="8.8" fill="#fff" stroke="#000" stroke-width="3"/>
<rect x="448.9" y="374.4" width="21.2" height="8.9" fill="url(#chk)" stroke="#000" stroke-width="3.2"/>
<text x="483.1" y="362.7" font-family='"Liberation Serif", serif' font-size="17" fill="#1a1a1a" letter-spacing="0.2">control</text>
<text x="483.1" y="384.1" font-family='"Liberation Serif", serif' font-size="17" font-style="italic" fill="#1a1a1a" letter-spacing="0.1">E. tenella</text>
<g transform="translate(397 454.2) rotate(-90)"><text x="0" y="0" font-family='"Liberation Sans", sans-serif' font-size="14" font-weight="bold" fill="#000" text-anchor="middle" letter-spacing="0.44" xml:space="preserve">%   Late apoptosis and necrosis rate</text></g>
<text x="483.4" y="584.2" font-family='"Liberation Serif", serif' font-size="16" font-weight="bold" fill="#000" letter-spacing="0.6"><tspan font-style="italic">E. tenella</tspan> post infection (h)</text>
<text transform="translate(366 320.2) scale(1 1.1)" font-family='"Liberation Serif", serif' font-size="26" font-weight="bold" fill="#000">C</text>
<text transform="translate(5 25) scale(1 1.12)" x="0" y="0" font-family='"Liberation Serif", serif' font-size="28" font-weight="bold" fill="#000">A</text>
</svg>
</body></html>
